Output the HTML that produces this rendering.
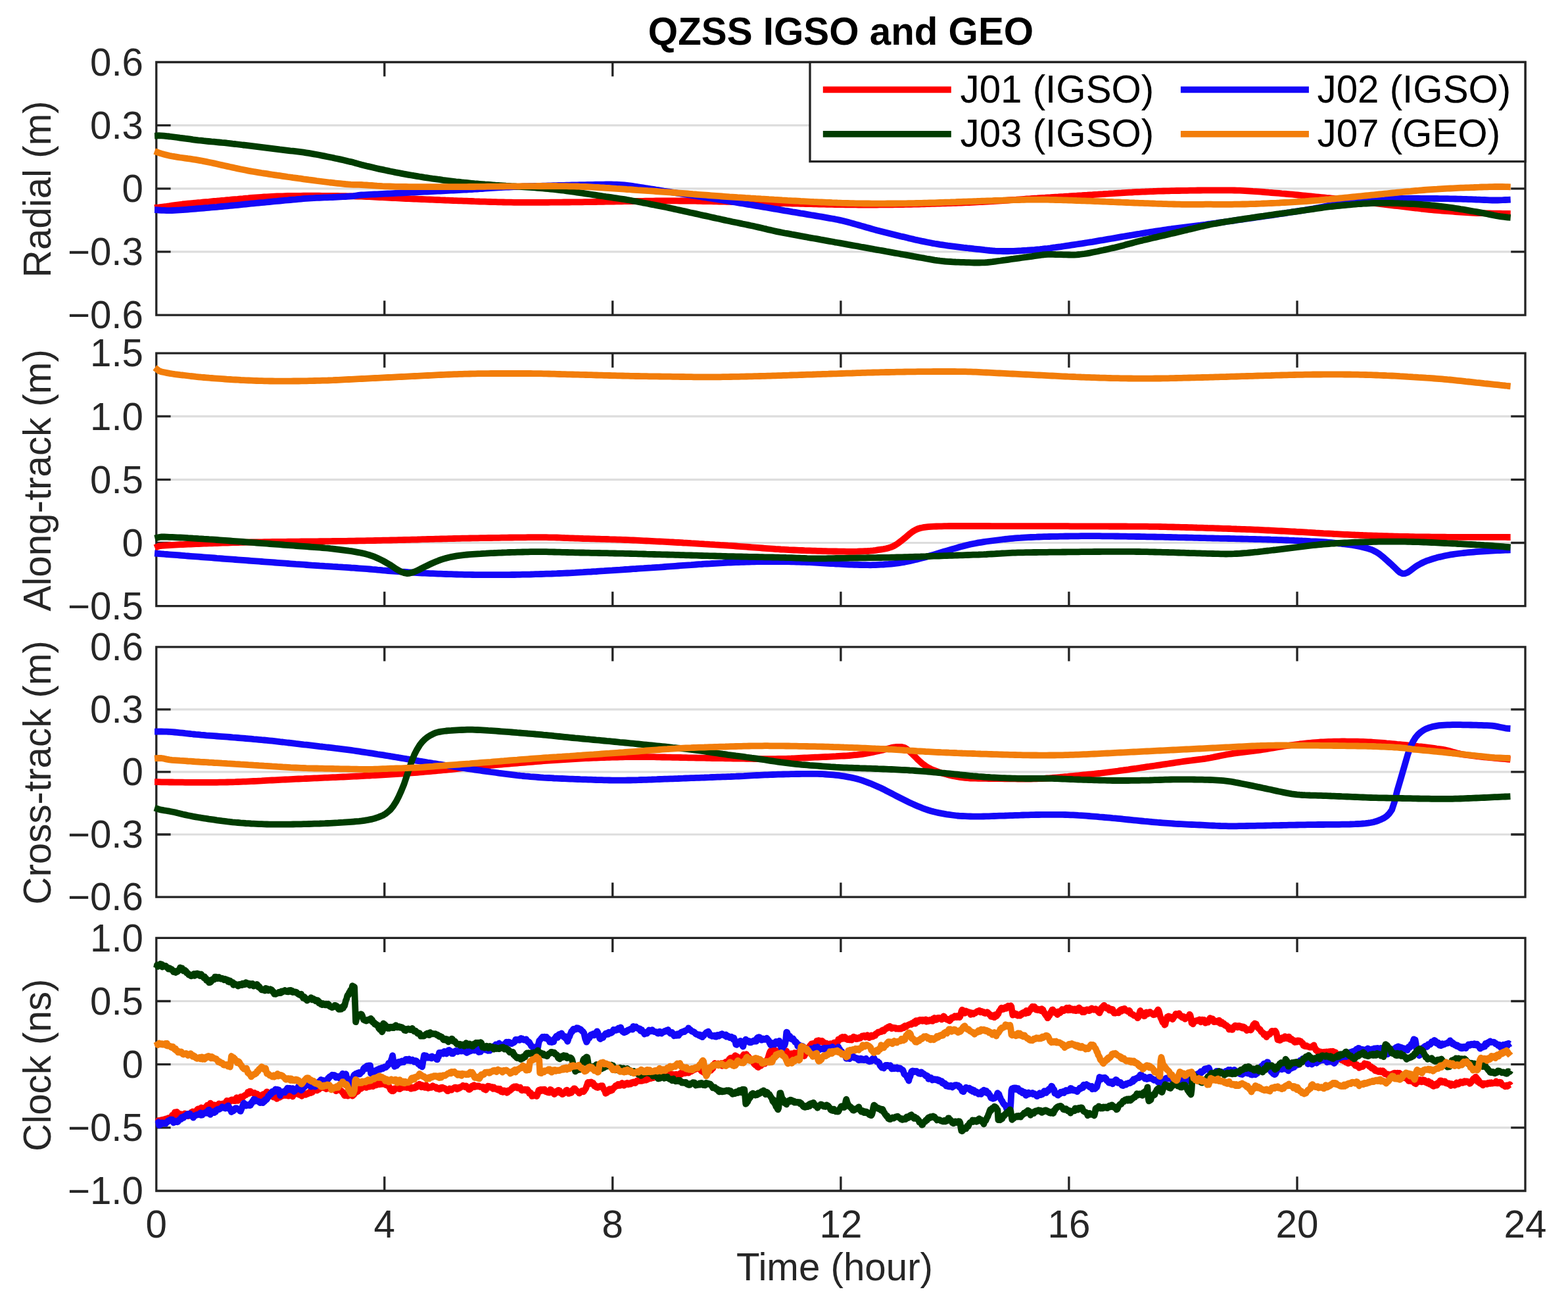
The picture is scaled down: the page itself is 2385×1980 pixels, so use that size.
<!DOCTYPE html>
<html lang="en"><head><meta charset="utf-8"><title>QZSS IGSO and GEO</title>
<style>html,body{margin:0;padding:0;background:#fff}svg{display:block}text{font-family:"Liberation Sans", Arial, Helvetica, sans-serif;font-size:58.3px}.t{fill:#262626}.k{fill:#000}.c{fill:none;stroke-width:9.8;stroke-linejoin:round;stroke-linecap:butt}.a{stroke:#232323;stroke-width:3.3;fill:none}.g{stroke:#dddddd;stroke-width:3.2}</style></head><body>
<svg xmlns="http://www.w3.org/2000/svg" width="2385" height="1980" viewBox="0 0 2385 1980">
<rect width="2385" height="1980" fill="#fff"/>
<text class="k" x="1279.0" y="67.6" text-anchor="middle" font-weight="bold">QZSS IGSO and GEO</text>
<g>
<line class="g" x1="237.8" y1="190.6" x2="2320" y2="190.6"/>
<line class="g" x1="237.8" y1="286.8" x2="2320" y2="286.8"/>
<line class="g" x1="237.8" y1="382.9" x2="2320" y2="382.9"/>
<path class="a" d="M237.8,94.5 H2320 V479.1 H237.8 Z M584.8,94.5 v21.8 M584.8,479.1 v-21.8 M931.8,94.5 v21.8 M931.8,479.1 v-21.8 M1278.9,94.5 v21.8 M1278.9,479.1 v-21.8 M1625.9,94.5 v21.8 M1625.9,479.1 v-21.8 M1973,94.5 v21.8 M1973,479.1 v-21.8 M237.8,190.6 h21.8 M2320,190.6 h-21.8 M237.8,286.8 h21.8 M2320,286.8 h-21.8 M237.8,382.9 h21.8 M2320,382.9 h-21.8"/>
<text class="t" x="218.0" y="114.8" text-anchor="end">0.6</text>
<text class="t" x="218.0" y="210.9" text-anchor="end">0.3</text>
<text class="t" x="218.0" y="307.1" text-anchor="end">0</text>
<text class="t" x="218.0" y="403.2" text-anchor="end">−0.3</text>
<text class="t" x="218.0" y="499.4" text-anchor="end">−0.6</text>
<text class="t" transform="translate(77.0,287.8) rotate(-90)" text-anchor="middle">Radial (m)</text>
<path class="c" stroke="#ff0000" d="M235.1,316 237.6,315.7 241.6,315.4 245.6,314.9 249.6,314.4 253.6,313.9 257.6,313.3 261.6,312.7 265.6,312.1 269.6,311.5 273.6,311 277.6,310.5 281.6,310.1 285.6,309.7 289.6,309.3 293.6,309 297.6,308.6 301.6,308.2 305.6,307.9 309.6,307.5 313.6,307.1 317.6,306.8 321.6,306.4 325.6,306 329.6,305.7 333.6,305.3 337.6,304.9 341.6,304.6 345.6,304.2 349.6,303.9 353.6,303.5 357.6,303.1 361.6,302.8 365.6,302.4 369.6,302.1 373.6,301.7 377.6,301.4 381.6,301 385.6,300.7 389.6,300.4 393.6,300.1 397.6,299.8 401.6,299.5 405.6,299.3 409.6,299.1 413.6,298.9 417.6,298.7 421.6,298.5 425.6,298.4 429.6,298.3 433.6,298.1 437.6,298 441.6,298 445.6,297.9 449.6,297.8 453.6,297.8 457.6,297.8 461.6,297.7 465.6,297.7 469.6,297.7 473.6,297.7 477.6,297.7 481.6,297.7 485.6,297.7 489.6,297.8 493.6,297.8 497.6,297.8 501.6,297.9 505.6,297.9 509.6,298 513.6,298 517.6,298.1 521.6,298.1 525.6,298.2 529.6,298.3 533.6,298.3 537.6,298.4 541.6,298.5 545.6,298.6 549.6,298.7 553.6,298.9 557.6,299.1 561.6,299.2 565.6,299.4 569.6,299.6 573.6,299.8 577.6,300 581.6,300.2 585.6,300.4 589.6,300.6 593.6,300.8 597.6,301 601.6,301.2 605.6,301.4 609.6,301.6 613.6,301.8 617.6,302 621.6,302.2 625.6,302.4 629.6,302.5 633.6,302.7 637.6,302.9 641.6,303 645.6,303.2 649.6,303.4 653.6,303.5 657.6,303.7 661.6,303.9 665.6,304 669.6,304.2 673.6,304.3 677.6,304.5 681.6,304.6 685.6,304.8 689.6,305 693.6,305.1 697.6,305.3 701.6,305.4 705.6,305.6 709.6,305.7 713.6,305.9 717.6,306 721.6,306.2 725.6,306.3 729.6,306.5 733.6,306.6 737.6,306.7 741.6,306.9 745.6,307 749.6,307.1 753.6,307.2 757.6,307.3 761.6,307.4 765.6,307.5 769.6,307.6 773.6,307.7 777.6,307.7 781.6,307.8 785.6,307.8 789.6,307.8 793.6,307.9 797.7,307.9 801.7,307.9 805.7,307.9 809.7,307.9 813.7,307.9 817.7,307.9 821.7,307.8 825.7,307.8 829.7,307.8 833.7,307.8 837.7,307.7 841.7,307.7 845.7,307.7 849.7,307.6 853.7,307.6 857.7,307.5 861.7,307.5 865.7,307.5 869.7,307.4 873.7,307.4 877.7,307.4 881.7,307.3 885.7,307.3 889.7,307.2 893.7,307.2 897.7,307.1 901.7,307 905.7,307 909.7,306.9 913.7,306.8 917.7,306.8 921.7,306.7 925.7,306.6 929.7,306.6 933.7,306.5 937.7,306.4 941.7,306.3 945.7,306.3 949.7,306.2 953.7,306.1 957.7,306.1 961.7,306 965.7,305.9 969.7,305.9 973.7,305.8 977.7,305.8 981.7,305.7 985.7,305.7 989.7,305.6 993.7,305.6 997.7,305.5 1001.7,305.5 1005.7,305.5 1009.7,305.5 1013.7,305.4 1017.7,305.4 1021.7,305.4 1025.7,305.4 1029.7,305.4 1033.7,305.5 1037.7,305.5 1041.7,305.5 1045.7,305.6 1049.7,305.6 1053.7,305.7 1057.7,305.7 1061.7,305.8 1065.7,305.9 1069.7,306 1073.7,306.1 1077.7,306.1 1081.7,306.2 1085.7,306.3 1089.7,306.4 1093.7,306.5 1097.7,306.6 1101.7,306.7 1105.7,306.8 1109.7,306.9 1113.7,307 1117.7,307.2 1121.7,307.3 1125.7,307.4 1129.7,307.5 1133.7,307.6 1137.7,307.7 1141.7,307.8 1145.7,307.9 1149.7,308 1153.7,308.1 1157.7,308.3 1161.7,308.4 1165.7,308.5 1169.7,308.6 1173.7,308.7 1177.7,308.8 1181.7,308.9 1185.7,309 1189.7,309.1 1193.7,309.2 1197.7,309.3 1201.7,309.4 1205.7,309.5 1209.7,309.6 1213.7,309.7 1217.7,309.8 1221.7,309.9 1225.7,310 1229.7,310.1 1233.7,310.2 1237.7,310.3 1241.7,310.4 1245.7,310.5 1249.7,310.6 1253.7,310.7 1257.7,310.8 1261.7,310.9 1265.7,310.9 1269.7,311 1273.7,311.1 1277.7,311.2 1281.7,311.2 1285.7,311.3 1289.7,311.3 1293.7,311.4 1297.7,311.4 1301.7,311.4 1305.7,311.5 1309.7,311.5 1313.7,311.5 1317.7,311.5 1321.7,311.5 1325.7,311.5 1329.7,311.5 1333.7,311.5 1337.7,311.4 1341.7,311.4 1345.7,311.4 1349.7,311.4 1353.7,311.3 1357.7,311.3 1361.7,311.2 1365.7,311.2 1369.7,311.1 1373.7,311 1377.7,310.9 1381.7,310.9 1385.7,310.8 1389.7,310.7 1393.7,310.6 1397.7,310.5 1401.7,310.4 1405.7,310.3 1409.7,310.2 1413.7,310 1417.7,309.9 1421.7,309.8 1425.7,309.7 1429.7,309.5 1433.7,309.4 1437.7,309.3 1441.7,309.2 1445.7,309 1449.7,308.9 1453.7,308.8 1457.7,308.6 1461.7,308.5 1465.7,308.3 1469.7,308.1 1473.7,308 1477.7,307.8 1481.7,307.6 1485.7,307.4 1489.7,307.2 1493.7,307 1497.7,306.8 1501.7,306.6 1505.7,306.3 1509.7,306.1 1513.7,305.8 1517.7,305.6 1521.7,305.3 1525.7,305 1529.7,304.8 1533.7,304.5 1537.7,304.2 1541.7,303.9 1545.7,303.7 1549.7,303.4 1553.7,303.1 1557.7,302.8 1561.7,302.5 1565.7,302.3 1569.7,302 1573.7,301.7 1577.7,301.5 1581.7,301.2 1585.7,300.9 1589.7,300.7 1593.7,300.4 1597.7,300.2 1601.7,299.9 1605.7,299.6 1609.7,299.4 1613.7,299.1 1617.7,298.9 1621.7,298.6 1625.7,298.4 1629.7,298.1 1633.7,297.8 1637.7,297.6 1641.7,297.3 1645.7,297.1 1649.7,296.8 1653.7,296.6 1657.7,296.3 1661.7,296.1 1665.7,295.8 1669.7,295.6 1673.7,295.3 1677.7,295.1 1681.7,294.8 1685.7,294.6 1689.7,294.3 1693.7,294.1 1697.7,293.8 1701.7,293.6 1705.7,293.4 1709.7,293.1 1713.7,292.9 1717.7,292.7 1721.7,292.5 1725.7,292.2 1729.7,292 1733.7,291.8 1737.7,291.6 1741.7,291.5 1745.7,291.3 1749.7,291.1 1753.7,291 1757.7,290.8 1761.7,290.7 1765.7,290.6 1769.7,290.5 1773.7,290.4 1777.7,290.3 1781.7,290.2 1785.7,290.1 1789.7,290 1793.7,290 1797.7,289.9 1801.7,289.8 1805.7,289.8 1809.7,289.7 1813.7,289.6 1817.7,289.6 1821.7,289.5 1825.7,289.5 1829.7,289.4 1833.7,289.4 1837.7,289.4 1841.7,289.3 1845.7,289.3 1849.7,289.3 1853.7,289.3 1857.7,289.3 1861.7,289.3 1865.7,289.3 1869.7,289.3 1873.7,289.4 1877.7,289.5 1881.7,289.6 1885.7,289.7 1889.7,289.9 1893.7,290.1 1897.7,290.3 1901.7,290.6 1905.7,290.9 1909.7,291.1 1913.7,291.4 1917.7,291.7 1921.7,292 1925.7,292.3 1929.7,292.7 1933.7,293 1937.7,293.3 1941.7,293.6 1945.7,293.9 1949.7,294.3 1953.7,294.6 1957.7,295 1961.7,295.3 1965.7,295.7 1969.7,296.1 1973.7,296.5 1977.7,296.9 1981.7,297.3 1985.7,297.7 1989.7,298.1 1993.7,298.5 1997.7,298.9 2001.7,299.3 2005.7,299.7 2009.7,300.1 2013.7,300.5 2017.7,300.9 2021.7,301.2 2025.7,301.6 2029.7,302 2033.7,302.3 2037.7,302.7 2041.7,303 2045.7,303.4 2049.7,303.8 2053.7,304.2 2057.7,304.6 2061.7,305 2065.7,305.5 2069.7,306 2073.7,306.5 2077.7,307.1 2081.7,307.6 2085.7,308.2 2089.7,308.8 2093.7,309.3 2097.7,309.8 2101.7,310.4 2105.7,310.8 2109.7,311.3 2113.7,311.8 2117.7,312.3 2121.7,312.8 2125.7,313.2 2129.7,313.7 2133.7,314.2 2137.7,314.6 2141.7,315.1 2145.7,315.6 2149.7,316.1 2153.7,316.5 2157.7,317 2161.7,317.5 2165.7,317.9 2169.7,318.4 2173.7,318.8 2177.7,319.2 2181.7,319.6 2185.7,319.9 2189.7,320.2 2193.7,320.6 2197.7,320.9 2201.7,321.1 2205.7,321.4 2209.7,321.7 2213.7,322 2217.7,322.3 2221.7,322.6 2225.7,322.9 2229.7,323.1 2233.7,323.4 2237.7,323.6 2241.7,323.8 2245.7,324 2249.7,324.1 2253.7,324.2 2257.7,324.3 2261.7,324.4 2265.7,324.5 2269.7,324.6 2273.7,324.6 2277.7,324.7 2281.7,324.7 2285.7,324.8 2289.7,324.8 2293.7,324.9 2297.7,324.9"/>
<path class="c" stroke="#1408f8" d="M235.1,319.1 237.6,319.2 241.6,319.5 245.6,319.8 249.6,319.9 253.6,320.1 257.6,320.1 261.6,320 265.6,319.8 269.6,319.6 273.6,319.4 277.6,319.1 281.6,318.8 285.6,318.5 289.6,318.1 293.6,317.8 297.6,317.5 301.6,317.1 305.6,316.8 309.6,316.5 313.6,316.1 317.6,315.8 321.6,315.4 325.6,315.1 329.6,314.8 333.6,314.4 337.6,314 341.6,313.7 345.6,313.3 349.6,312.9 353.6,312.5 357.6,312.2 361.6,311.8 365.6,311.4 369.6,310.9 373.6,310.5 377.6,310.1 381.6,309.7 385.6,309.3 389.6,308.9 393.6,308.5 397.6,308.1 401.6,307.8 405.6,307.4 409.6,307 413.6,306.6 417.6,306.2 421.6,305.9 425.6,305.5 429.6,305.1 433.6,304.7 437.6,304.4 441.6,304 445.6,303.6 449.6,303.3 453.6,302.9 457.6,302.6 461.6,302.2 465.6,301.9 469.6,301.6 473.6,301.4 477.6,301.2 481.6,300.9 485.6,300.8 489.6,300.6 493.6,300.4 497.6,300.3 501.6,300.1 505.6,300 509.6,299.8 513.6,299.6 517.6,299.4 521.6,299.2 525.6,299 529.6,298.7 533.6,298.4 537.6,298.1 541.6,297.5 545.6,296.9 549.6,296.5 553.6,296.3 557.6,296.1 561.6,295.9 565.6,295.7 569.6,295.5 573.6,295.3 577.6,295.1 581.6,294.9 585.6,294.7 589.6,294.5 593.6,294.3 597.6,294.1 601.6,293.9 605.6,293.7 609.6,293.5 613.6,293.3 617.6,293.1 621.6,292.9 625.6,292.7 629.6,292.5 633.6,292.3 637.6,292.1 641.6,291.9 645.6,291.7 649.6,291.5 653.6,291.3 657.6,291.1 661.6,290.9 665.6,290.7 669.6,290.5 673.6,290.3 677.6,290.1 681.6,289.9 685.6,289.7 689.6,289.5 693.6,289.3 697.6,289.1 701.6,288.9 705.6,288.7 709.6,288.5 713.6,288.2 717.6,288 721.6,287.7 725.6,287.5 729.6,287.2 733.6,287 737.6,286.7 741.6,286.4 745.6,286.2 749.6,285.9 753.6,285.6 757.6,285.4 761.6,285.2 765.6,284.9 769.6,284.7 773.6,284.5 777.6,284.3 781.6,284.1 785.6,284 789.6,283.8 793.6,283.7 797.7,283.5 801.7,283.4 805.7,283.2 809.7,283.1 813.7,283 817.7,282.9 821.7,282.8 825.7,282.7 829.7,282.6 833.7,282.4 837.7,282.3 841.7,282.2 845.7,282.1 849.7,282 853.7,281.9 857.7,281.8 861.7,281.7 865.7,281.6 869.7,281.5 873.7,281.4 877.7,281.3 881.7,281.2 885.7,281.1 889.7,281.1 893.7,281 897.7,280.9 901.7,280.8 905.7,280.7 909.7,280.7 913.7,280.6 917.7,280.6 921.7,280.5 925.7,280.5 929.7,280.5 933.7,280.6 937.7,280.7 941.7,280.9 945.7,281.1 949.7,281.5 953.7,281.9 957.7,282.3 961.7,282.9 965.7,283.5 969.7,284.2 973.7,284.8 977.7,285.4 981.7,286 985.7,286.7 989.7,287.3 993.7,287.9 997.7,288.6 1001.7,289.2 1005.7,289.8 1009.7,290.5 1013.7,291.1 1017.7,291.7 1021.7,292.4 1025.7,293 1029.7,293.6 1033.7,294.2 1037.7,294.9 1041.7,295.5 1045.7,296.1 1049.7,296.7 1053.7,297.3 1057.7,297.9 1061.7,298.6 1065.7,299.2 1069.7,299.8 1073.7,300.4 1077.7,301.1 1081.7,301.7 1085.7,302.3 1089.7,302.9 1093.7,303.6 1097.7,304.2 1101.7,304.9 1105.7,305.5 1109.7,306.2 1113.7,306.8 1117.7,307.5 1121.7,308.1 1125.7,308.8 1129.7,309.5 1133.7,310.1 1137.7,310.8 1141.7,311.5 1145.7,312.1 1149.7,312.8 1153.7,313.5 1157.7,314.2 1161.7,314.9 1165.7,315.5 1169.7,316.2 1173.7,316.9 1177.7,317.6 1181.7,318.2 1185.7,318.9 1189.7,319.6 1193.7,320.3 1197.7,320.9 1201.7,321.6 1205.7,322.3 1209.7,322.9 1213.7,323.6 1217.7,324.3 1221.7,324.9 1225.7,325.6 1229.7,326.3 1233.7,327 1237.7,327.6 1241.7,328.3 1245.7,329 1249.7,329.7 1253.7,330.4 1257.7,331.1 1261.7,331.8 1265.7,332.5 1269.7,333.2 1273.7,334 1277.7,334.9 1281.7,335.8 1285.7,336.8 1289.7,337.8 1293.7,338.9 1297.7,340 1301.7,341.1 1305.7,342.2 1309.7,343.4 1313.7,344.5 1317.7,345.7 1321.7,346.8 1325.7,348 1329.7,349.1 1333.7,350.2 1337.7,351.2 1341.7,352.2 1345.7,353.2 1349.7,354.2 1353.7,355.2 1357.7,356.2 1361.7,357.2 1365.7,358.2 1369.7,359.2 1373.7,360.1 1377.7,361.1 1381.7,362.1 1385.7,363 1389.7,363.9 1393.7,364.9 1397.7,365.7 1401.7,366.6 1405.7,367.4 1409.7,368.2 1413.7,369 1417.7,369.8 1421.7,370.5 1425.7,371.1 1429.7,371.8 1433.7,372.4 1437.7,373 1441.7,373.6 1445.7,374.1 1449.7,374.6 1453.7,375.1 1457.7,375.6 1461.7,376.1 1465.7,376.6 1469.7,377 1473.7,377.5 1477.7,377.9 1481.7,378.4 1485.7,378.8 1489.7,379.2 1493.7,379.7 1497.7,380.2 1501.7,380.6 1505.7,381 1509.7,381.3 1513.7,381.6 1517.7,381.8 1521.7,381.9 1525.7,382 1529.7,382 1533.7,382 1537.7,381.9 1541.7,381.8 1545.7,381.6 1549.7,381.4 1553.7,381.2 1557.7,380.9 1561.7,380.7 1565.7,380.4 1569.7,380.1 1573.7,379.8 1577.7,379.4 1581.7,379.1 1585.7,378.7 1589.7,378.2 1593.7,377.8 1597.7,377.3 1601.7,376.7 1605.7,376.2 1609.7,375.6 1613.7,375.1 1617.7,374.5 1621.7,373.9 1625.7,373.3 1629.7,372.7 1633.7,372.1 1637.7,371.5 1641.7,370.9 1645.7,370.3 1649.7,369.7 1653.7,369 1657.7,368.4 1661.7,367.8 1665.7,367.1 1669.7,366.4 1673.7,365.7 1677.7,365.1 1681.7,364.4 1685.7,363.7 1689.7,363 1693.7,362.3 1697.7,361.6 1701.7,360.9 1705.7,360.2 1709.7,359.5 1713.7,358.8 1717.7,358.2 1721.7,357.5 1725.7,356.8 1729.7,356.1 1733.7,355.5 1737.7,354.8 1741.7,354.2 1745.7,353.5 1749.7,352.9 1753.7,352.3 1757.7,351.7 1761.7,351.1 1765.7,350.5 1769.7,349.9 1773.7,349.3 1777.7,348.7 1781.7,348.2 1785.7,347.6 1789.7,347.1 1793.7,346.6 1797.7,346.1 1801.7,345.6 1805.7,345.1 1809.7,344.6 1813.7,344.1 1817.7,343.6 1821.7,343.1 1825.7,342.6 1829.7,342 1833.7,341.5 1837.7,340.9 1841.7,340.4 1845.7,339.8 1849.7,339.3 1853.7,338.7 1857.7,338.1 1861.7,337.6 1865.7,337 1869.7,336.5 1873.7,335.9 1877.7,335.3 1881.7,334.7 1885.7,334.2 1889.7,333.6 1893.7,333 1897.7,332.5 1901.7,331.9 1905.7,331.3 1909.7,330.7 1913.7,330.2 1917.7,329.6 1921.7,329 1925.7,328.4 1929.7,327.8 1933.7,327.3 1937.7,326.7 1941.7,326.1 1945.7,325.5 1949.7,324.9 1953.7,324.3 1957.7,323.7 1961.7,323 1965.7,322.4 1969.7,321.8 1973.7,321.2 1977.7,320.6 1981.7,320 1985.7,319.4 1989.7,318.7 1993.7,318 1997.7,317.3 2001.7,316.5 2005.7,315.8 2009.7,315 2013.7,314.2 2017.7,313.4 2021.7,312.6 2025.7,311.9 2029.7,311.1 2033.7,310.4 2037.7,309.8 2041.7,309.1 2045.7,308.6 2049.7,308 2053.7,307.6 2057.7,307.2 2061.7,307 2065.7,306.8 2069.7,306.6 2073.7,306.4 2077.7,306.3 2081.7,306.1 2085.7,305.9 2089.7,305.6 2093.7,305.3 2097.7,304.9 2101.7,304.5 2105.7,304.1 2109.7,303.6 2113.7,303.2 2117.7,302.8 2121.7,302.5 2125.7,302.2 2129.7,302 2133.7,301.9 2137.7,301.8 2141.7,301.7 2145.7,301.7 2149.7,301.7 2153.7,301.7 2157.7,301.7 2161.7,301.8 2165.7,301.8 2169.7,301.9 2173.7,301.9 2177.7,301.9 2181.7,302 2185.7,302 2189.7,302.1 2193.7,302.1 2197.7,302.2 2201.7,302.2 2205.7,302.3 2209.7,302.4 2213.7,302.5 2217.7,302.6 2221.7,302.7 2225.7,302.8 2229.7,302.9 2233.7,303.1 2237.7,303.2 2241.7,303.3 2245.7,303.5 2249.7,303.6 2253.7,303.8 2257.7,304 2261.7,304.2 2265.7,304.4 2269.7,304.5 2273.7,304.5 2277.7,304.5 2281.7,304.3 2285.7,304.2 2289.7,304 2293.7,303.9 2297.7,303.7"/>
<path class="c" stroke="#003c00" d="M235.1,206.6 237.6,206.5 241.6,206.2 245.6,206.4 249.6,206.7 253.6,207.1 257.6,207.5 261.6,208 265.6,208.5 269.6,209 273.6,209.6 277.6,210.1 281.6,210.7 285.6,211.2 289.6,211.7 293.6,212.3 297.6,212.8 301.6,213.3 305.6,213.7 309.6,214.2 313.6,214.6 317.6,215 321.6,215.4 325.6,215.7 329.6,216.1 333.6,216.5 337.6,216.9 341.6,217.2 345.6,217.7 349.6,218.1 353.6,218.6 357.6,219 361.6,219.5 365.6,220 369.6,220.5 373.6,220.9 377.6,221.4 381.6,221.9 385.6,222.4 389.6,222.9 393.6,223.4 397.6,223.9 401.6,224.4 405.6,224.9 409.6,225.4 413.6,225.9 417.6,226.4 421.6,226.9 425.6,227.4 429.6,227.8 433.6,228.3 437.6,228.8 441.6,229.3 445.6,229.7 449.6,230.2 453.6,230.7 457.6,231.2 461.6,231.7 465.6,232.3 469.6,232.9 473.6,233.6 477.6,234.3 481.6,235 485.6,235.8 489.6,236.6 493.6,237.4 497.6,238.2 501.6,239 505.6,239.8 509.6,240.7 513.6,241.5 517.6,242.4 521.6,243.3 525.6,244.2 529.6,245.2 533.6,246.1 537.6,247.1 541.6,248.3 545.6,249.4 549.6,250.5 553.6,251.5 557.6,252.5 561.6,253.4 565.6,254.3 569.6,255.3 573.6,256.2 577.6,257.1 581.6,257.9 585.6,258.8 589.6,259.6 593.6,260.5 597.6,261.3 601.6,262.1 605.6,262.8 609.6,263.6 613.6,264.4 617.6,265.1 621.6,265.8 625.6,266.5 629.6,267.2 633.6,267.8 637.6,268.5 641.6,269.1 645.6,269.8 649.6,270.4 653.6,271 657.6,271.6 661.6,272.1 665.6,272.7 669.6,273.2 673.6,273.8 677.6,274.3 681.6,274.8 685.6,275.3 689.6,275.8 693.6,276.3 697.6,276.7 701.6,277.2 705.6,277.6 709.6,278 713.6,278.4 717.6,278.8 721.6,279.2 725.6,279.5 729.6,279.8 733.6,280.1 737.6,280.5 741.6,280.7 745.6,281 749.6,281.3 753.6,281.6 757.6,281.8 761.6,282.1 765.6,282.3 769.6,282.6 773.6,282.8 777.6,283.1 781.6,283.3 785.6,283.6 789.6,283.8 793.6,284.1 797.7,284.3 801.7,284.6 805.7,284.9 809.7,285.1 813.7,285.4 817.7,285.8 821.7,286.1 825.7,286.4 829.7,286.8 833.7,287.1 837.7,287.5 841.7,287.9 845.7,288.3 849.7,288.8 853.7,289.3 857.7,289.7 861.7,290.3 865.7,290.8 869.7,291.4 873.7,292 877.7,292.6 881.7,293.1 885.7,293.7 889.7,294.3 893.7,294.9 897.7,295.5 901.7,296.1 905.7,296.7 909.7,297.3 913.7,297.9 917.7,298.5 921.7,299.1 925.7,299.6 929.7,300.2 933.7,300.8 937.7,301.4 941.7,302 945.7,302.6 949.7,303.2 953.7,303.9 957.7,304.5 961.7,305.3 965.7,306 969.7,306.7 973.7,307.5 977.7,308.3 981.7,309 985.7,309.8 989.7,310.6 993.7,311.3 997.7,312.1 1001.7,312.9 1005.7,313.7 1009.7,314.5 1013.7,315.3 1017.7,316.1 1021.7,317 1025.7,317.9 1029.7,318.8 1033.7,319.6 1037.7,320.5 1041.7,321.4 1045.7,322.3 1049.7,323.2 1053.7,324 1057.7,324.9 1061.7,325.8 1065.7,326.7 1069.7,327.6 1073.7,328.4 1077.7,329.3 1081.7,330.2 1085.7,331.1 1089.7,332 1093.7,332.8 1097.7,333.7 1101.7,334.6 1105.7,335.5 1109.7,336.3 1113.7,337.2 1117.7,338 1121.7,338.8 1125.7,339.6 1129.7,340.5 1133.7,341.3 1137.7,342.1 1141.7,343 1145.7,343.8 1149.7,344.7 1153.7,345.6 1157.7,346.5 1161.7,347.5 1165.7,348.4 1169.7,349.4 1173.7,350.3 1177.7,351.2 1181.7,352.1 1185.7,352.9 1189.7,353.7 1193.7,354.5 1197.7,355.2 1201.7,355.9 1205.7,356.7 1209.7,357.4 1213.7,358.1 1217.7,358.9 1221.7,359.6 1225.7,360.3 1229.7,361.1 1233.7,361.8 1237.7,362.5 1241.7,363.2 1245.7,363.9 1249.7,364.7 1253.7,365.4 1257.7,366.1 1261.7,366.8 1265.7,367.5 1269.7,368.3 1273.7,369 1277.7,369.7 1281.7,370.4 1285.7,371.1 1289.7,371.9 1293.7,372.6 1297.7,373.3 1301.7,374 1305.7,374.7 1309.7,375.5 1313.7,376.2 1317.7,376.9 1321.7,377.6 1325.7,378.3 1329.7,379.1 1333.7,379.8 1337.7,380.5 1341.7,381.2 1345.7,381.9 1349.7,382.7 1353.7,383.4 1357.7,384.1 1361.7,384.8 1365.7,385.5 1369.7,386.3 1373.7,387 1377.7,387.7 1381.7,388.4 1385.7,389.1 1389.7,389.9 1393.7,390.6 1397.7,391.3 1401.7,392 1405.7,392.7 1409.7,393.5 1413.7,394.2 1417.7,394.9 1421.7,395.6 1425.7,396.2 1429.7,396.7 1433.7,397.1 1437.7,397.5 1441.7,397.8 1445.7,398 1449.7,398.3 1453.7,398.5 1457.7,398.6 1461.7,398.8 1465.7,398.9 1469.7,399.1 1473.7,399.2 1477.7,399.4 1481.7,399.5 1485.7,399.5 1489.7,399.5 1493.7,399.4 1497.7,399.3 1501.7,399 1505.7,398.6 1509.7,398.2 1513.7,397.6 1517.7,397 1521.7,396.5 1525.7,395.9 1529.7,395.4 1533.7,394.8 1537.7,394.2 1541.7,393.7 1545.7,393.1 1549.7,392.6 1553.7,392 1557.7,391.4 1561.7,390.9 1565.7,390.3 1569.7,389.8 1573.7,389.2 1577.7,388.6 1581.7,388.1 1585.7,387.5 1589.7,387.1 1593.7,386.8 1597.7,386.8 1601.7,386.8 1605.7,387 1609.7,387.1 1613.7,387.2 1617.7,387.3 1621.7,387.4 1625.7,387.5 1629.7,387.6 1633.7,387.6 1637.7,387.4 1641.7,387 1645.7,386.5 1649.7,386 1653.7,385.3 1657.7,384.6 1661.7,383.8 1665.7,383 1669.7,382.2 1673.7,381.3 1677.7,380.5 1681.7,379.6 1685.7,378.7 1689.7,377.8 1693.7,376.9 1697.7,375.9 1701.7,374.9 1705.7,373.9 1709.7,372.9 1713.7,371.8 1717.7,370.7 1721.7,369.7 1725.7,368.6 1729.7,367.5 1733.7,366.5 1737.7,365.6 1741.7,364.6 1745.7,363.7 1749.7,362.7 1753.7,361.8 1757.7,360.9 1761.7,359.9 1765.7,359 1769.7,358.1 1773.7,357.2 1777.7,356.2 1781.7,355.3 1785.7,354.4 1789.7,353.4 1793.7,352.5 1797.7,351.5 1801.7,350.5 1805.7,349.6 1809.7,348.6 1813.7,347.7 1817.7,346.7 1821.7,345.8 1825.7,344.8 1829.7,343.9 1833.7,343 1837.7,342.1 1841.7,341.3 1845.7,340.5 1849.7,339.8 1853.7,339.1 1857.7,338.4 1861.7,337.7 1865.7,337 1869.7,336.4 1873.7,335.8 1877.7,335.1 1881.7,334.5 1885.7,333.9 1889.7,333.3 1893.7,332.7 1897.7,332.1 1901.7,331.5 1905.7,330.9 1909.7,330.3 1913.7,329.7 1917.7,329.1 1921.7,328.6 1925.7,328 1929.7,327.4 1933.7,326.9 1937.7,326.3 1941.7,325.7 1945.7,325.2 1949.7,324.6 1953.7,324.1 1957.7,323.5 1961.7,323 1965.7,322.4 1969.7,321.8 1973.7,321.3 1977.7,320.7 1981.7,320.1 1985.7,319.5 1989.7,319 1993.7,318.4 1997.7,317.8 2001.7,317.2 2005.7,316.7 2009.7,316.1 2013.7,315.5 2017.7,315 2021.7,314.5 2025.7,314 2029.7,313.6 2033.7,313.2 2037.7,312.8 2041.7,312.4 2045.7,312 2049.7,311.6 2053.7,311.3 2057.7,310.9 2061.7,310.6 2065.7,310.2 2069.7,310 2073.7,309.7 2077.7,309.5 2081.7,309.3 2085.7,309.1 2089.7,308.9 2093.7,308.8 2097.7,308.8 2101.7,308.8 2105.7,308.8 2109.7,308.8 2113.7,308.9 2117.7,309 2121.7,309.1 2125.7,309.2 2129.7,309.3 2133.7,309.5 2137.7,309.6 2141.7,309.8 2145.7,310 2149.7,310.2 2153.7,310.4 2157.7,310.7 2161.7,311 2165.7,311.3 2169.7,311.6 2173.7,311.9 2177.7,312.3 2181.7,312.7 2185.7,313.1 2189.7,313.6 2193.7,314.1 2197.7,314.6 2201.7,315.1 2205.7,315.6 2209.7,316.2 2213.7,316.8 2217.7,317.4 2221.7,318.1 2225.7,318.7 2229.7,319.4 2233.7,320.1 2237.7,320.8 2241.7,321.5 2245.7,322.2 2249.7,322.9 2253.7,323.6 2257.7,324.4 2261.7,325.3 2265.7,326.1 2269.7,326.9 2273.7,327.7 2277.7,328.5 2281.7,329.1 2285.7,329.6 2289.7,330.1 2293.7,330.6 2297.7,330.9"/>
<path class="c" stroke="#f27d0a" d="M235.1,230 237.6,230.9 241.6,232.3 245.6,233.6 249.6,234.7 253.6,235.7 257.6,236.7 261.6,237.5 265.6,238.2 269.6,238.8 273.6,239.5 277.6,240 281.6,240.6 285.6,241.2 289.6,241.7 293.6,242.3 297.6,242.9 301.6,243.6 305.6,244.3 309.6,245.1 313.6,245.9 317.6,246.7 321.6,247.5 325.6,248.4 329.6,249.3 333.6,250.2 337.6,251.1 341.6,252 345.6,252.9 349.6,253.8 353.6,254.6 357.6,255.5 361.6,256.4 365.6,257.2 369.6,258 373.6,258.8 377.6,259.6 381.6,260.3 385.6,261 389.6,261.7 393.6,262.3 397.6,263 401.6,263.6 405.6,264.2 409.6,264.9 413.6,265.5 417.6,266.1 421.6,266.7 425.6,267.2 429.6,267.8 433.6,268.4 437.6,269 441.6,269.5 445.6,270.1 449.6,270.6 453.6,271.2 457.6,271.7 461.6,272.3 465.6,272.8 469.6,273.4 473.6,273.9 477.6,274.4 481.6,275 485.6,275.5 489.6,276 493.6,276.5 497.6,277 501.6,277.5 505.6,277.9 509.6,278.4 513.6,278.8 517.6,279.2 521.6,279.6 525.6,280 529.6,280.3 533.6,280.6 537.6,280.8 541.6,280.9 545.6,280.9 549.6,281 553.6,281.3 557.6,281.5 561.6,281.8 565.6,282 569.6,282.3 573.6,282.6 577.6,282.8 581.6,283.1 585.6,283.3 589.6,283.4 593.6,283.5 597.6,283.6 601.6,283.8 605.6,283.8 609.6,283.9 613.6,284 617.6,284 621.6,284.1 625.6,284.1 629.6,284.1 633.6,284.1 637.6,284.2 641.6,284.2 645.6,284.2 649.6,284.2 653.6,284.2 657.6,284.2 661.6,284.2 665.6,284.2 669.6,284.2 673.6,284.2 677.6,284.2 681.6,284.2 685.6,284.2 689.6,284.2 693.6,284.2 697.6,284.1 701.6,284.1 705.6,284.1 709.6,284.1 713.6,284 717.6,284 721.6,284 725.6,283.9 729.6,283.9 733.6,283.8 737.6,283.8 741.6,283.7 745.6,283.7 749.6,283.6 753.6,283.6 757.6,283.6 761.6,283.5 765.6,283.5 769.6,283.4 773.6,283.4 777.6,283.4 781.6,283.3 785.6,283.3 789.6,283.3 793.6,283.2 797.7,283.2 801.7,283.2 805.7,283.1 809.7,283.1 813.7,283.1 817.7,283 821.7,283 825.7,283 829.7,283 833.7,283 837.7,283 841.7,283 845.7,283 849.7,283.1 853.7,283.1 857.7,283.2 861.7,283.2 865.7,283.3 869.7,283.3 873.7,283.4 877.7,283.5 881.7,283.7 885.7,283.8 889.7,284 893.7,284.2 897.7,284.4 901.7,284.6 905.7,284.8 909.7,285 913.7,285.3 917.7,285.5 921.7,285.8 925.7,286 929.7,286.3 933.7,286.6 937.7,286.9 941.7,287.1 945.7,287.4 949.7,287.7 953.7,288 957.7,288.2 961.7,288.5 965.7,288.8 969.7,289.1 973.7,289.3 977.7,289.6 981.7,289.9 985.7,290.2 989.7,290.4 993.7,290.7 997.7,291 1001.7,291.3 1005.7,291.6 1009.7,291.9 1013.7,292.1 1017.7,292.4 1021.7,292.7 1025.7,293 1029.7,293.3 1033.7,293.6 1037.7,293.9 1041.7,294.2 1045.7,294.5 1049.7,294.8 1053.7,295.2 1057.7,295.5 1061.7,295.8 1065.7,296.1 1069.7,296.4 1073.7,296.7 1077.7,297 1081.7,297.3 1085.7,297.6 1089.7,297.9 1093.7,298.2 1097.7,298.5 1101.7,298.8 1105.7,299.1 1109.7,299.4 1113.7,299.6 1117.7,299.9 1121.7,300.2 1125.7,300.4 1129.7,300.7 1133.7,301 1137.7,301.2 1141.7,301.5 1145.7,301.7 1149.7,302 1153.7,302.2 1157.7,302.5 1161.7,302.7 1165.7,302.9 1169.7,303.2 1173.7,303.4 1177.7,303.7 1181.7,303.9 1185.7,304.1 1189.7,304.4 1193.7,304.6 1197.7,304.9 1201.7,305.1 1205.7,305.3 1209.7,305.5 1213.7,305.7 1217.7,306 1221.7,306.2 1225.7,306.4 1229.7,306.6 1233.7,306.8 1237.7,307 1241.7,307.1 1245.7,307.3 1249.7,307.5 1253.7,307.7 1257.7,307.9 1261.7,308 1265.7,308.2 1269.7,308.3 1273.7,308.5 1277.7,308.6 1281.7,308.8 1285.7,308.9 1289.7,309 1293.7,309.1 1297.7,309.2 1301.7,309.3 1305.7,309.3 1309.7,309.4 1313.7,309.5 1317.7,309.5 1321.7,309.5 1325.7,309.6 1329.7,309.6 1333.7,309.6 1337.7,309.6 1341.7,309.6 1345.7,309.6 1349.7,309.5 1353.7,309.5 1357.7,309.5 1361.7,309.5 1365.7,309.4 1369.7,309.4 1373.7,309.3 1377.7,309.3 1381.7,309.2 1385.7,309.1 1389.7,309.1 1393.7,309 1397.7,308.9 1401.7,308.8 1405.7,308.7 1409.7,308.6 1413.7,308.5 1417.7,308.4 1421.7,308.3 1425.7,308.1 1429.7,308 1433.7,307.9 1437.7,307.7 1441.7,307.6 1445.7,307.5 1449.7,307.3 1453.7,307.2 1457.7,307 1461.7,306.9 1465.7,306.7 1469.7,306.6 1473.7,306.4 1477.7,306.3 1481.7,306.1 1485.7,306 1489.7,305.8 1493.7,305.7 1497.7,305.6 1501.7,305.4 1505.7,305.3 1509.7,305.2 1513.7,305 1517.7,304.9 1521.7,304.8 1525.7,304.7 1529.7,304.5 1533.7,304.4 1537.7,304.3 1541.7,304.2 1545.7,304.1 1549.7,304 1553.7,303.9 1557.7,303.8 1561.7,303.7 1565.7,303.7 1569.7,303.6 1573.7,303.6 1577.7,303.6 1581.7,303.6 1585.7,303.6 1589.7,303.7 1593.7,303.7 1597.7,303.8 1601.7,303.9 1605.7,304 1609.7,304.1 1613.7,304.2 1617.7,304.3 1621.7,304.4 1625.7,304.6 1629.7,304.7 1633.7,304.8 1637.7,305 1641.7,305.1 1645.7,305.3 1649.7,305.4 1653.7,305.6 1657.7,305.7 1661.7,305.9 1665.7,306.1 1669.7,306.2 1673.7,306.4 1677.7,306.5 1681.7,306.7 1685.7,306.8 1689.7,307 1693.7,307.2 1697.7,307.3 1701.7,307.5 1705.7,307.7 1709.7,307.8 1713.7,308 1717.7,308.2 1721.7,308.3 1725.7,308.5 1729.7,308.6 1733.7,308.8 1737.7,308.9 1741.7,309.1 1745.7,309.2 1749.7,309.4 1753.7,309.5 1757.7,309.7 1761.7,309.8 1765.7,309.9 1769.7,310.1 1773.7,310.2 1777.7,310.3 1781.7,310.4 1785.7,310.5 1789.7,310.6 1793.7,310.7 1797.7,310.8 1801.7,310.8 1805.7,310.9 1809.7,310.9 1813.7,310.9 1817.7,310.9 1821.7,310.9 1825.7,310.8 1829.7,310.8 1833.7,310.7 1837.7,310.7 1841.7,310.7 1845.7,310.8 1849.7,310.8 1853.7,310.8 1857.7,310.8 1861.7,310.8 1865.7,310.8 1869.7,310.8 1873.7,310.8 1877.7,310.7 1881.7,310.7 1885.7,310.6 1889.7,310.5 1893.7,310.5 1897.7,310.3 1901.7,310.2 1905.7,310.1 1909.7,310 1913.7,309.8 1917.7,309.7 1921.7,309.5 1925.7,309.4 1929.7,309.2 1933.7,309 1937.7,308.8 1941.7,308.7 1945.7,308.5 1949.7,308.2 1953.7,308 1957.7,307.8 1961.7,307.6 1965.7,307.3 1969.7,307.1 1973.7,306.9 1977.7,306.6 1981.7,306.3 1985.7,306.1 1989.7,305.8 1993.7,305.5 1997.7,305.2 2001.7,304.9 2005.7,304.6 2009.7,304.2 2013.7,303.8 2017.7,303.4 2021.7,303.1 2025.7,302.7 2029.7,302.3 2033.7,301.9 2037.7,301.5 2041.7,301.1 2045.7,300.7 2049.7,300.3 2053.7,299.9 2057.7,299.5 2061.7,299.1 2065.7,298.7 2069.7,298.3 2073.7,297.9 2077.7,297.5 2081.7,297.1 2085.7,296.7 2089.7,296.3 2093.7,295.9 2097.7,295.5 2101.7,295.1 2105.7,294.7 2109.7,294.3 2113.7,293.9 2117.7,293.5 2121.7,293.1 2125.7,292.7 2129.7,292.3 2133.7,291.9 2137.7,291.5 2141.7,291.1 2145.7,290.8 2149.7,290.4 2153.7,290 2157.7,289.7 2161.7,289.3 2165.7,289 2169.7,288.7 2173.7,288.4 2177.7,288.1 2181.7,287.8 2185.7,287.6 2189.7,287.3 2193.7,287.1 2197.7,286.9 2201.7,286.7 2205.7,286.5 2209.7,286.3 2213.7,286.1 2217.7,285.9 2221.7,285.7 2225.7,285.6 2229.7,285.4 2233.7,285.3 2237.7,285.1 2241.7,285 2245.7,284.8 2249.7,284.7 2253.7,284.5 2257.7,284.4 2261.7,284.3 2265.7,284.2 2269.7,284.1 2273.7,284 2277.7,284 2281.7,284 2285.7,284 2289.7,284.1 2293.7,284.2 2297.7,284.3"/>
</g>
<g>
<line class="g" x1="237.8" y1="633.2" x2="2320" y2="633.2"/>
<line class="g" x1="237.8" y1="729.4" x2="2320" y2="729.4"/>
<line class="g" x1="237.8" y1="825.5" x2="2320" y2="825.5"/>
<path class="a" d="M237.8,537.1 H2320 V921.6 H237.8 Z M584.8,537.1 v21.8 M584.8,921.6 v-21.8 M931.8,537.1 v21.8 M931.8,921.6 v-21.8 M1278.9,537.1 v21.8 M1278.9,921.6 v-21.8 M1625.9,537.1 v21.8 M1625.9,921.6 v-21.8 M1973,537.1 v21.8 M1973,921.6 v-21.8 M237.8,633.2 h21.8 M2320,633.2 h-21.8 M237.8,729.4 h21.8 M2320,729.4 h-21.8 M237.8,825.5 h21.8 M2320,825.5 h-21.8"/>
<text class="t" x="218.0" y="557.4" text-anchor="end">1.5</text>
<text class="t" x="218.0" y="653.5" text-anchor="end">1.0</text>
<text class="t" x="218.0" y="749.6" text-anchor="end">0.5</text>
<text class="t" x="218.0" y="845.8" text-anchor="end">0</text>
<text class="t" x="218.0" y="941.9" text-anchor="end">−0.5</text>
<text class="t" transform="translate(77.0,730.4) rotate(-90)" text-anchor="middle">Along-track (m)</text>
<path class="c" stroke="#ff0000" d="M235.5,833 238,832 242,830.4 246,829.8 250,829.5 254,829.3 258,829 262,828.8 266,828.6 270.1,828.4 274.1,828.2 278.1,828.1 282.1,827.9 286.1,827.7 290.1,827.6 294.1,827.4 298.1,827.2 302.1,827 306.1,826.9 310.1,826.7 314.1,826.6 318.1,826.4 322.1,826.3 326.2,826.1 330.2,826 334.2,825.9 338.2,825.7 342.2,825.6 346.2,825.5 350.2,825.4 354.2,825.2 358.2,825.1 362.2,825 366.2,824.9 370.2,824.8 374.2,824.7 378.2,824.6 382.3,824.5 386.3,824.5 390.3,824.4 394.3,824.3 398.3,824.3 402.3,824.2 406.3,824.2 410.3,824.1 414.3,824 418.3,824 422.3,823.9 426.3,823.9 430.3,823.8 434.3,823.8 438.4,823.7 442.4,823.7 446.4,823.6 450.4,823.6 454.4,823.6 458.4,823.5 462.4,823.5 466.4,823.4 470.4,823.4 474.4,823.4 478.4,823.3 482.4,823.3 486.4,823.2 490.4,823.2 494.4,823.2 498.5,823.1 502.5,823.1 506.5,823 510.5,823 514.5,822.9 518.5,822.9 522.5,822.8 526.5,822.8 530.5,822.7 534.5,822.6 538.5,822.6 542.5,822.5 546.5,822.4 550.5,822.4 554.6,822.3 558.6,822.2 562.6,822.1 566.6,822.1 570.6,822 574.6,821.9 578.6,821.8 582.6,821.7 586.6,821.7 590.6,821.6 594.6,821.5 598.6,821.4 602.6,821.3 606.6,821.2 610.7,821.1 614.7,821 618.7,820.9 622.7,820.8 626.7,820.7 630.7,820.6 634.7,820.5 638.7,820.3 642.7,820.2 646.7,820.1 650.7,820 654.7,819.9 658.7,819.8 662.7,819.7 666.7,819.6 670.8,819.5 674.8,819.4 678.8,819.3 682.8,819.2 686.8,819.1 690.8,819 694.8,818.9 698.8,818.8 702.8,818.7 706.8,818.7 710.8,818.6 714.8,818.5 718.8,818.4 722.8,818.4 726.9,818.3 730.9,818.2 734.9,818.1 738.9,818.1 742.9,818 746.9,818 750.9,817.9 754.9,817.8 758.9,817.8 762.9,817.7 766.9,817.6 770.9,817.6 774.9,817.5 778.9,817.5 783,817.4 787,817.4 791,817.3 795,817.3 799,817.3 803,817.2 807,817.2 811,817.2 815,817.2 819,817.2 823,817.2 827,817.2 831,817.2 835,817.3 839.1,817.3 843.1,817.4 847.1,817.5 851.1,817.6 855.1,817.8 859.1,818 863.1,818.1 867.1,818.3 871.1,818.4 875.1,818.6 879.1,818.7 883.1,818.8 887.1,819 891.1,819.1 895.1,819.2 899.2,819.3 903.2,819.4 907.2,819.6 911.2,819.7 915.2,819.8 919.2,819.9 923.2,820 927.2,820.2 931.2,820.3 935.2,820.4 939.2,820.6 943.2,820.7 947.2,820.9 951.2,821 955.3,821.2 959.3,821.4 963.3,821.5 967.3,821.7 971.3,821.9 975.3,822.1 979.3,822.3 983.3,822.5 987.3,822.7 991.3,822.9 995.3,823.1 999.3,823.3 1003.3,823.5 1007.3,823.7 1011.4,823.9 1015.4,824.1 1019.4,824.3 1023.4,824.5 1027.4,824.8 1031.4,825 1035.4,825.2 1039.4,825.5 1043.4,825.7 1047.4,825.9 1051.4,826.2 1055.4,826.4 1059.4,826.6 1063.4,826.9 1067.4,827.1 1071.5,827.4 1075.5,827.6 1079.5,827.9 1083.5,828.1 1087.5,828.4 1091.5,828.6 1095.5,828.9 1099.5,829.1 1103.5,829.4 1107.5,829.7 1111.5,829.9 1115.5,830.2 1119.5,830.5 1123.5,830.8 1127.6,831.1 1131.6,831.4 1135.6,831.7 1139.6,832 1143.6,832.3 1147.6,832.6 1151.6,832.9 1155.6,833.2 1159.6,833.5 1163.6,833.8 1167.6,834.1 1171.6,834.4 1175.6,834.7 1179.6,835 1183.7,835.2 1187.7,835.5 1191.7,835.7 1195.7,835.9 1199.7,836.2 1203.7,836.3 1207.7,836.5 1211.7,836.7 1215.7,836.9 1219.7,837 1223.7,837.2 1227.7,837.3 1231.7,837.4 1235.7,837.6 1239.8,837.7 1243.8,837.8 1247.8,837.9 1251.8,838.1 1255.8,838.2 1259.8,838.3 1263.8,838.4 1267.8,838.5 1271.8,838.5 1275.8,838.6 1279.8,838.7 1283.8,838.7 1287.8,838.8 1291.8,838.8 1295.8,838.8 1299.9,838.8 1303.9,838.7 1307.9,838.5 1311.9,838.4 1315.9,838.2 1319.9,838 1323.9,837.7 1327.9,837.3 1331.9,836.8 1335.9,836.2 1339.9,835.6 1343.9,835 1347.9,834.2 1351.9,833.2 1356,831.9 1360,830 1364,827.6 1368,824.7 1372,821.6 1376,818.4 1380,815 1384,811.6 1388,808.5 1392,806.1 1396,804.2 1400,803 1404,802.2 1408,801.6 1412.1,801.1 1416.1,800.8 1420.1,800.6 1424.1,800.5 1428.1,800.4 1432.1,800.3 1436.1,800.2 1440.1,800.1 1444.1,800 1448.1,800 1452.1,800 1456.1,800 1460.1,800 1464.1,800 1468.2,800 1472.2,800 1476.2,800 1480.2,800 1484.2,800 1488.2,800 1492.2,800 1496.2,800 1500.2,800 1504.2,800 1508.2,800.1 1512.2,800.1 1516.2,800.1 1520.2,800.1 1524.2,800.1 1528.3,800.1 1532.3,800.2 1536.3,800.2 1540.3,800.2 1544.3,800.2 1548.3,800.2 1552.3,800.2 1556.3,800.2 1560.3,800.2 1564.3,800.2 1568.3,800.2 1572.3,800.2 1576.3,800.2 1580.3,800.2 1584.4,800.2 1588.4,800.2 1592.4,800.2 1596.4,800.2 1600.4,800.2 1604.4,800.2 1608.4,800.2 1612.4,800.2 1616.4,800.2 1620.4,800.2 1624.4,800.2 1628.4,800.3 1632.4,800.3 1636.4,800.3 1640.5,800.3 1644.5,800.3 1648.5,800.3 1652.5,800.3 1656.5,800.4 1660.5,800.4 1664.5,800.4 1668.5,800.4 1672.5,800.4 1676.5,800.4 1680.5,800.4 1684.5,800.4 1688.5,800.5 1692.5,800.5 1696.5,800.5 1700.6,800.5 1704.6,800.5 1708.6,800.5 1712.6,800.5 1716.6,800.6 1720.6,800.6 1724.6,800.6 1728.6,800.6 1732.6,800.6 1736.6,800.6 1740.6,800.7 1744.6,800.7 1748.6,800.8 1752.6,800.8 1756.7,800.9 1760.7,800.9 1764.7,801 1768.7,801.1 1772.7,801.2 1776.7,801.3 1780.7,801.4 1784.7,801.5 1788.7,801.6 1792.7,801.7 1796.7,801.8 1800.7,801.9 1804.7,802 1808.7,802.1 1812.8,802.2 1816.8,802.3 1820.8,802.5 1824.8,802.6 1828.8,802.7 1832.8,802.8 1836.8,803 1840.8,803.1 1844.8,803.2 1848.8,803.4 1852.8,803.5 1856.8,803.6 1860.8,803.8 1864.8,803.9 1868.9,804 1872.9,804.2 1876.9,804.3 1880.9,804.5 1884.9,804.6 1888.9,804.8 1892.9,804.9 1896.9,805.1 1900.9,805.2 1904.9,805.4 1908.9,805.6 1912.9,805.7 1916.9,805.9 1920.9,806.1 1924.9,806.3 1929,806.5 1933,806.7 1937,806.9 1941,807.1 1945,807.3 1949,807.5 1953,807.7 1957,807.9 1961,808.1 1965,808.3 1969,808.5 1973,808.8 1977,809 1981,809.2 1985.1,809.4 1989.1,809.7 1993.1,809.9 1997.1,810.1 2001.1,810.4 2005.1,810.6 2009.1,810.8 2013.1,811.1 2017.1,811.3 2021.1,811.5 2025.1,811.7 2029.1,812 2033.1,812.2 2037.1,812.4 2041.2,812.6 2045.2,812.8 2049.2,812.9 2053.2,813.1 2057.2,813.3 2061.2,813.5 2065.2,813.6 2069.2,813.8 2073.2,814 2077.2,814.1 2081.2,814.3 2085.2,814.4 2089.2,814.6 2093.2,814.7 2097.2,814.9 2101.3,815 2105.3,815.1 2109.3,815.2 2113.3,815.4 2117.3,815.5 2121.3,815.6 2125.3,815.7 2129.3,815.8 2133.3,815.9 2137.3,816 2141.3,816 2145.3,816.1 2149.3,816.2 2153.3,816.3 2157.4,816.3 2161.4,816.4 2165.4,816.4 2169.4,816.5 2173.4,816.5 2177.4,816.6 2181.4,816.6 2185.4,816.7 2189.4,816.7 2193.4,816.7 2197.4,816.7 2201.4,816.8 2205.4,816.8 2209.4,816.8 2213.5,816.8 2217.5,816.8 2221.5,816.8 2225.5,816.8 2229.5,816.8 2233.5,816.8 2237.5,816.8 2241.5,816.8 2245.5,816.8 2249.5,816.8 2253.5,816.8 2257.5,816.8 2261.5,816.8 2265.5,816.8 2269.6,816.8 2273.6,816.8 2277.6,816.8 2281.6,816.9 2285.6,816.9 2289.6,816.9 2293.6,817 2297.6,817"/>
<path class="c" stroke="#1408f8" d="M235.1,841.5 237.6,841.7 241.6,842 245.6,842.3 249.6,842.7 253.7,843 257.7,843.3 261.7,843.6 265.7,843.9 269.7,844.2 273.7,844.5 277.7,844.8 281.7,845.2 285.7,845.5 289.7,845.8 293.7,846.1 297.7,846.4 301.7,846.7 305.8,847 309.8,847.3 313.8,847.6 317.8,847.9 321.8,848.2 325.8,848.5 329.8,848.9 333.8,849.2 337.8,849.5 341.8,849.8 345.8,850.1 349.8,850.4 353.8,850.7 357.9,851 361.9,851.3 365.9,851.6 369.9,851.9 373.9,852.2 377.9,852.5 381.9,852.8 385.9,853.1 389.9,853.4 393.9,853.7 397.9,854 401.9,854.3 405.9,854.6 410,854.9 414,855.2 418,855.5 422,855.8 426,856.1 430,856.4 434,856.7 438,857 442,857.3 446,857.6 450,857.9 454,858.1 458,858.4 462.1,858.7 466.1,859 470.1,859.3 474.1,859.6 478.1,859.8 482.1,860.1 486.1,860.4 490.1,860.6 494.1,860.9 498.1,861.1 502.1,861.4 506.1,861.7 510.1,861.9 514.2,862.2 518.2,862.4 522.2,862.7 526.2,862.9 530.2,863.2 534.2,863.5 538.2,863.7 542.2,864 546.2,864.3 550.2,864.6 554.2,864.9 558.2,865.2 562.2,865.5 566.3,865.9 570.3,866.2 574.3,866.6 578.3,866.9 582.3,867.3 586.3,867.6 590.3,868 594.3,868.3 598.3,868.6 602.3,868.9 606.3,869.2 610.3,869.5 614.3,869.7 618.4,870 622.4,870.3 626.4,870.5 630.4,870.8 634.4,871 638.4,871.3 642.4,871.5 646.4,871.7 650.4,871.9 654.4,872.1 658.4,872.2 662.4,872.4 666.4,872.6 670.5,872.7 674.5,872.9 678.5,873 682.5,873.1 686.5,873.2 690.5,873.4 694.5,873.5 698.5,873.6 702.5,873.7 706.5,873.8 710.5,873.8 714.5,873.9 718.5,874 722.6,874.1 726.6,874.1 730.6,874.2 734.6,874.2 738.6,874.2 742.6,874.2 746.6,874.2 750.6,874.2 754.6,874.2 758.6,874.2 762.6,874.2 766.6,874.2 770.6,874.1 774.7,874.1 778.7,874 782.7,874 786.7,873.9 790.7,873.8 794.7,873.7 798.7,873.6 802.7,873.6 806.7,873.5 810.7,873.3 814.7,873.2 818.7,873.1 822.7,873 826.8,872.9 830.8,872.7 834.8,872.6 838.8,872.5 842.8,872.3 846.8,872.2 850.8,872 854.8,871.9 858.8,871.7 862.8,871.5 866.8,871.3 870.8,871.1 874.9,870.9 878.9,870.6 882.9,870.4 886.9,870.2 890.9,869.9 894.9,869.7 898.9,869.5 902.9,869.2 906.9,869 910.9,868.7 914.9,868.4 918.9,868.2 922.9,867.9 927,867.6 931,867.4 935,867.1 939,866.8 943,866.6 947,866.3 951,866 955,865.8 959,865.5 963,865.2 967,865 971,864.7 975,864.4 979.1,864.2 983.1,863.9 987.1,863.6 991.1,863.4 995.1,863.1 999.1,862.8 1003.1,862.6 1007.1,862.3 1011.1,862 1015.1,861.7 1019.1,861.4 1023.1,861.1 1027.1,860.8 1031.2,860.5 1035.2,860.2 1039.2,859.9 1043.2,859.6 1047.2,859.3 1051.2,859.1 1055.2,858.8 1059.2,858.5 1063.2,858.2 1067.2,858 1071.2,857.7 1075.2,857.5 1079.2,857.3 1083.3,857 1087.3,856.8 1091.3,856.6 1095.3,856.4 1099.3,856.2 1103.3,855.9 1107.3,855.7 1111.3,855.6 1115.3,855.4 1119.3,855.2 1123.3,855.1 1127.3,854.9 1131.3,854.8 1135.4,854.6 1139.4,854.5 1143.4,854.4 1147.4,854.3 1151.4,854.2 1155.4,854.1 1159.4,854 1163.4,854 1167.4,854 1171.4,854 1175.4,853.9 1179.4,854 1183.4,854 1187.5,854 1191.5,854.1 1195.5,854.1 1199.5,854.2 1203.5,854.3 1207.5,854.4 1211.5,854.5 1215.5,854.6 1219.5,854.8 1223.5,854.9 1227.5,855.1 1231.5,855.2 1235.5,855.4 1239.6,855.6 1243.6,855.8 1247.6,856 1251.6,856.3 1255.6,856.5 1259.6,856.8 1263.6,857 1267.6,857.2 1271.6,857.5 1275.6,857.7 1279.6,857.9 1283.6,858.1 1287.6,858.3 1291.7,858.5 1295.7,858.6 1299.7,858.8 1303.7,858.9 1307.7,859 1311.7,859.1 1315.7,859.2 1319.7,859.2 1323.7,859.3 1327.7,859.2 1331.7,859.1 1335.7,858.9 1339.7,858.7 1343.8,858.5 1347.8,858.2 1351.8,857.9 1355.8,857.5 1359.8,857.1 1363.8,856.7 1367.8,856.1 1371.8,855.5 1375.8,854.8 1379.8,854 1383.8,853.2 1387.8,852.3 1391.8,851.3 1395.9,850.4 1399.9,849.3 1403.9,848.3 1407.9,847.2 1411.9,846 1415.9,844.8 1419.9,843.6 1423.9,842.4 1427.9,841.2 1431.9,840 1435.9,838.8 1439.9,837.6 1444,836.4 1448,835.2 1452,834.1 1456,833 1460,831.8 1464,830.8 1468,829.7 1472,828.7 1476,827.8 1480,827 1484,826.2 1488,825.4 1492,824.8 1496.1,824.1 1500.1,823.5 1504.1,823 1508.1,822.5 1512.1,822 1516.1,821.5 1520.1,821 1524.1,820.5 1528.1,820 1532.1,819.6 1536.1,819.2 1540.1,818.8 1544.1,818.4 1548.2,818.1 1552.2,817.9 1556.2,817.6 1560.2,817.4 1564.2,817.2 1568.2,817 1572.2,816.8 1576.2,816.7 1580.2,816.5 1584.2,816.4 1588.2,816.2 1592.2,816.1 1596.2,816 1600.3,815.9 1604.3,815.9 1608.3,815.8 1612.3,815.7 1616.3,815.6 1620.3,815.5 1624.3,815.5 1628.3,815.4 1632.3,815.4 1636.3,815.3 1640.3,815.3 1644.3,815.2 1648.3,815.2 1652.4,815.2 1656.4,815.2 1660.4,815.2 1664.4,815.2 1668.4,815.2 1672.4,815.2 1676.4,815.3 1680.4,815.3 1684.4,815.3 1688.4,815.4 1692.4,815.4 1696.4,815.5 1700.4,815.5 1704.5,815.6 1708.5,815.6 1712.5,815.7 1716.5,815.8 1720.5,815.8 1724.5,815.9 1728.5,816 1732.5,816 1736.5,816.1 1740.5,816.2 1744.5,816.3 1748.5,816.3 1752.5,816.4 1756.6,816.5 1760.6,816.6 1764.6,816.7 1768.6,816.7 1772.6,816.8 1776.6,816.9 1780.6,817 1784.6,817.1 1788.6,817.2 1792.6,817.3 1796.6,817.4 1800.6,817.4 1804.6,817.5 1808.7,817.6 1812.7,817.7 1816.7,817.8 1820.7,817.9 1824.7,818 1828.7,818.1 1832.7,818.2 1836.7,818.3 1840.7,818.4 1844.7,818.5 1848.7,818.6 1852.7,818.7 1856.7,818.8 1860.8,818.9 1864.8,818.9 1868.8,819 1872.8,819.1 1876.8,819.2 1880.8,819.3 1884.8,819.4 1888.8,819.5 1892.8,819.6 1896.8,819.7 1900.8,819.8 1904.8,819.9 1908.8,820 1912.9,820.1 1916.9,820.2 1920.9,820.3 1924.9,820.4 1928.9,820.5 1932.9,820.7 1936.9,820.8 1940.9,820.9 1944.9,821.1 1948.9,821.2 1952.9,821.4 1956.9,821.5 1960.9,821.7 1965,821.8 1969,822 1973,822.1 1977,822.3 1981,822.5 1985,822.6 1989,822.8 1993,823.1 1997,823.3 2001,823.5 2005,823.7 2009,823.9 2013.1,824.2 2017.1,824.5 2021.1,824.8 2025.1,825.2 2029.1,825.6 2033.1,826.1 2037.1,826.5 2041.1,827 2045.1,827.4 2049.1,827.9 2053.1,828.4 2057.1,829 2061.1,829.7 2065.2,830.5 2069.2,831.3 2073.2,832.3 2077.2,833.3 2081.2,834.3 2085.2,835.6 2089.2,837.3 2093.2,839.4 2097.2,841.9 2101.2,845 2105.2,848.3 2109.2,851.9 2113.2,855.5 2117.3,859.2 2121.3,863.1 2125.3,867 2129.3,870.6 2133.3,872.3 2137.3,872.1 2141.3,870.4 2145.3,867.7 2149.3,864.7 2153.3,861.7 2157.3,859.2 2161.3,857 2165.3,855 2169.4,853.2 2173.4,851.8 2177.4,850.5 2181.4,849.3 2185.4,848.1 2189.4,847.1 2193.4,846.2 2197.4,845.3 2201.4,844.5 2205.4,843.7 2209.4,843.1 2213.4,842.5 2217.4,842 2221.5,841.5 2225.5,841 2229.5,840.6 2233.5,840.2 2237.5,839.8 2241.5,839.5 2245.5,839.2 2249.5,838.9 2253.5,838.6 2257.5,838.3 2261.5,838.1 2265.5,837.8 2269.5,837.6 2273.6,837.4 2277.6,837.2 2281.6,837 2285.6,836.9 2289.6,836.7 2293.6,836.5 2297.6,836.4"/>
<path class="c" stroke="#003c00" d="M235.5,818.6 238,818 242,817 246,816.4 250,816.5 254,816.6 258,816.8 262,816.9 266,817.1 270.1,817.3 274.1,817.5 278.1,817.7 282.1,817.9 286.1,818.2 290.1,818.4 294.1,818.7 298.1,818.9 302.1,819.2 306.1,819.4 310.1,819.7 314.1,819.9 318.1,820.2 322.1,820.4 326.2,820.7 330.2,821 334.2,821.3 338.2,821.6 342.2,821.9 346.2,822.2 350.2,822.5 354.2,822.8 358.2,823.1 362.2,823.4 366.2,823.7 370.2,824 374.2,824.3 378.2,824.6 382.3,824.9 386.3,825.2 390.3,825.5 394.3,825.8 398.3,826.1 402.3,826.4 406.3,826.7 410.3,827 414.3,827.3 418.3,827.6 422.3,827.9 426.3,828.2 430.3,828.5 434.3,828.8 438.4,829.1 442.4,829.4 446.4,829.7 450.4,830 454.4,830.3 458.4,830.6 462.4,830.9 466.4,831.2 470.4,831.5 474.4,831.8 478.4,832.1 482.4,832.4 486.4,832.7 490.4,833 494.4,833.4 498.5,833.7 502.5,834.2 506.5,834.6 510.5,835.1 514.5,835.6 518.5,836.1 522.5,836.6 526.5,837.1 530.5,837.7 534.5,838.2 538.5,838.9 542.5,839.6 546.5,840.3 550.5,841.1 554.6,842 558.6,843.1 562.6,844.3 566.6,845.7 570.6,847.2 574.6,849 578.6,850.9 582.6,852.9 586.6,855.1 590.6,857.4 594.6,859.8 598.6,862.5 602.6,865.2 606.6,867.5 610.7,869.7 614.7,871.2 618.7,872 622.7,871.8 626.7,870.8 630.7,869.4 634.7,867.6 638.7,865.7 642.7,863.6 646.7,861.6 650.7,859.7 654.7,857.8 658.7,856 662.7,854.3 666.7,852.7 670.8,851.2 674.8,849.9 678.8,848.7 682.8,847.7 686.8,846.8 690.8,846.1 694.8,845.4 698.8,844.8 702.8,844.3 706.8,843.9 710.8,843.5 714.8,843.2 718.8,842.9 722.8,842.6 726.9,842.3 730.9,842.1 734.9,841.8 738.9,841.6 742.9,841.3 746.9,841.1 750.9,841 754.9,840.8 758.9,840.6 762.9,840.5 766.9,840.3 770.9,840.2 774.9,840 778.9,839.9 783,839.8 787,839.7 791,839.6 795,839.5 799,839.4 803,839.3 807,839.2 811,839.2 815,839.1 819,839.1 823,839.1 827,839.2 831,839.2 835,839.3 839.1,839.4 843.1,839.5 847.1,839.6 851.1,839.7 855.1,839.8 859.1,839.9 863.1,840 867.1,840.1 871.1,840.2 875.1,840.3 879.1,840.4 883.1,840.5 887.1,840.5 891.1,840.6 895.1,840.7 899.2,840.8 903.2,840.8 907.2,840.9 911.2,841 915.2,841.1 919.2,841.1 923.2,841.2 927.2,841.3 931.2,841.4 935.2,841.5 939.2,841.6 943.2,841.6 947.2,841.7 951.2,841.8 955.3,841.9 959.3,842 963.3,842.1 967.3,842.2 971.3,842.3 975.3,842.4 979.3,842.5 983.3,842.7 987.3,842.8 991.3,842.9 995.3,843 999.3,843.1 1003.3,843.2 1007.3,843.3 1011.4,843.4 1015.4,843.5 1019.4,843.6 1023.4,843.7 1027.4,843.8 1031.4,843.9 1035.4,844.1 1039.4,844.2 1043.4,844.3 1047.4,844.4 1051.4,844.5 1055.4,844.6 1059.4,844.7 1063.4,844.9 1067.4,845 1071.5,845.1 1075.5,845.2 1079.5,845.3 1083.5,845.4 1087.5,845.5 1091.5,845.6 1095.5,845.7 1099.5,845.9 1103.5,846 1107.5,846.1 1111.5,846.2 1115.5,846.2 1119.5,846.3 1123.5,846.4 1127.6,846.5 1131.6,846.6 1135.6,846.7 1139.6,846.8 1143.6,846.8 1147.6,846.9 1151.6,847 1155.6,847.1 1159.6,847.2 1163.6,847.3 1167.6,847.3 1171.6,847.4 1175.6,847.5 1179.6,847.6 1183.7,847.7 1187.7,847.8 1191.7,847.8 1195.7,848 1199.7,848.1 1203.7,848.2 1207.7,848.4 1211.7,848.6 1215.7,848.7 1219.7,848.9 1223.7,849 1227.7,849.2 1231.7,849.3 1235.7,849.4 1239.8,849.4 1243.8,849.4 1247.8,849.4 1251.8,849.4 1255.8,849.3 1259.8,849.2 1263.8,849.2 1267.8,849.1 1271.8,849 1275.8,849 1279.8,848.9 1283.8,848.8 1287.8,848.8 1291.8,848.7 1295.8,848.6 1299.9,848.6 1303.9,848.5 1307.9,848.4 1311.9,848.4 1315.9,848.3 1319.9,848.2 1323.9,848.2 1327.9,848.1 1331.9,848.1 1335.9,848 1339.9,848 1343.9,847.9 1347.9,847.8 1351.9,847.8 1356,847.7 1360,847.6 1364,847.5 1368,847.4 1372,847.3 1376,847.2 1380,847.1 1384,847 1388,846.9 1392,846.7 1396,846.6 1400,846.5 1404,846.3 1408,846.2 1412.1,846 1416.1,845.9 1420.1,845.7 1424.1,845.6 1428.1,845.5 1432.1,845.3 1436.1,845.2 1440.1,845.1 1444.1,844.9 1448.1,844.8 1452.1,844.7 1456.1,844.5 1460.1,844.4 1464.1,844.3 1468.2,844.1 1472.2,844 1476.2,843.9 1480.2,843.7 1484.2,843.6 1488.2,843.5 1492.2,843.3 1496.2,843.2 1500.2,843 1504.2,842.7 1508.2,842.5 1512.2,842.3 1516.2,842 1520.2,841.8 1524.2,841.5 1528.3,841.3 1532.3,841.1 1536.3,840.9 1540.3,840.7 1544.3,840.6 1548.3,840.4 1552.3,840.4 1556.3,840.3 1560.3,840.2 1564.3,840.2 1568.3,840.1 1572.3,840 1576.3,840 1580.3,839.9 1584.4,839.9 1588.4,839.8 1592.4,839.8 1596.4,839.7 1600.4,839.7 1604.4,839.7 1608.4,839.6 1612.4,839.6 1616.4,839.5 1620.4,839.5 1624.4,839.4 1628.4,839.4 1632.4,839.4 1636.4,839.3 1640.5,839.3 1644.5,839.2 1648.5,839.2 1652.5,839.2 1656.5,839.1 1660.5,839.1 1664.5,839 1668.5,839 1672.5,839 1676.5,838.9 1680.5,838.9 1684.5,838.9 1688.5,838.9 1692.5,838.8 1696.5,838.8 1700.6,838.8 1704.6,838.8 1708.6,838.8 1712.6,838.8 1716.6,838.9 1720.6,838.9 1724.6,838.9 1728.6,839 1732.6,839 1736.6,839.1 1740.6,839.2 1744.6,839.2 1748.6,839.3 1752.6,839.4 1756.7,839.5 1760.7,839.6 1764.7,839.7 1768.7,839.8 1772.7,839.9 1776.7,840 1780.7,840.1 1784.7,840.2 1788.7,840.4 1792.7,840.5 1796.7,840.6 1800.7,840.7 1804.7,840.8 1808.7,841 1812.8,841.1 1816.8,841.2 1820.8,841.3 1824.8,841.4 1828.8,841.6 1832.8,841.7 1836.8,841.8 1840.8,841.9 1844.8,842 1848.8,842.1 1852.8,842.2 1856.8,842.3 1860.8,842.4 1864.8,842.5 1868.9,842.4 1872.9,842.3 1876.9,842.2 1880.9,842 1884.9,841.8 1888.9,841.5 1892.9,841.2 1896.9,840.9 1900.9,840.5 1904.9,840.1 1908.9,839.7 1912.9,839.3 1916.9,838.8 1920.9,838.4 1924.9,837.9 1929,837.5 1933,837 1937,836.5 1941,836.1 1945,835.6 1949,835.1 1953,834.6 1957,834.1 1961,833.6 1965,833.1 1969,832.6 1973,832.1 1977,831.6 1981,831.1 1985.1,830.6 1989.1,830.1 1993.1,829.6 1997.1,829.2 2001.1,828.8 2005.1,828.4 2009.1,828 2013.1,827.7 2017.1,827.4 2021.1,827 2025.1,826.7 2029.1,826.5 2033.1,826.2 2037.1,825.9 2041.2,825.7 2045.2,825.5 2049.2,825.3 2053.2,825.1 2057.2,824.9 2061.2,824.7 2065.2,824.6 2069.2,824.4 2073.2,824.3 2077.2,824.2 2081.2,824.1 2085.2,824 2089.2,823.9 2093.2,823.8 2097.2,823.7 2101.3,823.7 2105.3,823.6 2109.3,823.6 2113.3,823.6 2117.3,823.6 2121.3,823.6 2125.3,823.6 2129.3,823.6 2133.3,823.6 2137.3,823.7 2141.3,823.8 2145.3,823.9 2149.3,824 2153.3,824.1 2157.4,824.2 2161.4,824.4 2165.4,824.5 2169.4,824.7 2173.4,824.9 2177.4,825 2181.4,825.2 2185.4,825.4 2189.4,825.6 2193.4,825.8 2197.4,826 2201.4,826.2 2205.4,826.3 2209.4,826.5 2213.5,826.7 2217.5,827 2221.5,827.2 2225.5,827.4 2229.5,827.6 2233.5,827.8 2237.5,828 2241.5,828.2 2245.5,828.5 2249.5,828.7 2253.5,828.9 2257.5,829.2 2261.5,829.4 2265.5,829.7 2269.6,830 2273.6,830.3 2277.6,830.6 2281.6,830.9 2285.6,831.2 2289.6,831.6 2293.6,832 2297.6,832.4"/>
<path class="c" stroke="#f27d0a" d="M235.5,559.1 238,561 242,564.2 246,565.5 250,566.3 254,567.1 258,567.9 262,568.5 266,569.1 270.1,569.6 274.1,570.1 278.1,570.5 282.1,571 286.1,571.5 290.1,572 294.1,572.4 298.1,572.9 302.1,573.3 306.1,573.7 310.1,574 314.1,574.3 318.1,574.7 322.1,575 326.2,575.3 330.2,575.6 334.2,575.9 338.2,576.2 342.2,576.5 346.2,576.8 350.2,577 354.2,577.3 358.2,577.5 362.2,577.7 366.2,578 370.2,578.2 374.2,578.4 378.2,578.5 382.3,578.7 386.3,578.9 390.3,579 394.3,579.1 398.3,579.2 402.3,579.3 406.3,579.4 410.3,579.5 414.3,579.5 418.3,579.6 422.3,579.6 426.3,579.6 430.3,579.6 434.3,579.6 438.4,579.6 442.4,579.6 446.4,579.5 450.4,579.5 454.4,579.5 458.4,579.4 462.4,579.3 466.4,579.3 470.4,579.2 474.4,579.1 478.4,579 482.4,578.9 486.4,578.8 490.4,578.7 494.4,578.6 498.5,578.5 502.5,578.3 506.5,578.2 510.5,578 514.5,577.8 518.5,577.6 522.5,577.4 526.5,577.2 530.5,577 534.5,576.8 538.5,576.6 542.5,576.4 546.5,576.2 550.5,576 554.6,575.8 558.6,575.6 562.6,575.4 566.6,575.2 570.6,575 574.6,574.8 578.6,574.6 582.6,574.4 586.6,574.2 590.6,574 594.6,573.8 598.6,573.6 602.6,573.4 606.6,573.2 610.7,573 614.7,572.8 618.7,572.6 622.7,572.4 626.7,572.2 630.7,572 634.7,571.8 638.7,571.6 642.7,571.4 646.7,571.2 650.7,571 654.7,570.8 658.7,570.6 662.7,570.4 666.7,570.2 670.8,570 674.8,569.9 678.8,569.7 682.8,569.5 686.8,569.4 690.8,569.2 694.8,569.1 698.8,568.9 702.8,568.8 706.8,568.7 710.8,568.6 714.8,568.5 718.8,568.4 722.8,568.3 726.9,568.2 730.9,568.2 734.9,568.1 738.9,568.1 742.9,568.1 746.9,568 750.9,568 754.9,568 758.9,568 762.9,568 766.9,568 770.9,568 774.9,568 778.9,568 783,568 787,568 791,568 795,568 799,568 803,568 807,568 811,568.1 815,568.1 819,568.2 823,568.2 827,568.3 831,568.4 835,568.5 839.1,568.6 843.1,568.7 847.1,568.9 851.1,569 855.1,569.1 859.1,569.2 863.1,569.3 867.1,569.4 871.1,569.5 875.1,569.6 879.1,569.7 883.1,569.8 887.1,569.9 891.1,570 895.1,570.1 899.2,570.2 903.2,570.4 907.2,570.5 911.2,570.6 915.2,570.7 919.2,570.8 923.2,570.9 927.2,571 931.2,571.1 935.2,571.2 939.2,571.3 943.2,571.4 947.2,571.5 951.2,571.6 955.3,571.7 959.3,571.8 963.3,571.9 967.3,572 971.3,572 975.3,572.1 979.3,572.2 983.3,572.2 987.3,572.3 991.3,572.3 995.3,572.4 999.3,572.4 1003.3,572.5 1007.3,572.6 1011.4,572.6 1015.4,572.7 1019.4,572.7 1023.4,572.8 1027.4,572.9 1031.4,572.9 1035.4,573 1039.4,573 1043.4,573.1 1047.4,573.2 1051.4,573.2 1055.4,573.3 1059.4,573.3 1063.4,573.3 1067.4,573.4 1071.5,573.4 1075.5,573.4 1079.5,573.4 1083.5,573.4 1087.5,573.4 1091.5,573.4 1095.5,573.3 1099.5,573.2 1103.5,573.2 1107.5,573.1 1111.5,573 1115.5,572.9 1119.5,572.8 1123.5,572.8 1127.6,572.7 1131.6,572.6 1135.6,572.5 1139.6,572.4 1143.6,572.3 1147.6,572.2 1151.6,572.1 1155.6,572 1159.6,571.9 1163.6,571.8 1167.6,571.7 1171.6,571.6 1175.6,571.4 1179.6,571.3 1183.7,571.2 1187.7,571.1 1191.7,570.9 1195.7,570.8 1199.7,570.7 1203.7,570.5 1207.7,570.4 1211.7,570.3 1215.7,570.1 1219.7,570 1223.7,569.9 1227.7,569.7 1231.7,569.6 1235.7,569.5 1239.8,569.3 1243.8,569.2 1247.8,569.1 1251.8,568.9 1255.8,568.8 1259.8,568.7 1263.8,568.5 1267.8,568.4 1271.8,568.3 1275.8,568.1 1279.8,568 1283.8,567.9 1287.8,567.7 1291.8,567.6 1295.8,567.5 1299.9,567.3 1303.9,567.2 1307.9,567.1 1311.9,566.9 1315.9,566.8 1319.9,566.7 1323.9,566.6 1327.9,566.5 1331.9,566.4 1335.9,566.3 1339.9,566.2 1343.9,566.1 1347.9,566 1351.9,566 1356,565.9 1360,565.8 1364,565.7 1368,565.6 1372,565.6 1376,565.5 1380,565.4 1384,565.4 1388,565.3 1392,565.3 1396,565.2 1400,565.2 1404,565.1 1408,565.1 1412.1,565.1 1416.1,565.1 1420.1,565 1424.1,565 1428.1,565 1432.1,565 1436.1,565 1440.1,565 1444.1,565 1448.1,565 1452.1,565 1456.1,565.1 1460.1,565.1 1464.1,565.2 1468.2,565.2 1472.2,565.3 1476.2,565.4 1480.2,565.6 1484.2,565.7 1488.2,565.9 1492.2,566.1 1496.2,566.3 1500.2,566.5 1504.2,566.7 1508.2,566.9 1512.2,567.1 1516.2,567.3 1520.2,567.5 1524.2,567.7 1528.3,567.9 1532.3,568.1 1536.3,568.3 1540.3,568.5 1544.3,568.7 1548.3,568.9 1552.3,569.1 1556.3,569.3 1560.3,569.5 1564.3,569.7 1568.3,569.9 1572.3,570.1 1576.3,570.3 1580.3,570.5 1584.4,570.7 1588.4,570.9 1592.4,571.1 1596.4,571.3 1600.4,571.5 1604.4,571.7 1608.4,571.9 1612.4,572.1 1616.4,572.3 1620.4,572.5 1624.4,572.7 1628.4,572.8 1632.4,573 1636.4,573.2 1640.5,573.3 1644.5,573.5 1648.5,573.6 1652.5,573.8 1656.5,573.9 1660.5,574.1 1664.5,574.2 1668.5,574.3 1672.5,574.5 1676.5,574.6 1680.5,574.7 1684.5,574.9 1688.5,575 1692.5,575.1 1696.5,575.2 1700.6,575.2 1704.6,575.3 1708.6,575.4 1712.6,575.4 1716.6,575.5 1720.6,575.5 1724.6,575.6 1728.6,575.6 1732.6,575.6 1736.6,575.6 1740.6,575.6 1744.6,575.6 1748.6,575.6 1752.6,575.6 1756.7,575.5 1760.7,575.5 1764.7,575.5 1768.7,575.4 1772.7,575.4 1776.7,575.3 1780.7,575.2 1784.7,575.1 1788.7,575 1792.7,574.9 1796.7,574.8 1800.7,574.7 1804.7,574.6 1808.7,574.5 1812.8,574.4 1816.8,574.3 1820.8,574.2 1824.8,574.1 1828.8,574 1832.8,573.9 1836.8,573.8 1840.8,573.7 1844.8,573.6 1848.8,573.4 1852.8,573.3 1856.8,573.2 1860.8,573.1 1864.8,573 1868.9,572.8 1872.9,572.7 1876.9,572.6 1880.9,572.5 1884.9,572.4 1888.9,572.2 1892.9,572.1 1896.9,572 1900.9,571.9 1904.9,571.8 1908.9,571.6 1912.9,571.5 1916.9,571.4 1920.9,571.3 1924.9,571.2 1929,571.1 1933,571 1937,570.8 1941,570.7 1945,570.6 1949,570.5 1953,570.4 1957,570.3 1961,570.2 1965,570.1 1969,570 1973,569.9 1977,569.8 1981,569.8 1985.1,569.7 1989.1,569.6 1993.1,569.6 1997.1,569.5 2001.1,569.5 2005.1,569.5 2009.1,569.5 2013.1,569.4 2017.1,569.4 2021.1,569.4 2025.1,569.4 2029.1,569.4 2033.1,569.4 2037.1,569.4 2041.2,569.4 2045.2,569.5 2049.2,569.5 2053.2,569.5 2057.2,569.6 2061.2,569.7 2065.2,569.7 2069.2,569.8 2073.2,569.9 2077.2,570 2081.2,570.1 2085.2,570.2 2089.2,570.4 2093.2,570.5 2097.2,570.7 2101.3,570.8 2105.3,571 2109.3,571.2 2113.3,571.3 2117.3,571.5 2121.3,571.7 2125.3,571.9 2129.3,572.2 2133.3,572.4 2137.3,572.6 2141.3,572.9 2145.3,573.1 2149.3,573.4 2153.3,573.6 2157.4,573.9 2161.4,574.1 2165.4,574.4 2169.4,574.7 2173.4,574.9 2177.4,575.2 2181.4,575.5 2185.4,575.8 2189.4,576.1 2193.4,576.4 2197.4,576.8 2201.4,577.2 2205.4,577.5 2209.4,577.9 2213.5,578.4 2217.5,578.8 2221.5,579.2 2225.5,579.6 2229.5,580.1 2233.5,580.5 2237.5,580.9 2241.5,581.3 2245.5,581.8 2249.5,582.2 2253.5,582.6 2257.5,583.1 2261.5,583.5 2265.5,583.9 2269.6,584.4 2273.6,584.8 2277.6,585.2 2281.6,585.7 2285.6,586.1 2289.6,586.5 2293.6,587 2297.6,587.4"/>
</g>
<g>
<line class="g" x1="237.8" y1="1078.9" x2="2320" y2="1078.9"/>
<line class="g" x1="237.8" y1="1173.9" x2="2320" y2="1173.9"/>
<line class="g" x1="237.8" y1="1269" x2="2320" y2="1269"/>
<path class="a" d="M237.8,983.8 H2320 V1364.1 H237.8 Z M584.8,983.8 v21.8 M584.8,1364.1 v-21.8 M931.8,983.8 v21.8 M931.8,1364.1 v-21.8 M1278.9,983.8 v21.8 M1278.9,1364.1 v-21.8 M1625.9,983.8 v21.8 M1625.9,1364.1 v-21.8 M1973,983.8 v21.8 M1973,1364.1 v-21.8 M237.8,1078.9 h21.8 M2320,1078.9 h-21.8 M237.8,1173.9 h21.8 M2320,1173.9 h-21.8 M237.8,1269 h21.8 M2320,1269 h-21.8"/>
<text class="t" x="218.0" y="1004.1" text-anchor="end">0.6</text>
<text class="t" x="218.0" y="1099.2" text-anchor="end">0.3</text>
<text class="t" x="218.0" y="1194.2" text-anchor="end">0</text>
<text class="t" x="218.0" y="1289.3" text-anchor="end">−0.3</text>
<text class="t" x="218.0" y="1384.4" text-anchor="end">−0.6</text>
<text class="t" transform="translate(77.0,1174.9) rotate(-90)" text-anchor="middle">Cross-track (m)</text>
<path class="c" stroke="#ff0000" d="M235.1,1189.1 237.6,1189.1 241.6,1189.2 245.6,1189.3 249.6,1189.3 253.6,1189.4 257.7,1189.5 261.7,1189.5 265.7,1189.6 269.7,1189.6 273.7,1189.7 277.7,1189.7 281.7,1189.8 285.7,1189.8 289.7,1189.9 293.7,1189.9 297.7,1189.9 301.7,1189.9 305.7,1189.9 309.8,1189.9 313.8,1189.9 317.8,1189.9 321.8,1189.9 325.8,1189.8 329.8,1189.8 333.8,1189.7 337.8,1189.7 341.8,1189.6 345.8,1189.5 349.8,1189.4 353.8,1189.3 357.8,1189.2 361.8,1189 365.9,1188.9 369.9,1188.7 373.9,1188.6 377.9,1188.4 381.9,1188.2 385.9,1188 389.9,1187.8 393.9,1187.6 397.9,1187.4 401.9,1187.1 405.9,1186.9 409.9,1186.7 413.9,1186.5 418,1186.3 422,1186.1 426,1185.9 430,1185.7 434,1185.5 438,1185.3 442,1185.1 446,1184.9 450,1184.7 454,1184.5 458,1184.3 462,1184.2 466,1184 470,1183.8 474.1,1183.6 478.1,1183.4 482.1,1183.3 486.1,1183.1 490.1,1182.9 494.1,1182.7 498.1,1182.6 502.1,1182.4 506.1,1182.2 510.1,1182.1 514.1,1181.9 518.1,1181.7 522.1,1181.5 526.2,1181.3 530.2,1181.1 534.2,1180.9 538.2,1180.7 542.2,1180.5 546.2,1180.3 550.2,1180.1 554.2,1179.9 558.2,1179.7 562.2,1179.5 566.2,1179.2 570.2,1179 574.2,1178.8 578.2,1178.6 582.3,1178.3 586.3,1178.1 590.3,1177.9 594.3,1177.6 598.3,1177.4 602.3,1177.1 606.3,1176.8 610.3,1176.6 614.3,1176.3 618.3,1176 622.3,1175.7 626.3,1175.4 630.3,1175.1 634.4,1174.8 638.4,1174.4 642.4,1174.1 646.4,1173.7 650.4,1173.4 654.4,1173 658.4,1172.7 662.4,1172.3 666.4,1171.9 670.4,1171.5 674.4,1171.2 678.4,1170.8 682.4,1170.4 686.4,1170 690.5,1169.6 694.5,1169.1 698.5,1168.7 702.5,1168.2 706.5,1167.8 710.5,1167.3 714.5,1166.9 718.5,1166.4 722.5,1166 726.5,1165.6 730.5,1165.2 734.5,1164.9 738.5,1164.6 742.6,1164.2 746.6,1163.9 750.6,1163.6 754.6,1163.2 758.6,1162.9 762.6,1162.6 766.6,1162.2 770.6,1161.9 774.6,1161.5 778.6,1161.2 782.6,1160.9 786.6,1160.5 790.6,1160.2 794.6,1159.9 798.7,1159.5 802.7,1159.2 806.7,1158.9 810.7,1158.5 814.7,1158.2 818.7,1157.9 822.7,1157.5 826.7,1157.2 830.7,1156.9 834.7,1156.6 838.7,1156.3 842.7,1156 846.7,1155.8 850.8,1155.5 854.8,1155.3 858.8,1155 862.8,1154.8 866.8,1154.5 870.8,1154.3 874.8,1154.1 878.8,1153.9 882.8,1153.7 886.8,1153.4 890.8,1153.2 894.8,1153.1 898.8,1152.9 902.8,1152.7 906.9,1152.5 910.9,1152.4 914.9,1152.2 918.9,1152.1 922.9,1151.9 926.9,1151.8 930.9,1151.7 934.9,1151.6 938.9,1151.5 942.9,1151.4 946.9,1151.3 950.9,1151.2 954.9,1151.2 959,1151.1 963,1151.1 967,1151 971,1151 975,1151 979,1151 983,1151 987,1151.1 991,1151.1 995,1151.2 999,1151.3 1003,1151.4 1007,1151.5 1011,1151.5 1015.1,1151.6 1019.1,1151.7 1023.1,1151.8 1027.1,1151.9 1031.1,1151.9 1035.1,1152 1039.1,1152.1 1043.1,1152.2 1047.1,1152.3 1051.1,1152.3 1055.1,1152.4 1059.1,1152.5 1063.1,1152.6 1067.2,1152.7 1071.2,1152.7 1075.2,1152.8 1079.2,1152.9 1083.2,1153 1087.2,1153 1091.2,1153.1 1095.2,1153.2 1099.2,1153.2 1103.2,1153.3 1107.2,1153.3 1111.2,1153.4 1115.2,1153.5 1119.2,1153.5 1123.3,1153.6 1127.3,1153.7 1131.3,1153.7 1135.3,1153.8 1139.3,1153.9 1143.3,1153.9 1147.3,1154 1151.3,1154.1 1155.3,1154.1 1159.3,1154.1 1163.3,1154.1 1167.3,1154.2 1171.3,1154.2 1175.4,1154.1 1179.4,1154.1 1183.4,1154 1187.4,1154 1191.4,1153.9 1195.4,1153.8 1199.4,1153.6 1203.4,1153.5 1207.4,1153.3 1211.4,1153.1 1215.4,1152.9 1219.4,1152.7 1223.4,1152.5 1227.4,1152.3 1231.5,1152.1 1235.5,1151.9 1239.5,1151.7 1243.5,1151.6 1247.5,1151.4 1251.5,1151.2 1255.5,1151 1259.5,1150.8 1263.5,1150.6 1267.5,1150.4 1271.5,1150.2 1275.5,1149.9 1279.5,1149.7 1283.6,1149.5 1287.6,1149.3 1291.6,1149 1295.6,1148.6 1299.6,1148.2 1303.6,1147.8 1307.6,1147.3 1311.6,1146.8 1315.6,1146.2 1319.6,1145.5 1323.6,1144.7 1327.6,1143.9 1331.6,1143 1335.6,1142.2 1339.7,1141.3 1343.7,1140.4 1347.7,1139.3 1351.7,1138.2 1355.7,1137.1 1359.7,1136.3 1363.7,1136 1367.7,1135.9 1371.7,1136 1375.7,1137 1379.7,1139.5 1383.7,1142.9 1387.7,1146.7 1391.8,1150.7 1395.8,1154.8 1399.8,1158.5 1403.8,1161.9 1407.8,1164.8 1411.8,1167.3 1415.8,1169.4 1419.8,1171.2 1423.8,1172.7 1427.8,1174.2 1431.8,1175.4 1435.8,1176.6 1439.8,1177.6 1443.8,1178.7 1447.9,1179.6 1451.9,1180.5 1455.9,1181.2 1459.9,1181.8 1463.9,1182.4 1467.9,1182.8 1471.9,1183.2 1475.9,1183.5 1479.9,1183.6 1483.9,1183.7 1487.9,1183.8 1491.9,1183.8 1495.9,1183.9 1500,1183.9 1504,1184 1508,1184.1 1512,1184.1 1516,1184.1 1520,1184.2 1524,1184.2 1528,1184.3 1532,1184.3 1536,1184.4 1540,1184.4 1544,1184.4 1548,1184.5 1552.1,1184.5 1556.1,1184.5 1560.1,1184.5 1564.1,1184.5 1568.1,1184.5 1572.1,1184.4 1576.1,1184.3 1580.1,1184.1 1584.1,1184 1588.1,1183.8 1592.1,1183.5 1596.1,1183.3 1600.1,1183 1604.1,1182.6 1608.2,1182.3 1612.2,1182 1616.2,1181.6 1620.2,1181.2 1624.2,1180.9 1628.2,1180.5 1632.2,1180.1 1636.2,1179.7 1640.2,1179.3 1644.2,1178.9 1648.2,1178.5 1652.2,1178.1 1656.2,1177.7 1660.3,1177.3 1664.3,1176.9 1668.3,1176.4 1672.3,1176 1676.3,1175.5 1680.3,1175 1684.3,1174.5 1688.3,1174 1692.3,1173.5 1696.3,1173 1700.3,1172.5 1704.3,1171.9 1708.3,1171.4 1712.3,1170.8 1716.4,1170.3 1720.4,1169.7 1724.4,1169.1 1728.4,1168.6 1732.4,1168 1736.4,1167.4 1740.4,1166.8 1744.4,1166.2 1748.4,1165.7 1752.4,1165.1 1756.4,1164.5 1760.4,1163.9 1764.4,1163.3 1768.5,1162.7 1772.5,1162.1 1776.5,1161.5 1780.5,1160.9 1784.5,1160.3 1788.5,1159.7 1792.5,1159.1 1796.5,1158.5 1800.5,1157.9 1804.5,1157.3 1808.5,1156.8 1812.5,1156.4 1816.5,1155.9 1820.5,1155.4 1824.6,1154.9 1828.6,1154.4 1832.6,1153.8 1836.6,1153.2 1840.6,1152.5 1844.6,1151.7 1848.6,1150.9 1852.6,1150.1 1856.6,1149.3 1860.6,1148.5 1864.6,1147.7 1868.6,1147 1872.6,1146.3 1876.7,1145.7 1880.7,1145.1 1884.7,1144.6 1888.7,1144.1 1892.7,1143.6 1896.7,1143.1 1900.7,1142.6 1904.7,1142.1 1908.7,1141.6 1912.7,1141.1 1916.7,1140.6 1920.7,1140 1924.7,1139.4 1928.7,1138.7 1932.8,1138 1936.8,1137.3 1940.8,1136.7 1944.8,1136 1948.8,1135.3 1952.8,1134.7 1956.8,1134.1 1960.8,1133.6 1964.8,1133 1968.8,1132.5 1972.8,1132 1976.8,1131.5 1980.8,1131.1 1984.9,1130.6 1988.9,1130.2 1992.9,1129.8 1996.9,1129.4 2000.9,1129.1 2004.9,1128.8 2008.9,1128.5 2012.9,1128.3 2016.9,1128.1 2020.9,1127.9 2024.9,1127.8 2028.9,1127.7 2032.9,1127.6 2036.9,1127.6 2041,1127.5 2045,1127.5 2049,1127.6 2053,1127.6 2057,1127.6 2061,1127.7 2065,1127.7 2069,1127.8 2073,1127.9 2077,1128.1 2081,1128.3 2085,1128.5 2089,1128.8 2093.1,1129.1 2097.1,1129.4 2101.1,1129.7 2105.1,1130 2109.1,1130.4 2113.1,1130.7 2117.1,1131.1 2121.1,1131.5 2125.1,1131.9 2129.1,1132.2 2133.1,1132.6 2137.1,1133 2141.1,1133.4 2145.1,1133.8 2149.2,1134.2 2153.2,1134.6 2157.2,1135.1 2161.2,1135.5 2165.2,1135.9 2169.2,1136.4 2173.2,1136.9 2177.2,1137.4 2181.2,1137.9 2185.2,1138.5 2189.2,1139 2193.2,1139.6 2197.2,1140.3 2201.3,1141.2 2205.3,1142.3 2209.3,1143.4 2213.3,1144.5 2217.3,1145.6 2221.3,1146.6 2225.3,1147.4 2229.3,1148 2233.3,1148.5 2237.3,1149 2241.3,1149.5 2245.3,1150 2249.3,1150.4 2253.3,1150.9 2257.4,1151.3 2261.4,1151.7 2265.4,1152 2269.4,1152.4 2273.4,1152.8 2277.4,1153.2 2281.4,1153.5 2285.4,1153.9 2289.4,1154.2 2293.4,1154.5 2297.4,1154.9"/>
<path class="c" stroke="#1408f8" d="M235.1,1112.6 237.6,1112.6 241.6,1112.5 245.6,1112.5 249.6,1112.6 253.6,1112.7 257.7,1112.9 261.7,1113.2 265.7,1113.5 269.7,1113.9 273.7,1114.3 277.7,1114.7 281.7,1115.2 285.7,1115.6 289.7,1116 293.7,1116.5 297.7,1116.9 301.7,1117.2 305.7,1117.6 309.8,1117.9 313.8,1118.3 317.8,1118.6 321.8,1118.9 325.8,1119.2 329.8,1119.5 333.8,1119.8 337.8,1120.1 341.8,1120.4 345.8,1120.7 349.8,1121 353.8,1121.4 357.8,1121.7 361.8,1122 365.9,1122.3 369.9,1122.6 373.9,1123 377.9,1123.3 381.9,1123.7 385.9,1124.1 389.9,1124.4 393.9,1124.8 397.9,1125.2 401.9,1125.5 405.9,1125.9 409.9,1126.3 413.9,1126.7 418,1127.2 422,1127.6 426,1128.1 430,1128.5 434,1129 438,1129.5 442,1129.9 446,1130.4 450,1130.9 454,1131.3 458,1131.8 462,1132.3 466,1132.7 470,1133.2 474.1,1133.7 478.1,1134.1 482.1,1134.6 486.1,1135.1 490.1,1135.5 494.1,1136 498.1,1136.5 502.1,1136.9 506.1,1137.4 510.1,1137.9 514.1,1138.3 518.1,1138.8 522.1,1139.3 526.2,1139.8 530.2,1140.3 534.2,1140.9 538.2,1141.5 542.2,1142.1 546.2,1142.7 550.2,1143.3 554.2,1143.9 558.2,1144.5 562.2,1145.1 566.2,1145.7 570.2,1146.3 574.2,1147 578.2,1147.6 582.3,1148.2 586.3,1148.9 590.3,1149.5 594.3,1150.2 598.3,1150.8 602.3,1151.5 606.3,1152.2 610.3,1152.8 614.3,1153.5 618.3,1154.2 622.3,1154.8 626.3,1155.5 630.3,1156.2 634.4,1156.9 638.4,1157.5 642.4,1158.2 646.4,1158.8 650.4,1159.5 654.4,1160.1 658.4,1160.8 662.4,1161.4 666.4,1162.1 670.4,1162.7 674.4,1163.3 678.4,1164 682.4,1164.6 686.4,1165.2 690.5,1165.8 694.5,1166.5 698.5,1167.1 702.5,1167.7 706.5,1168.2 710.5,1168.8 714.5,1169.4 718.5,1170 722.5,1170.6 726.5,1171.1 730.5,1171.7 734.5,1172.3 738.5,1172.8 742.6,1173.4 746.6,1174 750.6,1174.5 754.6,1175 758.6,1175.6 762.6,1176.1 766.6,1176.6 770.6,1177.1 774.6,1177.6 778.6,1178.1 782.6,1178.6 786.6,1179.1 790.6,1179.5 794.6,1180 798.7,1180.4 802.7,1180.7 806.7,1181.1 810.7,1181.4 814.7,1181.7 818.7,1182 822.7,1182.3 826.7,1182.6 830.7,1182.8 834.7,1183 838.7,1183.2 842.7,1183.5 846.7,1183.7 850.8,1183.9 854.8,1184 858.8,1184.2 862.8,1184.4 866.8,1184.6 870.8,1184.7 874.8,1184.9 878.8,1185 882.8,1185.2 886.8,1185.3 890.8,1185.4 894.8,1185.6 898.8,1185.7 902.8,1185.8 906.9,1186 910.9,1186.1 914.9,1186.2 918.9,1186.3 922.9,1186.4 926.9,1186.5 930.9,1186.6 934.9,1186.6 938.9,1186.7 942.9,1186.7 946.9,1186.7 950.9,1186.6 954.9,1186.5 959,1186.5 963,1186.4 967,1186.3 971,1186.2 975,1186 979,1185.9 983,1185.8 987,1185.6 991,1185.5 995,1185.3 999,1185.2 1003,1185 1007,1184.9 1011,1184.7 1015.1,1184.6 1019.1,1184.4 1023.1,1184.3 1027.1,1184.1 1031.1,1184 1035.1,1183.8 1039.1,1183.7 1043.1,1183.5 1047.1,1183.4 1051.1,1183.2 1055.1,1183.1 1059.1,1182.9 1063.1,1182.8 1067.2,1182.6 1071.2,1182.5 1075.2,1182.3 1079.2,1182.2 1083.2,1182 1087.2,1181.9 1091.2,1181.7 1095.2,1181.6 1099.2,1181.4 1103.2,1181.3 1107.2,1181.1 1111.2,1181 1115.2,1180.8 1119.2,1180.7 1123.3,1180.5 1127.3,1180.3 1131.3,1180.1 1135.3,1179.8 1139.3,1179.6 1143.3,1179.4 1147.3,1179.2 1151.3,1179 1155.3,1178.8 1159.3,1178.6 1163.3,1178.4 1167.3,1178.3 1171.3,1178.1 1175.4,1178 1179.4,1177.9 1183.4,1177.7 1187.4,1177.6 1191.4,1177.5 1195.4,1177.4 1199.4,1177.3 1203.4,1177.2 1207.4,1177.1 1211.4,1177 1215.4,1177 1219.4,1176.9 1223.4,1176.9 1227.4,1176.8 1231.5,1176.8 1235.5,1176.8 1239.5,1176.8 1243.5,1176.9 1247.5,1177 1251.5,1177.2 1255.5,1177.5 1259.5,1177.8 1263.5,1178.1 1267.5,1178.4 1271.5,1178.8 1275.5,1179.2 1279.5,1179.8 1283.6,1180.4 1287.6,1181.1 1291.6,1181.8 1295.6,1182.6 1299.6,1183.5 1303.6,1184.5 1307.6,1185.6 1311.6,1186.9 1315.6,1188.3 1319.6,1189.8 1323.6,1191.3 1327.6,1193 1331.6,1194.7 1335.6,1196.5 1339.7,1198.3 1343.7,1200.2 1347.7,1202.3 1351.7,1204.3 1355.7,1206.4 1359.7,1208.5 1363.7,1210.6 1367.7,1212.7 1371.7,1214.7 1375.7,1216.7 1379.7,1218.7 1383.7,1220.6 1387.7,1222.4 1391.8,1224.2 1395.8,1225.9 1399.8,1227.6 1403.8,1229.2 1407.8,1230.7 1411.8,1232 1415.8,1233.2 1419.8,1234.3 1423.8,1235.2 1427.8,1236.1 1431.8,1236.9 1435.8,1237.6 1439.8,1238.3 1443.8,1238.9 1447.9,1239.5 1451.9,1240 1455.9,1240.5 1459.9,1240.8 1463.9,1241 1467.9,1241.2 1471.9,1241.4 1475.9,1241.5 1479.9,1241.6 1483.9,1241.6 1487.9,1241.6 1491.9,1241.6 1495.9,1241.5 1500,1241.4 1504,1241.3 1508,1241.1 1512,1241 1516,1240.9 1520,1240.7 1524,1240.6 1528,1240.5 1532,1240.3 1536,1240.2 1540,1240.1 1544,1239.9 1548,1239.8 1552.1,1239.7 1556.1,1239.5 1560.1,1239.4 1564.1,1239.3 1568.1,1239.2 1572.1,1239.1 1576.1,1239 1580.1,1239 1584.1,1238.9 1588.1,1238.9 1592.1,1238.8 1596.1,1238.8 1600.1,1238.8 1604.1,1238.8 1608.2,1238.8 1612.2,1238.8 1616.2,1238.9 1620.2,1239 1624.2,1239.1 1628.2,1239.3 1632.2,1239.4 1636.2,1239.6 1640.2,1239.9 1644.2,1240.1 1648.2,1240.4 1652.2,1240.7 1656.2,1241 1660.3,1241.3 1664.3,1241.6 1668.3,1241.9 1672.3,1242.3 1676.3,1242.6 1680.3,1243 1684.3,1243.3 1688.3,1243.7 1692.3,1244.1 1696.3,1244.4 1700.3,1244.8 1704.3,1245.2 1708.3,1245.7 1712.3,1246.1 1716.4,1246.5 1720.4,1246.9 1724.4,1247.3 1728.4,1247.7 1732.4,1248.1 1736.4,1248.5 1740.4,1248.9 1744.4,1249.2 1748.4,1249.6 1752.4,1250 1756.4,1250.3 1760.4,1250.7 1764.4,1251 1768.5,1251.3 1772.5,1251.6 1776.5,1251.9 1780.5,1252.2 1784.5,1252.5 1788.5,1252.8 1792.5,1253 1796.5,1253.2 1800.5,1253.4 1804.5,1253.6 1808.5,1253.8 1812.5,1254 1816.5,1254.2 1820.5,1254.4 1824.6,1254.5 1828.6,1254.7 1832.6,1254.9 1836.6,1255.1 1840.6,1255.3 1844.6,1255.5 1848.6,1255.7 1852.6,1255.8 1856.6,1256 1860.6,1256.1 1864.6,1256.2 1868.6,1256.3 1872.6,1256.3 1876.7,1256.3 1880.7,1256.3 1884.7,1256.2 1888.7,1256.2 1892.7,1256.1 1896.7,1256 1900.7,1255.9 1904.7,1255.9 1908.7,1255.8 1912.7,1255.7 1916.7,1255.6 1920.7,1255.6 1924.7,1255.5 1928.7,1255.4 1932.8,1255.3 1936.8,1255.2 1940.8,1255.2 1944.8,1255.1 1948.8,1255 1952.8,1254.9 1956.8,1254.8 1960.8,1254.7 1964.8,1254.7 1968.8,1254.6 1972.8,1254.5 1976.8,1254.4 1980.8,1254.4 1984.9,1254.3 1988.9,1254.2 1992.9,1254.2 1996.9,1254.1 2000.9,1254.1 2004.9,1254 2008.9,1254 2012.9,1254 2016.9,1253.9 2020.9,1253.9 2024.9,1253.9 2028.9,1253.9 2032.9,1253.8 2036.9,1253.8 2041,1253.7 2045,1253.7 2049,1253.6 2053,1253.5 2057,1253.3 2061,1253.2 2065,1253 2069,1252.8 2073,1252.5 2077,1252.2 2081,1251.7 2085,1251 2089,1250.2 2093.1,1249.1 2097.1,1247.6 2101.1,1245.9 2105.1,1244 2109.1,1241.3 2113.1,1237.3 2117.1,1231.5 2121.1,1219.3 2125.1,1202.9 2129.1,1189.3 2133.1,1175.7 2137.1,1161.9 2141.1,1148 2145.1,1136.4 2149.2,1127.9 2153.2,1121.4 2157.2,1116.7 2161.2,1113.2 2165.2,1110.5 2169.2,1108.3 2173.2,1106.8 2177.2,1105.6 2181.2,1104.6 2185.2,1103.9 2189.2,1103.2 2193.2,1102.8 2197.2,1102.6 2201.3,1102.4 2205.3,1102.3 2209.3,1102.2 2213.3,1102.2 2217.3,1102.2 2221.3,1102.2 2225.3,1102.3 2229.3,1102.3 2233.3,1102.4 2237.3,1102.5 2241.3,1102.6 2245.3,1102.7 2249.3,1102.8 2253.3,1102.9 2257.4,1103.1 2261.4,1103.2 2265.4,1103.3 2269.4,1103.6 2273.4,1104.2 2277.4,1104.9 2281.4,1105.7 2285.4,1106.5 2289.4,1107.3 2293.4,1107.8 2297.4,1108"/>
<path class="c" stroke="#003c00" d="M235.1,1228.5 237.6,1229.3 241.6,1230.7 245.6,1231.7 249.6,1232.4 253.6,1233 257.7,1233.7 261.7,1234.5 265.7,1235.3 269.7,1236.3 273.7,1237.2 277.7,1238.2 281.7,1239.1 285.7,1240 289.7,1240.8 293.7,1241.6 297.7,1242.3 301.7,1243 305.7,1243.7 309.8,1244.3 313.8,1244.9 317.8,1245.6 321.8,1246.1 325.8,1246.7 329.8,1247.3 333.8,1247.8 337.8,1248.4 341.8,1248.9 345.8,1249.4 349.8,1249.8 353.8,1250.3 357.8,1250.7 361.8,1251 365.9,1251.4 369.9,1251.7 373.9,1252 377.9,1252.2 381.9,1252.5 385.9,1252.7 389.9,1252.9 393.9,1253.1 397.9,1253.2 401.9,1253.4 405.9,1253.5 409.9,1253.6 413.9,1253.7 418,1253.7 422,1253.7 426,1253.7 430,1253.7 434,1253.7 438,1253.6 442,1253.6 446,1253.5 450,1253.4 454,1253.4 458,1253.3 462,1253.2 466,1253.1 470,1253 474.1,1252.9 478.1,1252.7 482.1,1252.6 486.1,1252.5 490.1,1252.3 494.1,1252.2 498.1,1252 502.1,1251.8 506.1,1251.6 510.1,1251.4 514.1,1251.2 518.1,1250.9 522.1,1250.7 526.2,1250.4 530.2,1250.1 534.2,1249.8 538.2,1249.5 542.2,1249.1 546.2,1248.8 550.2,1248.4 554.2,1247.8 558.2,1247.2 562.2,1246.4 566.2,1245.6 570.2,1244.5 574.2,1243.2 578.2,1241.6 582.3,1240 586.3,1237.6 590.3,1234.5 594.3,1230.8 598.3,1225.7 602.3,1219.4 606.3,1211.7 610.3,1202.9 614.3,1193.2 618.3,1181.3 622.3,1169.3 626.3,1157.5 630.3,1147.5 634.4,1139.6 638.4,1133.1 642.4,1127.9 646.4,1124 650.4,1120.9 654.4,1118.4 658.4,1116.3 662.4,1114.5 666.4,1113.4 670.4,1112.6 674.4,1112 678.4,1111.5 682.4,1111.1 686.4,1110.9 690.5,1110.6 694.5,1110.4 698.5,1110.2 702.5,1110 706.5,1109.9 710.5,1109.7 714.5,1109.7 718.5,1109.7 722.5,1109.8 726.5,1110 730.5,1110.2 734.5,1110.4 738.5,1110.6 742.6,1110.9 746.6,1111.1 750.6,1111.4 754.6,1111.7 758.6,1112 762.6,1112.3 766.6,1112.6 770.6,1112.9 774.6,1113.2 778.6,1113.5 782.6,1113.8 786.6,1114.2 790.6,1114.5 794.6,1114.8 798.7,1115.1 802.7,1115.5 806.7,1115.8 810.7,1116.1 814.7,1116.5 818.7,1116.8 822.7,1117.2 826.7,1117.6 830.7,1117.9 834.7,1118.3 838.7,1118.7 842.7,1119.2 846.7,1119.6 850.8,1120 854.8,1120.4 858.8,1120.8 862.8,1121.2 866.8,1121.6 870.8,1122 874.8,1122.4 878.8,1122.7 882.8,1123.1 886.8,1123.5 890.8,1123.9 894.8,1124.2 898.8,1124.6 902.8,1125 906.9,1125.4 910.9,1125.7 914.9,1126.1 918.9,1126.5 922.9,1126.9 926.9,1127.2 930.9,1127.6 934.9,1128 938.9,1128.4 942.9,1128.8 946.9,1129.1 950.9,1129.5 954.9,1129.9 959,1130.3 963,1130.7 967,1131.1 971,1131.5 975,1131.9 979,1132.3 983,1132.7 987,1133.1 991,1133.5 995,1133.9 999,1134.3 1003,1134.7 1007,1135.1 1011,1135.5 1015.1,1135.9 1019.1,1136.3 1023.1,1136.8 1027.1,1137.2 1031.1,1137.6 1035.1,1138 1039.1,1138.4 1043.1,1138.9 1047.1,1139.3 1051.1,1139.8 1055.1,1140.3 1059.1,1140.8 1063.1,1141.3 1067.2,1141.9 1071.2,1142.4 1075.2,1143.1 1079.2,1143.7 1083.2,1144.3 1087.2,1144.9 1091.2,1145.5 1095.2,1146.1 1099.2,1146.7 1103.2,1147.2 1107.2,1147.8 1111.2,1148.3 1115.2,1148.8 1119.2,1149.4 1123.3,1149.9 1127.3,1150.4 1131.3,1150.9 1135.3,1151.5 1139.3,1152 1143.3,1152.6 1147.3,1153.1 1151.3,1153.7 1155.3,1154.3 1159.3,1154.9 1163.3,1155.5 1167.3,1156.2 1171.3,1156.8 1175.4,1157.4 1179.4,1158 1183.4,1158.6 1187.4,1159.2 1191.4,1159.7 1195.4,1160.2 1199.4,1160.7 1203.4,1161.2 1207.4,1161.6 1211.4,1162 1215.4,1162.4 1219.4,1162.8 1223.4,1163.1 1227.4,1163.4 1231.5,1163.8 1235.5,1164.1 1239.5,1164.4 1243.5,1164.7 1247.5,1165 1251.5,1165.3 1255.5,1165.6 1259.5,1165.9 1263.5,1166.2 1267.5,1166.4 1271.5,1166.7 1275.5,1166.9 1279.5,1167.1 1283.6,1167.3 1287.6,1167.4 1291.6,1167.6 1295.6,1167.7 1299.6,1167.9 1303.6,1168 1307.6,1168.2 1311.6,1168.3 1315.6,1168.4 1319.6,1168.6 1323.6,1168.7 1327.6,1168.9 1331.6,1169 1335.6,1169.2 1339.7,1169.3 1343.7,1169.5 1347.7,1169.7 1351.7,1169.9 1355.7,1170 1359.7,1170.2 1363.7,1170.4 1367.7,1170.6 1371.7,1170.8 1375.7,1171 1379.7,1171.2 1383.7,1171.5 1387.7,1171.7 1391.8,1172 1395.8,1172.3 1399.8,1172.6 1403.8,1172.9 1407.8,1173.2 1411.8,1173.5 1415.8,1173.9 1419.8,1174.3 1423.8,1174.6 1427.8,1175 1431.8,1175.4 1435.8,1175.7 1439.8,1176.1 1443.8,1176.5 1447.9,1176.9 1451.9,1177.3 1455.9,1177.7 1459.9,1178.2 1463.9,1178.6 1467.9,1179 1471.9,1179.4 1475.9,1179.8 1479.9,1180.2 1483.9,1180.5 1487.9,1180.9 1491.9,1181.2 1495.9,1181.5 1500,1181.8 1504,1182 1508,1182.3 1512,1182.5 1516,1182.7 1520,1182.9 1524,1183.1 1528,1183.2 1532,1183.4 1536,1183.5 1540,1183.6 1544,1183.7 1548,1183.8 1552.1,1183.9 1556.1,1183.9 1560.1,1184 1564.1,1184 1568.1,1184 1572.1,1183.9 1576.1,1183.9 1580.1,1183.8 1584.1,1183.8 1588.1,1183.8 1592.1,1183.8 1596.1,1183.8 1600.1,1183.9 1604.1,1184 1608.2,1184.1 1612.2,1184.3 1616.2,1184.5 1620.2,1184.6 1624.2,1184.8 1628.2,1185 1632.2,1185.2 1636.2,1185.3 1640.2,1185.5 1644.2,1185.7 1648.2,1185.8 1652.2,1185.9 1656.2,1186 1660.3,1186.2 1664.3,1186.3 1668.3,1186.4 1672.3,1186.5 1676.3,1186.6 1680.3,1186.7 1684.3,1186.8 1688.3,1186.9 1692.3,1187 1696.3,1187 1700.3,1187 1704.3,1187 1708.3,1187 1712.3,1187 1716.4,1187 1720.4,1186.9 1724.4,1186.9 1728.4,1186.8 1732.4,1186.8 1736.4,1186.7 1740.4,1186.6 1744.4,1186.6 1748.4,1186.5 1752.4,1186.3 1756.4,1186.2 1760.4,1186.1 1764.4,1186 1768.5,1185.9 1772.5,1185.7 1776.5,1185.6 1780.5,1185.5 1784.5,1185.4 1788.5,1185.4 1792.5,1185.3 1796.5,1185.3 1800.5,1185.3 1804.5,1185.3 1808.5,1185.4 1812.5,1185.4 1816.5,1185.5 1820.5,1185.6 1824.6,1185.6 1828.6,1185.7 1832.6,1185.8 1836.6,1185.9 1840.6,1186 1844.6,1186.2 1848.6,1186.4 1852.6,1186.6 1856.6,1186.9 1860.6,1187.2 1864.6,1187.6 1868.6,1188.1 1872.6,1188.7 1876.7,1189.4 1880.7,1190.2 1884.7,1190.9 1888.7,1191.7 1892.7,1192.5 1896.7,1193.3 1900.7,1194.1 1904.7,1194.9 1908.7,1195.7 1912.7,1196.6 1916.7,1197.4 1920.7,1198.3 1924.7,1199.1 1928.7,1200 1932.8,1200.8 1936.8,1201.7 1940.8,1202.6 1944.8,1203.5 1948.8,1204.3 1952.8,1205.1 1956.8,1205.9 1960.8,1206.6 1964.8,1207.3 1968.8,1207.8 1972.8,1208.3 1976.8,1208.7 1980.8,1209 1984.9,1209.2 1988.9,1209.3 1992.9,1209.5 1996.9,1209.6 2000.9,1209.7 2004.9,1209.8 2008.9,1209.9 2012.9,1210.1 2016.9,1210.2 2020.9,1210.3 2024.9,1210.5 2028.9,1210.6 2032.9,1210.8 2036.9,1211 2041,1211.2 2045,1211.3 2049,1211.5 2053,1211.7 2057,1211.9 2061,1212 2065,1212.2 2069,1212.4 2073,1212.5 2077,1212.7 2081,1212.9 2085,1213 2089,1213.1 2093.1,1213.2 2097.1,1213.3 2101.1,1213.4 2105.1,1213.4 2109.1,1213.5 2113.1,1213.6 2117.1,1213.7 2121.1,1213.8 2125.1,1213.8 2129.1,1213.9 2133.1,1214 2137.1,1214.1 2141.1,1214.2 2145.1,1214.2 2149.2,1214.3 2153.2,1214.4 2157.2,1214.5 2161.2,1214.6 2165.2,1214.6 2169.2,1214.7 2173.2,1214.7 2177.2,1214.8 2181.2,1214.8 2185.2,1214.8 2189.2,1214.8 2193.2,1214.9 2197.2,1214.9 2201.3,1214.8 2205.3,1214.8 2209.3,1214.8 2213.3,1214.7 2217.3,1214.6 2221.3,1214.5 2225.3,1214.4 2229.3,1214.2 2233.3,1214 2237.3,1213.9 2241.3,1213.7 2245.3,1213.5 2249.3,1213.4 2253.3,1213.2 2257.4,1213 2261.4,1212.8 2265.4,1212.6 2269.4,1212.4 2273.4,1212.2 2277.4,1212.1 2281.4,1211.9 2285.4,1211.7 2289.4,1211.5 2293.4,1211.3 2297.4,1211.1"/>
<path class="c" stroke="#f27d0a" d="M235.1,1153.3 237.6,1153.1 241.6,1152.8 245.6,1153 249.6,1153.7 253.6,1154.6 257.7,1155.4 261.7,1155.8 265.7,1156.1 269.7,1156.4 273.7,1156.7 277.7,1156.9 281.7,1157.2 285.7,1157.5 289.7,1157.7 293.7,1158 297.7,1158.3 301.7,1158.5 305.7,1158.8 309.8,1159 313.8,1159.2 317.8,1159.5 321.8,1159.7 325.8,1160 329.8,1160.2 333.8,1160.4 337.8,1160.7 341.8,1160.9 345.8,1161.2 349.8,1161.4 353.8,1161.6 357.8,1161.9 361.8,1162.1 365.9,1162.4 369.9,1162.6 373.9,1162.8 377.9,1163.1 381.9,1163.3 385.9,1163.6 389.9,1163.8 393.9,1164.1 397.9,1164.3 401.9,1164.6 405.9,1164.8 409.9,1165.1 413.9,1165.4 418,1165.6 422,1165.9 426,1166.1 430,1166.4 434,1166.6 438,1166.8 442,1167.1 446,1167.3 450,1167.5 454,1167.7 458,1167.9 462,1168 466,1168.2 470,1168.3 474.1,1168.4 478.1,1168.5 482.1,1168.5 486.1,1168.6 490.1,1168.7 494.1,1168.8 498.1,1168.9 502.1,1168.9 506.1,1169 510.1,1169.1 514.1,1169.2 518.1,1169.3 522.1,1169.3 526.2,1169.4 530.2,1169.5 534.2,1169.6 538.2,1169.7 542.2,1169.7 546.2,1169.8 550.2,1169.9 554.2,1170 558.2,1170 562.2,1169.9 566.2,1169.8 570.2,1169.7 574.2,1169.6 578.2,1169.4 582.3,1169.2 586.3,1169.1 590.3,1168.9 594.3,1168.7 598.3,1168.6 602.3,1168.5 606.3,1168.4 610.3,1168.3 614.3,1168.1 618.3,1168 622.3,1167.9 626.3,1167.7 630.3,1167.5 634.4,1167.3 638.4,1167.1 642.4,1166.8 646.4,1166.5 650.4,1166.2 654.4,1165.9 658.4,1165.6 662.4,1165.2 666.4,1164.9 670.4,1164.6 674.4,1164.3 678.4,1164 682.4,1163.7 686.4,1163.4 690.5,1163.1 694.5,1162.8 698.5,1162.5 702.5,1162.2 706.5,1161.9 710.5,1161.6 714.5,1161.3 718.5,1160.9 722.5,1160.6 726.5,1160.3 730.5,1160 734.5,1159.7 738.5,1159.4 742.6,1159.1 746.6,1158.8 750.6,1158.4 754.6,1158.1 758.6,1157.8 762.6,1157.5 766.6,1157.2 770.6,1156.8 774.6,1156.5 778.6,1156.2 782.6,1155.9 786.6,1155.6 790.6,1155.2 794.6,1154.9 798.7,1154.6 802.7,1154.3 806.7,1154 810.7,1153.7 814.7,1153.4 818.7,1153.1 822.7,1152.8 826.7,1152.5 830.7,1152.2 834.7,1152 838.7,1151.7 842.7,1151.4 846.7,1151.2 850.8,1150.9 854.8,1150.7 858.8,1150.4 862.8,1150.1 866.8,1149.9 870.8,1149.6 874.8,1149.3 878.8,1149 882.8,1148.8 886.8,1148.5 890.8,1148.2 894.8,1147.9 898.8,1147.6 902.8,1147.4 906.9,1147.1 910.9,1146.8 914.9,1146.5 918.9,1146.2 922.9,1145.9 926.9,1145.7 930.9,1145.4 934.9,1145.1 938.9,1144.8 942.9,1144.5 946.9,1144.3 950.9,1144 954.9,1143.7 959,1143.4 963,1143.1 967,1142.8 971,1142.5 975,1142.2 979,1141.9 983,1141.5 987,1141.2 991,1140.9 995,1140.6 999,1140.3 1003,1140 1007,1139.7 1011,1139.4 1015.1,1139.2 1019.1,1138.9 1023.1,1138.6 1027.1,1138.4 1031.1,1138.1 1035.1,1137.9 1039.1,1137.7 1043.1,1137.5 1047.1,1137.3 1051.1,1137.2 1055.1,1137 1059.1,1136.9 1063.1,1136.7 1067.2,1136.6 1071.2,1136.5 1075.2,1136.3 1079.2,1136.2 1083.2,1136.1 1087.2,1136 1091.2,1135.9 1095.2,1135.7 1099.2,1135.6 1103.2,1135.5 1107.2,1135.3 1111.2,1135.2 1115.2,1135.1 1119.2,1135 1123.3,1134.9 1127.3,1134.8 1131.3,1134.7 1135.3,1134.6 1139.3,1134.5 1143.3,1134.4 1147.3,1134.4 1151.3,1134.3 1155.3,1134.3 1159.3,1134.3 1163.3,1134.2 1167.3,1134.2 1171.3,1134.3 1175.4,1134.3 1179.4,1134.3 1183.4,1134.3 1187.4,1134.4 1191.4,1134.4 1195.4,1134.5 1199.4,1134.5 1203.4,1134.6 1207.4,1134.6 1211.4,1134.7 1215.4,1134.8 1219.4,1134.8 1223.4,1134.9 1227.4,1135 1231.5,1135.1 1235.5,1135.1 1239.5,1135.2 1243.5,1135.3 1247.5,1135.4 1251.5,1135.5 1255.5,1135.6 1259.5,1135.7 1263.5,1135.8 1267.5,1136 1271.5,1136.1 1275.5,1136.2 1279.5,1136.3 1283.6,1136.5 1287.6,1136.6 1291.6,1136.8 1295.6,1136.9 1299.6,1137.1 1303.6,1137.2 1307.6,1137.4 1311.6,1137.6 1315.6,1137.7 1319.6,1137.9 1323.6,1138.1 1327.6,1138.3 1331.6,1138.5 1335.6,1138.6 1339.7,1138.8 1343.7,1139 1347.7,1139.2 1351.7,1139.5 1355.7,1139.7 1359.7,1139.9 1363.7,1140.2 1367.7,1140.4 1371.7,1140.7 1375.7,1141 1379.7,1141.2 1383.7,1141.5 1387.7,1141.7 1391.8,1142 1395.8,1142.3 1399.8,1142.5 1403.8,1142.7 1407.8,1143 1411.8,1143.2 1415.8,1143.4 1419.8,1143.6 1423.8,1143.8 1427.8,1144 1431.8,1144.2 1435.8,1144.3 1439.8,1144.5 1443.8,1144.7 1447.9,1144.8 1451.9,1145 1455.9,1145.2 1459.9,1145.3 1463.9,1145.5 1467.9,1145.6 1471.9,1145.8 1475.9,1145.9 1479.9,1146 1483.9,1146.2 1487.9,1146.3 1491.9,1146.5 1495.9,1146.6 1500,1146.7 1504,1146.9 1508,1147 1512,1147.1 1516,1147.2 1520,1147.4 1524,1147.5 1528,1147.6 1532,1147.7 1536,1147.8 1540,1147.9 1544,1148 1548,1148.1 1552.1,1148.2 1556.1,1148.3 1560.1,1148.3 1564.1,1148.4 1568.1,1148.5 1572.1,1148.5 1576.1,1148.5 1580.1,1148.6 1584.1,1148.6 1588.1,1148.6 1592.1,1148.6 1596.1,1148.5 1600.1,1148.5 1604.1,1148.5 1608.2,1148.4 1612.2,1148.3 1616.2,1148.3 1620.2,1148.2 1624.2,1148.1 1628.2,1147.9 1632.2,1147.8 1636.2,1147.7 1640.2,1147.6 1644.2,1147.4 1648.2,1147.2 1652.2,1147.1 1656.2,1146.9 1660.3,1146.7 1664.3,1146.5 1668.3,1146.3 1672.3,1146.1 1676.3,1145.9 1680.3,1145.7 1684.3,1145.5 1688.3,1145.3 1692.3,1145.1 1696.3,1144.9 1700.3,1144.7 1704.3,1144.5 1708.3,1144.3 1712.3,1144.1 1716.4,1143.9 1720.4,1143.7 1724.4,1143.5 1728.4,1143.3 1732.4,1143.1 1736.4,1142.9 1740.4,1142.7 1744.4,1142.5 1748.4,1142.3 1752.4,1142.1 1756.4,1141.9 1760.4,1141.7 1764.4,1141.5 1768.5,1141.3 1772.5,1141.1 1776.5,1140.9 1780.5,1140.7 1784.5,1140.5 1788.5,1140.3 1792.5,1140.1 1796.5,1139.9 1800.5,1139.7 1804.5,1139.5 1808.5,1139.3 1812.5,1139.1 1816.5,1138.9 1820.5,1138.7 1824.6,1138.5 1828.6,1138.3 1832.6,1138.1 1836.6,1137.9 1840.6,1137.7 1844.6,1137.5 1848.6,1137.3 1852.6,1137.1 1856.6,1136.9 1860.6,1136.7 1864.6,1136.5 1868.6,1136.3 1872.6,1136.1 1876.7,1135.9 1880.7,1135.7 1884.7,1135.5 1888.7,1135.3 1892.7,1135.1 1896.7,1134.9 1900.7,1134.7 1904.7,1134.5 1908.7,1134.3 1912.7,1134.1 1916.7,1134 1920.7,1133.8 1924.7,1133.8 1928.7,1133.7 1932.8,1133.6 1936.8,1133.6 1940.8,1133.5 1944.8,1133.5 1948.8,1133.5 1952.8,1133.5 1956.8,1133.5 1960.8,1133.6 1964.8,1133.6 1968.8,1133.6 1972.8,1133.6 1976.8,1133.6 1980.8,1133.6 1984.9,1133.6 1988.9,1133.7 1992.9,1133.7 1996.9,1133.7 2000.9,1133.7 2004.9,1133.7 2008.9,1133.8 2012.9,1133.8 2016.9,1133.9 2020.9,1133.9 2024.9,1133.9 2028.9,1134 2032.9,1134 2036.9,1134.1 2041,1134.1 2045,1134.2 2049,1134.3 2053,1134.3 2057,1134.4 2061,1134.4 2065,1134.5 2069,1134.6 2073,1134.7 2077,1134.7 2081,1134.8 2085,1134.9 2089,1135 2093.1,1135.2 2097.1,1135.3 2101.1,1135.5 2105.1,1135.6 2109.1,1135.8 2113.1,1136 2117.1,1136.2 2121.1,1136.5 2125.1,1136.7 2129.1,1137 2133.1,1137.3 2137.1,1137.7 2141.1,1138.3 2145.1,1138.9 2149.2,1139.5 2153.2,1139.9 2157.2,1140.2 2161.2,1140.6 2165.2,1141 2169.2,1141.4 2173.2,1141.7 2177.2,1142.1 2181.2,1142.5 2185.2,1142.9 2189.2,1143.3 2193.2,1143.7 2197.2,1144.1 2201.3,1144.6 2205.3,1145 2209.3,1145.5 2213.3,1145.9 2217.3,1146.3 2221.3,1146.8 2225.3,1147.2 2229.3,1147.7 2233.3,1148.1 2237.3,1148.5 2241.3,1149 2245.3,1149.4 2249.3,1149.8 2253.3,1150.2 2257.4,1150.7 2261.4,1151.1 2265.4,1151.5 2269.4,1151.8 2273.4,1152.1 2277.4,1152.3 2281.4,1152.5 2285.4,1152.7 2289.4,1152.9 2293.4,1153 2297.4,1153.1"/>
</g>
<g>
<line class="g" x1="237.8" y1="1522.5" x2="2320" y2="1522.5"/>
<line class="g" x1="237.8" y1="1618.7" x2="2320" y2="1618.7"/>
<line class="g" x1="237.8" y1="1714.8" x2="2320" y2="1714.8"/>
<path class="a" d="M237.8,1426.3 H2320 V1811 H237.8 Z M584.8,1426.3 v21.8 M584.8,1811 v-21.8 M931.8,1426.3 v21.8 M931.8,1811 v-21.8 M1278.9,1426.3 v21.8 M1278.9,1811 v-21.8 M1625.9,1426.3 v21.8 M1625.9,1811 v-21.8 M1973,1426.3 v21.8 M1973,1811 v-21.8 M237.8,1522.5 h21.8 M2320,1522.5 h-21.8 M237.8,1618.7 h21.8 M2320,1618.7 h-21.8 M237.8,1714.8 h21.8 M2320,1714.8 h-21.8"/>
<text class="t" x="218.0" y="1446.6" text-anchor="end">1.0</text>
<text class="t" x="218.0" y="1542.8" text-anchor="end">0.5</text>
<text class="t" x="218.0" y="1639" text-anchor="end">0</text>
<text class="t" x="218.0" y="1735.1" text-anchor="end">−0.5</text>
<text class="t" x="218.0" y="1831.3" text-anchor="end">−1.0</text>
<text class="t" transform="translate(77.0,1619.7) rotate(-90)" text-anchor="middle">Clock (ns)</text>
<path class="c" stroke="#ff0000" d="M238,1706.1 239,1706.4 240,1705.8 241,1704.1 242,1706 243,1705.2 244,1703.8 245,1704.1 246,1703.2 247,1703.1 248,1702.8 249,1703 250,1702.2 251,1702.6 252,1701.6 253,1702.4 254,1702.2 255,1701.5 256,1700.2 257,1700.5 258,1700.8 259,1699.6 260,1699.9 261,1699.3 262,1695.8 263,1696.6 264,1698.5 265,1694.4 266,1691.3 267,1692 268,1693.9 269,1690.9 270,1691.9 271,1695.3 272,1694.4 273,1694.5 274,1694.2 275,1694.1 276,1696.2 277,1696.1 278,1694.7 279,1694.8 280,1694.9 281,1693.4 282,1693.7 283,1694.2 284,1695.1 285,1696 286,1697.3 287,1696.6 288,1695.8 289,1694.2 290,1693.8 291,1691.5 292,1692.4 293,1690.4 294,1692.1 295,1691.4 296,1690.4 297,1690.6 298,1690 299,1689.5 300,1687.5 301,1686.5 302,1687 303,1686.4 304,1687.5 305,1687.8 306,1684.5 307,1685.9 308,1687 309,1685.6 310,1685.1 311,1685.7 312,1684.2 313,1684.1 314,1682.7 315,1681.1 316,1681.6 317,1681 318,1681.8 319,1680.4 320,1677.7 321,1678.6 322,1681.4 323,1681.7 324,1680.6 325,1680.5 326,1680.3 327,1680.6 328,1681.7 329,1681.3 330,1681.6 331,1681.2 332,1681.4 333,1678.4 334,1680.7 335,1681.3 336,1679.4 337,1679.9 338,1678.7 339,1679.5 340,1678.6 341,1679.2 342,1679.2 343,1677.8 344,1675.4 345,1673.9 346,1676.6 347,1674.7 348,1674.3 349,1675.8 350,1674.9 351,1674.4 352,1672.5 353,1672.5 354,1672.7 355,1674 356,1672.1 357,1673.2 358,1674.2 359,1671 360,1669.2 361,1671.8 362,1673.9 363,1670.6 364,1669.5 365,1669.9 366,1667.9 367,1667.9 368,1668.2 369,1669.1 370,1667.7 371,1666.7 372,1665.8 373,1665.4 374,1665.4 375,1664.2 376,1663.5 377,1661 378,1661 379,1662.8 380,1659.6 381,1659.7 382,1661.5 383,1661.7 384,1661.7 385,1662.3 386,1662.9 387,1661.9 388,1664.8 389,1664.5 390,1663.4 391,1663.4 392,1665.4 393,1668.8 394,1666.6 395,1667.3 396,1665.6 397,1667.1 398,1667.1 399,1665.3 400,1664.4 401,1665.2 402,1666 403,1666 404,1665.2 405,1661.3 406,1660.3 407,1662.4 408,1662.9 409,1663 410.1,1663.9 411.1,1665.1 412.1,1664.2 413.1,1667.3 414.1,1667.3 415.1,1667.4 416.1,1668.5 417.1,1668.3 418.1,1667.5 419.1,1667.8 420.1,1667.4 421.1,1670.9 422.1,1669.2 423.1,1667.3 424.1,1668 425.1,1668.9 426.1,1666.8 427.1,1667.6 428.1,1666.3 429.1,1666.8 430.1,1665.9 431.1,1663.2 432.1,1665.9 433.1,1664.1 434.1,1665.9 435.1,1665.5 436.1,1666.1 437.1,1664.4 438.1,1666.5 439.1,1666.6 440.1,1663.8 441.1,1664.9 442.1,1664.3 443.1,1665.5 444.1,1665 445.1,1667.5 446.1,1664.2 447.1,1663.9 448.1,1664.3 449.1,1663.6 450.1,1663.6 451.1,1662.6 452.1,1663 453.1,1662.3 454.1,1663.9 455.1,1664.8 456.1,1663.6 457.1,1663.7 458.1,1665 459.1,1666.8 460.1,1665.7 461.1,1665.1 462.1,1664 463.1,1664.5 464.1,1664 465.1,1664.8 466.1,1662.8 467.1,1663.3 468.1,1663.6 469.1,1662.9 470.1,1662.3 471.1,1660.6 472.1,1662.1 473.1,1661.9 474.1,1660.1 475.1,1661 476.1,1659 477.1,1658.1 478.1,1658.3 479.1,1657.3 480.1,1656.6 481.1,1654.8 482.1,1658.3 483.1,1656.2 484.1,1655.1 485.1,1656.8 486.1,1655.3 487.1,1655 488.1,1654.2 489.1,1654.1 490.1,1653.9 491.1,1653.2 492.1,1654.4 493.1,1653.4 494.1,1653.4 495.1,1655.1 496.1,1655.9 497.1,1654.8 498.1,1653.7 499.1,1655.2 500.1,1653.8 501.1,1654.5 502.1,1655.6 503.1,1655.1 504.1,1655.9 505.1,1655.1 506.1,1656.2 507.1,1655.1 508.1,1655.6 509.1,1656.6 510.1,1654.4 511.1,1659.2 512.1,1656.2 513.1,1656.3 514.1,1657.2 515.1,1656.4 516.1,1655.3 517.1,1657.9 518.1,1658.5 519.1,1658.7 520.1,1660 521.1,1661.6 522.1,1661.5 523.1,1664.5 524.1,1666 525.1,1666 526.1,1664.7 527.1,1665.8 528.1,1665.7 529.1,1666.7 530.1,1665.1 531.1,1664.9 532.1,1663.6 533.1,1664.4 534.1,1664.2 535.1,1665.2 536.1,1666.6 537.1,1665.4 538.1,1664.8 539.1,1663.2 540.1,1662 541.1,1661.3 542.1,1660.8 543.1,1659.4 544.1,1659.9 545.1,1657.9 546.1,1657.1 547.1,1656.2 548.1,1654.6 549.1,1655.7 550.1,1653.4 551.1,1653.6 552.1,1653.6 553.1,1653.1 554.1,1651.9 555.1,1653.2 556.1,1651.6 557.1,1653.9 558.1,1652.8 559.1,1652.4 560.1,1651.8 561.1,1652.2 562.1,1652.5 563.1,1651.2 564.1,1650.8 565.1,1651.8 566.1,1651.5 567.1,1652.1 568.1,1651.7 569.1,1650.5 570.1,1650.5 571.1,1648.5 572.1,1650.3 573.1,1649.3 574.1,1648.3 575.1,1648.6 576.1,1646 577.1,1649 578.1,1648 579.1,1648.9 580.1,1646.3 581.1,1646.9 582.1,1648 583.1,1648.5 584.1,1648.1 585.1,1648.3 586.1,1649.3 587.1,1650.2 588.1,1649.2 589.1,1648 590.1,1650 591.1,1651 592.1,1653.6 593.1,1654.5 594.1,1657.4 595.1,1657 596.1,1659.2 597.1,1658.3 598.1,1659.2 599.1,1658.3 600.1,1655.5 601.1,1655.6 602.1,1655.1 603.1,1655.3 604.1,1654.7 605.1,1653.8 606.1,1655.4 607.1,1655 608.1,1656.1 609.1,1653.1 610.1,1653.8 611.1,1654.3 612.1,1651.3 613.1,1651.4 614.1,1652.7 615.1,1653.7 616.1,1652.6 617.1,1653.4 618.1,1652.9 619.1,1654.1 620.1,1653 621.1,1654 622.1,1652.6 623.1,1653.6 624.1,1654 625.1,1655.7 626.1,1655.1 627.1,1653.7 628.1,1654.9 629.1,1654.7 630.1,1654.6 631.1,1654.5 632.1,1653.6 633.1,1651.5 634.1,1652.9 635.1,1652.1 636.1,1649.5 637.1,1650.3 638.1,1648.6 639.1,1649.9 640.1,1650.7 641.1,1653.3 642.1,1650.2 643.1,1651.8 644.1,1652.4 645.1,1653 646.1,1653.9 647.1,1651.4 648.1,1650.2 649.1,1653.9 650.1,1653.7 651.1,1654.8 652.1,1653.4 653.1,1654.1 654.1,1653.7 655.1,1652.8 656.1,1653.9 657.1,1652.4 658.1,1651.3 659.1,1651.9 660.1,1652.4 661.1,1653.4 662.1,1653.1 663.1,1653.1 664.1,1655.6 665.1,1654.3 666.1,1654.8 667.1,1655.4 668.1,1656.5 669.1,1654.5 670.1,1655.9 671.1,1653.9 672.1,1653.6 673.1,1653.7 674.1,1655.2 675.1,1655.2 676.1,1654.9 677.1,1655.5 678.1,1656.3 679.1,1656.9 680.1,1658.9 681.1,1659.2 682.1,1658.6 683.1,1657.2 684.1,1655.5 685.1,1655.7 686.1,1657 687.1,1657.5 688.1,1655.9 689.1,1655.2 690.1,1655 691.1,1654 692.1,1653.6 693.1,1653.7 694.1,1654.3 695.1,1656.3 696.1,1654.3 697.1,1654.6 698.1,1655.1 699.1,1653.6 700.1,1654 701.1,1653.1 702.1,1652.5 703.1,1652 704.1,1650.8 705.1,1651.4 706.1,1652.4 707.1,1653.1 708.1,1652.9 709.1,1651.3 710.1,1653.1 711.1,1653.4 712.1,1655.6 713.1,1656.8 714.1,1656.8 715.1,1656 716.1,1655.3 717.1,1652.5 718.1,1651.4 719.1,1651.4 720.1,1650.7 721.1,1650.2 722.1,1653 723.1,1651.1 724.1,1652 725.1,1652.4 726.1,1651.5 727.1,1651.4 728.1,1651.3 729.1,1652.3 730.1,1652.8 731.1,1652.7 732.1,1653.2 733.1,1652.8 734.1,1654.1 735.1,1653 736.1,1656.2 737.1,1656.6 738.1,1655.6 739.1,1657.5 740.1,1653.7 741.1,1653.1 742.1,1651.7 743.1,1653.8 744.1,1651.8 745.1,1652.6 746.1,1653.2 747.1,1654 748.1,1653 749.1,1653.7 750.1,1655.9 751.1,1653.3 752.1,1654.4 753.2,1655.6 754.2,1656.1 755.2,1655.8 756.2,1656.9 757.2,1655.7 758.2,1657.9 759.2,1658 760.2,1655.8 761.2,1658.8 762.2,1660.2 763.2,1658 764.2,1659.3 765.2,1660.9 766.2,1658.4 767.2,1658.4 768.2,1659.7 769.2,1660.7 770.2,1660.7 771.2,1661.7 772.2,1661.2 773.2,1658.5 774.2,1658.6 775.2,1658.8 776.2,1657.9 777.2,1657.3 778.2,1655.2 779.2,1655.3 780.2,1653.5 781.2,1654.4 782.2,1652.3 783.2,1653.1 784.2,1653.7 785.2,1652.2 786.2,1652.5 787.2,1654.7 788.2,1653.6 789.2,1654.2 790.2,1654.2 791.2,1653.6 792.2,1656.4 793.2,1657.9 794.2,1658.2 795.2,1657.7 796.2,1657.4 797.2,1657.4 798.2,1656.6 799.2,1658.3 800.2,1658.3 801.2,1658.2 802.2,1656.9 803.2,1658.4 804.2,1659.7 805.2,1662.9 806.2,1663 807.2,1662 808.2,1664.4 809.2,1666.9 810.2,1666.7 811.2,1666.5 812.2,1666.1 813.2,1665.1 814.2,1665.3 815.2,1665.8 816.2,1667.1 817.2,1665.2 818.2,1662.5 819.2,1658.3 820.2,1657.6 821.2,1657.5 822.2,1657 823.2,1659 824.2,1658.8 825.2,1657 826.2,1657.5 827.2,1658.6 828.2,1656.7 829.2,1659.7 830.2,1660.2 831.2,1659.5 832.2,1660 833.2,1661.2 834.2,1660.7 835.2,1661.6 836.2,1660 837.2,1657 838.2,1657.2 839.2,1659.5 840.2,1661.6 841.2,1660.8 842.2,1661.4 843.2,1664 844.2,1662.7 845.2,1661.3 846.2,1659.5 847.2,1659.6 848.2,1661.3 849.2,1657.8 850.2,1658.8 851.2,1658.6 852.2,1660.9 853.2,1662.6 854.2,1662.5 855.2,1664 856.2,1664 857.2,1661.9 858.2,1662.3 859.2,1661.8 860.2,1659.8 861.2,1658.1 862.2,1657.8 863.2,1659.5 864.2,1659.4 865.2,1662.9 866.2,1662.7 867.2,1661.3 868.2,1661 869.2,1661.8 870.2,1658.1 871.2,1658.3 872.2,1658.3 873.2,1655.4 874.2,1655.4 875.2,1656.6 876.2,1658.1 877.2,1658.6 878.2,1659.7 879.2,1660.6 880.2,1661 881.2,1662.6 882.2,1661.2 883.2,1660.7 884.2,1660.2 885.2,1658.9 886.2,1658.8 887.2,1660.3 888.2,1659.5 889.2,1657.7 890.2,1656.5 891.2,1654.8 892.2,1651.9 893.2,1649.1 894.2,1646 895.2,1646.5 896.2,1648.3 897.2,1645.7 898.2,1647.1 899.2,1645.5 900.2,1648 901.2,1647.9 902.2,1646.9 903.2,1649.7 904.2,1651.6 905.2,1650.3 906.2,1652.7 907.2,1653.4 908.2,1652.1 909.2,1653.9 910.2,1653.5 911.2,1652.1 912.2,1653 913.2,1652.1 914.2,1651.2 915.2,1652.2 916.2,1651.2 917.2,1654.8 918.2,1655.3 919.2,1658.1 920.2,1658.6 921.2,1662.8 922.2,1661.1 923.2,1661.7 924.2,1659.3 925.2,1659.1 926.2,1659.7 927.2,1656.1 928.2,1657.3 929.2,1658.7 930.2,1658 931.2,1657.8 932.2,1655.1 933.2,1655.1 934.2,1654.1 935.2,1652.9 936.2,1651.3 937.2,1650.7 938.2,1650.3 939.2,1651.3 940.2,1649 941.2,1649.1 942.2,1649.7 943.2,1650.7 944.2,1650.1 945.2,1649.4 946.2,1647 947.2,1650.2 948.2,1648.2 949.2,1650.8 950.2,1650.1 951.2,1648.3 952.2,1647.6 953.2,1648.2 954.2,1646.9 955.2,1649.1 956.2,1648.9 957.2,1648.7 958.2,1648.7 959.2,1648.6 960.2,1646.3 961.2,1647.6 962.2,1646 963.2,1645.6 964.2,1645.4 965.2,1645.4 966.2,1647.1 967.2,1645.9 968.2,1644.8 969.2,1643.2 970.2,1644 971.2,1643.5 972.2,1642.8 973.2,1643.8 974.2,1643.7 975.2,1642.6 976.2,1643.9 977.2,1641.9 978.2,1643.3 979.2,1642.5 980.2,1641.9 981.2,1641.3 982.2,1642.7 983.2,1641.5 984.2,1641.9 985.2,1641.5 986.2,1639.8 987.2,1639.7 988.2,1638.8 989.2,1640 990.2,1640 991.2,1638.8 992.2,1638.3 993.2,1638.5 994.2,1639 995.2,1637.4 996.2,1637.8 997.2,1637.5 998.2,1637.5 999.2,1638 1000.2,1638.4 1001.2,1636.6 1002.2,1635.6 1003.2,1637.4 1004.2,1637.4 1005.2,1638.3 1006.2,1635.4 1007.2,1634.9 1008.2,1637.8 1009.2,1637.7 1010.2,1635.1 1011.2,1633.5 1012.2,1635 1013.2,1633.9 1014.2,1635.4 1015.2,1633.7 1016.2,1634.3 1017.2,1631.6 1018.2,1633.4 1019.2,1635.4 1020.2,1633.5 1021.2,1634.1 1022.2,1633.6 1023.2,1634.3 1024.2,1633.8 1025.2,1635.9 1026.2,1635.4 1027.2,1636.5 1028.2,1633.6 1029.2,1634.6 1030.2,1634.3 1031.2,1634.2 1032.2,1634.7 1033.2,1633.5 1034.2,1633.2 1035.2,1631.8 1036.2,1633.9 1037.2,1632.3 1038.2,1631.4 1039.2,1632.1 1040.2,1630 1041.2,1630.1 1042.2,1632.2 1043.2,1631.2 1044.2,1629.8 1045.2,1628.8 1046.2,1630.7 1047.2,1631.7 1048.2,1629.3 1049.2,1629.8 1050.2,1628.7 1051.2,1629.5 1052.2,1628.9 1053.2,1628.2 1054.2,1626.8 1055.2,1627.1 1056.2,1626.6 1057.2,1626.3 1058.2,1625.2 1059.2,1625.5 1060.2,1624.9 1061.2,1624.9 1062.2,1625.3 1063.2,1624.1 1064.2,1623.8 1065.2,1625.9 1066.2,1627.8 1067.2,1629 1068.2,1629.4 1069.2,1628.7 1070.2,1630.9 1071.2,1631.2 1072.2,1629.9 1073.2,1628 1074.2,1629.3 1075.2,1627.9 1076.2,1628.4 1077.2,1628.4 1078.2,1626.8 1079.2,1628.7 1080.2,1627.5 1081.2,1627.8 1082.2,1626.4 1083.2,1625.5 1084.2,1624.8 1085.2,1621.4 1086.2,1620.7 1087.2,1617 1088.2,1617.7 1089.2,1619.2 1090.2,1619.3 1091.2,1618.8 1092.2,1617.4 1093.2,1619 1094.2,1618.7 1095.2,1618.5 1096.3,1618.1 1097.3,1616.9 1098.3,1620.9 1099.3,1617.5 1100.3,1616.8 1101.3,1617.4 1102.3,1617.3 1103.3,1616.5 1104.3,1614.8 1105.3,1615.8 1106.3,1614.4 1107.3,1615.3 1108.3,1613.7 1109.3,1610.4 1110.3,1609.7 1111.3,1608.9 1112.3,1609.4 1113.3,1608.6 1114.3,1609.1 1115.3,1608.6 1116.3,1608.6 1117.3,1608.2 1118.3,1605.1 1119.3,1605.7 1120.3,1606.4 1121.3,1606.9 1122.3,1608.3 1123.3,1611 1124.3,1610.6 1125.3,1610 1126.3,1608.4 1127.3,1609.9 1128.3,1608.1 1129.3,1606.6 1130.3,1605.1 1131.3,1603.6 1132.3,1605.2 1133.3,1604.5 1134.3,1605 1135.3,1603.2 1136.3,1606.8 1137.3,1606.5 1138.3,1606.8 1139.3,1609.3 1140.3,1609.1 1141.3,1611.4 1142.3,1613.1 1143.3,1612 1144.3,1613.8 1145.3,1613.1 1146.3,1616.2 1147.3,1618.1 1148.3,1616.8 1149.3,1619.9 1150.3,1618.4 1151.3,1619.4 1152.3,1622.4 1153.3,1623.1 1154.3,1619.5 1155.3,1620.3 1156.3,1619.2 1157.3,1620.8 1158.3,1619 1159.3,1617.6 1160.3,1618.2 1161.3,1616 1162.3,1616.7 1163.3,1617.6 1164.3,1614.1 1165.3,1614.1 1166.3,1612.4 1167.3,1610.7 1168.3,1609.1 1169.3,1605.4 1170.3,1602 1171.3,1599.4 1172.3,1597.9 1173.3,1597.3 1174.3,1599 1175.3,1599.8 1176.3,1599.6 1177.3,1597.3 1178.3,1600.1 1179.3,1599.5 1180.3,1597.7 1181.3,1598.5 1182.3,1599.4 1183.3,1600 1184.3,1600.5 1185.3,1600.5 1186.3,1600.2 1187.3,1599.8 1188.3,1598.5 1189.3,1599.3 1190.3,1599.5 1191.3,1599.2 1192.3,1601.2 1193.3,1600.9 1194.3,1599.8 1195.3,1601 1196.3,1598.3 1197.3,1601.2 1198.3,1601.6 1199.3,1602.9 1200.3,1605.3 1201.3,1603.6 1202.3,1603.8 1203.3,1602.2 1204.3,1603.5 1205.3,1603.1 1206.3,1603.3 1207.3,1602.4 1208.3,1601.2 1209.3,1602.9 1210.3,1601.6 1211.3,1601.4 1212.3,1602.2 1213.3,1601.5 1214.3,1600.9 1215.3,1600 1216.3,1601 1217.3,1597.3 1218.3,1597.7 1219.3,1599 1220.3,1601.7 1221.3,1602 1222.3,1604.5 1223.3,1606 1224.3,1604.1 1225.3,1600.4 1226.3,1597.9 1227.3,1597.5 1228.3,1594 1229.3,1593.7 1230.3,1592.8 1231.3,1591.4 1232.3,1589.8 1233.3,1589.4 1234.3,1587.3 1235.3,1588.4 1236.3,1587 1237.3,1587.9 1238.3,1587.7 1239.3,1586.8 1240.3,1585.9 1241.3,1586.6 1242.3,1582.9 1243.3,1582.7 1244.3,1584.4 1245.3,1582.2 1246.3,1582.9 1247.3,1584.2 1248.3,1583.1 1249.3,1583.9 1250.3,1582.9 1251.3,1583.8 1252.3,1584.9 1253.3,1585.3 1254.3,1587.4 1255.3,1587.1 1256.3,1587.9 1257.3,1586.6 1258.3,1589 1259.3,1587.6 1260.3,1589.1 1261.3,1589.5 1262.3,1588.2 1263.3,1587.2 1264.3,1587.3 1265.3,1587.6 1266.3,1587.4 1267.3,1587.7 1268.3,1585.7 1269.3,1585.4 1270.3,1588.2 1271.3,1585.7 1272.3,1585.6 1273.3,1585.1 1274.3,1584.4 1275.3,1580.6 1276.3,1580.7 1277.3,1580.8 1278.3,1580.7 1279.3,1577.9 1280.3,1579.3 1281.3,1577 1282.3,1579.6 1283.3,1578.6 1284.3,1577.7 1285.3,1577 1286.3,1579.9 1287.3,1579.1 1288.3,1580 1289.3,1581.1 1290.3,1580.9 1291.3,1581 1292.3,1581.4 1293.3,1579.1 1294.3,1580.8 1295.3,1581.7 1296.3,1579.5 1297.3,1578.4 1298.3,1576.7 1299.3,1579 1300.3,1577.3 1301.3,1579.2 1302.3,1580.1 1303.3,1580 1304.3,1578.6 1305.3,1579.7 1306.3,1578.6 1307.3,1577.7 1308.3,1578.9 1309.3,1577.8 1310.3,1577.2 1311.3,1575.5 1312.3,1576.1 1313.3,1575.9 1314.3,1575.1 1315.3,1575.9 1316.3,1577.4 1317.3,1575.7 1318.3,1575.2 1319.3,1574.4 1320.3,1575.3 1321.3,1576.9 1322.3,1578.2 1323.3,1575.4 1324.3,1576.9 1325.3,1574.5 1326.3,1575.5 1327.3,1576.7 1328.3,1575 1329.3,1574.2 1330.3,1575 1331.3,1574.9 1332.3,1572.1 1333.3,1572.3 1334.3,1571 1335.3,1569.8 1336.3,1570.3 1337.3,1569.3 1338.3,1569.4 1339.3,1569.1 1340.3,1569.1 1341.3,1567.3 1342.3,1568.2 1343.3,1566.1 1344.3,1567.9 1345.3,1565.7 1346.3,1565.4 1347.3,1564 1348.3,1564.4 1349.3,1563.6 1350.3,1562.1 1351.3,1562.7 1352.3,1561.2 1353.3,1560.8 1354.3,1562.2 1355.3,1562.9 1356.3,1564.2 1357.3,1562.3 1358.3,1562.8 1359.3,1563 1360.3,1563 1361.3,1563.7 1362.3,1563.3 1363.3,1564.5 1364.3,1564.1 1365.3,1564.5 1366.3,1563.9 1367.3,1564.5 1368.3,1563.7 1369.3,1564.5 1370.3,1564.7 1371.3,1563.4 1372.3,1563 1373.3,1561.9 1374.3,1563.4 1375.3,1562.3 1376.3,1560 1377.3,1561.6 1378.3,1561.4 1379.3,1559.8 1380.3,1559.8 1381.3,1558.6 1382.3,1558.6 1383.3,1557.7 1384.3,1557.5 1385.3,1557.1 1386.3,1558.1 1387.3,1555.9 1388.3,1556.1 1389.3,1555.9 1390.3,1554.3 1391.3,1554.5 1392.3,1556.6 1393.3,1552.1 1394.3,1554.1 1395.3,1553.4 1396.3,1554 1397.3,1551.8 1398.3,1551.2 1399.3,1552.7 1400.3,1550.8 1401.3,1551.4 1402.3,1550.8 1403.3,1552.9 1404.3,1550.9 1405.3,1552.6 1406.3,1552.4 1407.3,1551.2 1408.3,1550.3 1409.3,1553.6 1410.3,1551.3 1411.3,1552 1412.3,1553 1413.3,1552.8 1414.3,1551 1415.3,1551.9 1416.3,1552 1417.3,1552.6 1418.3,1552.8 1419.3,1549.1 1420.3,1551.6 1421.3,1547.9 1422.3,1550 1423.3,1548.8 1424.3,1550.9 1425.3,1548.7 1426.3,1548 1427.3,1548.1 1428.3,1547.7 1429.3,1548.7 1430.3,1549.1 1431.3,1549.8 1432.3,1550.3 1433.3,1549.3 1434.3,1546.8 1435.3,1545.4 1436.3,1546.2 1437.3,1549 1438.3,1548.8 1439.3,1549.1 1440.4,1550.6 1441.4,1549.8 1442.4,1549.8 1443.4,1551.9 1444.4,1552.4 1445.4,1551.4 1446.4,1550 1447.4,1547.6 1448.4,1547.1 1449.4,1547.1 1450.4,1547.6 1451.4,1546.5 1452.4,1545.2 1453.4,1545.9 1454.4,1546.1 1455.4,1547 1456.4,1544.8 1457.4,1546.5 1458.4,1546.2 1459.4,1547.2 1460.4,1545.8 1461.4,1542.6 1462.4,1537.7 1463.4,1535.8 1464.4,1536.1 1465.4,1537.6 1466.4,1538.5 1467.4,1540.8 1468.4,1540.2 1469.4,1537.5 1470.4,1539.4 1471.4,1539.3 1472.4,1538.7 1473.4,1539.7 1474.4,1540.1 1475.4,1539.6 1476.4,1542.8 1477.4,1541.4 1478.4,1540.4 1479.4,1541.8 1480.4,1542.2 1481.4,1540.9 1482.4,1540.3 1483.4,1540.6 1484.4,1539.5 1485.4,1539 1486.4,1537.8 1487.4,1537.9 1488.4,1538.2 1489.4,1536.7 1490.4,1538.4 1491.4,1539.3 1492.4,1537.7 1493.4,1538.2 1494.4,1539.5 1495.4,1538.6 1496.4,1540.2 1497.4,1540.8 1498.4,1541 1499.4,1540.3 1500.4,1539.6 1501.4,1539.1 1502.4,1539.8 1503.4,1540.7 1504.4,1541.8 1505.4,1543.5 1506.4,1543.2 1507.4,1545.8 1508.4,1545.7 1509.4,1546.2 1510.4,1546.2 1511.4,1545.5 1512.4,1547.2 1513.4,1543.2 1514.4,1544.6 1515.4,1545.4 1516.4,1544.5 1517.4,1541.6 1518.4,1541.8 1519.4,1538.6 1520.4,1536.7 1521.4,1536.3 1522.4,1533.7 1523.4,1532.6 1524.4,1535 1525.4,1534.9 1526.4,1534.7 1527.4,1533.4 1528.4,1533.4 1529.4,1531.7 1530.4,1533.7 1531.4,1532.4 1532.4,1531.6 1533.4,1529.6 1534.4,1532.1 1535.4,1531.6 1536.4,1530.1 1537.4,1529.4 1538.4,1531.1 1539.4,1538.1 1540.4,1543.7 1541.4,1543 1542.4,1542.1 1543.4,1540.9 1544.4,1542.7 1545.4,1541.7 1546.4,1543.9 1547.4,1543.8 1548.4,1544.6 1549.4,1543.9 1550.4,1544.2 1551.4,1544.5 1552.4,1542 1553.4,1543.5 1554.4,1541.2 1555.4,1540.4 1556.4,1540 1557.4,1539.4 1558.4,1540.7 1559.4,1541.2 1560.4,1539.5 1561.4,1536.8 1562.4,1539.4 1563.4,1540.3 1564.4,1540 1565.4,1537.8 1566.4,1536.7 1567.4,1535.6 1568.4,1533.1 1569.4,1534.1 1570.4,1530.6 1571.4,1531.6 1572.4,1532.2 1573.4,1530.9 1574.4,1532.6 1575.4,1535.5 1576.4,1535.6 1577.4,1534.1 1578.4,1536 1579.4,1535.5 1580.4,1535 1581.4,1536.1 1582.4,1536.5 1583.4,1537 1584.4,1534.2 1585.4,1535.9 1586.4,1535.5 1587.4,1539.3 1588.4,1539.6 1589.4,1542.1 1590.4,1543.2 1591.4,1544.9 1592.4,1544.7 1593.4,1548.2 1594.4,1547.2 1595.4,1544.6 1596.4,1544.4 1597.4,1541.3 1598.4,1539.3 1599.4,1537.8 1600.4,1535.6 1601.4,1535.5 1602.4,1536.9 1603.4,1538.8 1604.4,1540 1605.4,1539.8 1606.4,1539.3 1607.4,1540.7 1608.4,1543 1609.4,1538.3 1610.4,1539.9 1611.4,1538.8 1612.4,1540.4 1613.4,1539.4 1614.4,1536.6 1615.4,1535.2 1616.4,1535.8 1617.4,1535.4 1618.4,1537 1619.4,1535 1620.4,1534.5 1621.4,1533.8 1622.4,1532.7 1623.4,1535.3 1624.4,1536.1 1625.4,1535 1626.4,1532.5 1627.4,1536.1 1628.4,1535.6 1629.4,1534.2 1630.4,1534.2 1631.4,1535.3 1632.4,1536.6 1633.4,1535.3 1634.4,1534.5 1635.4,1535.4 1636.4,1537.2 1637.4,1534.4 1638.4,1534.7 1639.4,1534.4 1640.4,1536.8 1641.4,1532.5 1642.4,1535.5 1643.4,1534.4 1644.4,1535.7 1645.4,1536.4 1646.4,1539.2 1647.4,1536.2 1648.4,1536.2 1649.4,1539.2 1650.4,1536.4 1651.4,1536 1652.4,1535.7 1653.4,1535.2 1654.4,1535.4 1655.4,1536.7 1656.4,1537 1657.4,1537 1658.4,1535 1659.4,1534.1 1660.4,1533.4 1661.4,1534.7 1662.4,1534.6 1663.4,1535.5 1664.4,1534.6 1665.4,1534.7 1666.4,1534.3 1667.4,1536 1668.4,1535.1 1669.4,1536.6 1670.4,1538.7 1671.4,1538.5 1672.4,1540.4 1673.4,1537.9 1674.4,1536.7 1675.4,1532.6 1676.4,1532.2 1677.4,1530.7 1678.4,1529.8 1679.4,1528.8 1680.4,1530.7 1681.4,1532.5 1682.4,1533.1 1683.4,1532 1684.4,1532.6 1685.4,1532.3 1686.4,1534.2 1687.4,1536.4 1688.4,1535.1 1689.4,1534.4 1690.4,1536.7 1691.4,1537.4 1692.4,1535 1693.4,1538.3 1694.4,1540.5 1695.4,1540.3 1696.4,1540.7 1697.4,1539.9 1698.4,1540.2 1699.4,1539.6 1700.4,1540.2 1701.4,1540.3 1702.4,1537.3 1703.4,1536.9 1704.4,1535.5 1705.4,1537.9 1706.4,1536.8 1707.4,1534.6 1708.4,1534.6 1709.4,1536.3 1710.4,1533.8 1711.4,1535.3 1712.4,1536.4 1713.4,1537.1 1714.4,1536.9 1715.4,1538.2 1716.4,1537.4 1717.4,1536.7 1718.4,1537.6 1719.4,1541 1720.4,1541 1721.4,1542.1 1722.4,1542.8 1723.4,1542.9 1724.4,1544 1725.4,1544.7 1726.4,1544.8 1727.4,1545.1 1728.4,1544.8 1729.4,1545.2 1730.4,1548.2 1731.4,1547.1 1732.4,1544.9 1733.4,1540.1 1734.4,1537 1735.4,1539.3 1736.4,1539.3 1737.4,1541.2 1738.4,1541.7 1739.4,1543.7 1740.4,1545.3 1741.4,1544.9 1742.4,1542.2 1743.4,1539.4 1744.4,1540.5 1745.4,1541.1 1746.4,1541.8 1747.4,1539.4 1748.4,1539.3 1749.4,1538.9 1750.4,1540.2 1751.4,1540.8 1752.4,1540.8 1753.4,1542.6 1754.4,1543.3 1755.4,1542.3 1756.4,1542.9 1757.4,1542.6 1758.4,1540 1759.4,1538.5 1760.4,1537.2 1761.4,1535.5 1762.4,1536.9 1763.4,1540.2 1764.4,1544.3 1765.4,1547.6 1766.4,1549.4 1767.4,1551.7 1768.4,1554.4 1769.4,1554.1 1770.4,1555.4 1771.4,1558.6 1772.4,1557.9 1773.4,1553.3 1774.4,1550.9 1775.4,1546.3 1776.4,1546.6 1777.4,1545.4 1778.4,1547.1 1779.4,1548.7 1780.4,1546.3 1781.4,1548.5 1782.4,1548 1783.5,1550 1784.5,1548.5 1785.5,1546.8 1786.5,1545.8 1787.5,1544.1 1788.5,1541.7 1789.5,1542.2 1790.5,1542.5 1791.5,1543.4 1792.5,1543.1 1793.5,1541.1 1794.5,1544.5 1795.5,1545.3 1796.5,1544.5 1797.5,1546.9 1798.5,1547.5 1799.5,1545.9 1800.5,1545.9 1801.5,1547.2 1802.5,1549.7 1803.5,1547.6 1804.5,1546.9 1805.5,1547.5 1806.5,1546.3 1807.5,1546.6 1808.5,1546.1 1809.5,1542.6 1810.5,1544 1811.5,1548.3 1812.5,1555.9 1813.5,1556.2 1814.5,1557.3 1815.5,1554.3 1816.5,1553.3 1817.5,1552.6 1818.5,1553.1 1819.5,1552.8 1820.5,1551.9 1821.5,1552 1822.5,1551.6 1823.5,1551.1 1824.5,1550.5 1825.5,1552.5 1826.5,1554.3 1827.5,1550.9 1828.5,1550.6 1829.5,1550.9 1830.5,1551.3 1831.5,1551 1832.5,1551.8 1833.5,1555.7 1834.5,1554.2 1835.5,1552.7 1836.5,1553.7 1837.5,1554.6 1838.5,1551.9 1839.5,1550.1 1840.5,1548.2 1841.5,1549.3 1842.5,1550.8 1843.5,1550.8 1844.5,1549.4 1845.5,1552.9 1846.5,1554.1 1847.5,1554.2 1848.5,1552.5 1849.5,1553.7 1850.5,1553.9 1851.5,1552.8 1852.5,1553.5 1853.5,1554.9 1854.5,1551.6 1855.5,1553.7 1856.5,1556.7 1857.5,1555.2 1858.5,1554.4 1859.5,1555.7 1860.5,1557.7 1861.5,1556.4 1862.5,1558.8 1863.5,1559.5 1864.5,1559.9 1865.5,1559.3 1866.5,1561.1 1867.5,1561.9 1868.5,1561.7 1869.5,1565.6 1870.5,1563.9 1871.5,1565.1 1872.5,1565.1 1873.5,1565.8 1874.5,1565.8 1875.5,1563.4 1876.5,1561.5 1877.5,1561.3 1878.5,1559.7 1879.5,1559.6 1880.5,1560.1 1881.5,1560.8 1882.5,1562.4 1883.5,1560 1884.5,1560.7 1885.5,1560 1886.5,1561.8 1887.5,1562.7 1888.5,1561 1889.5,1563.6 1890.5,1562.7 1891.5,1561.6 1892.5,1562.1 1893.5,1562.9 1894.5,1564.7 1895.5,1566 1896.5,1567 1897.5,1566.4 1898.5,1566.1 1899.5,1565.4 1900.5,1565.4 1901.5,1566.4 1902.5,1566.5 1903.5,1565.3 1904.5,1563 1905.5,1560.9 1906.5,1558.3 1907.5,1557.5 1908.5,1556.5 1909.5,1558 1910.5,1557.1 1911.5,1559.7 1912.5,1562 1913.5,1563.2 1914.5,1564 1915.5,1565 1916.5,1565.4 1917.5,1567.3 1918.5,1569.2 1919.5,1569.3 1920.5,1570.2 1921.5,1571.5 1922.5,1573.7 1923.5,1572.2 1924.5,1573.6 1925.5,1575.3 1926.5,1577 1927.5,1573.5 1928.5,1574.1 1929.5,1573.8 1930.5,1572.1 1931.5,1572.6 1932.5,1571.2 1933.5,1569.7 1934.5,1567.9 1935.5,1568.1 1936.5,1568.5 1937.5,1569.5 1938.5,1568.2 1939.5,1567.7 1940.5,1569.1 1941.5,1571.2 1942.5,1575.9 1943.5,1581.3 1944.5,1580.5 1945.5,1581.5 1946.5,1582.1 1947.5,1581.8 1948.5,1580 1949.5,1578.4 1950.5,1578.8 1951.5,1577.6 1952.5,1579.5 1953.5,1579.4 1954.5,1576.2 1955.5,1577.3 1956.5,1577.6 1957.5,1579.1 1958.5,1579.4 1959.5,1578 1960.5,1576.7 1961.5,1578.3 1962.5,1580.9 1963.5,1579.5 1964.5,1579.7 1965.5,1582 1966.5,1582.2 1967.5,1581.9 1968.5,1584.1 1969.5,1585.1 1970.5,1583.4 1971.5,1584.5 1972.5,1584.6 1973.5,1582.3 1974.5,1582.3 1975.5,1583.2 1976.5,1582.8 1977.5,1583.9 1978.5,1583.5 1979.5,1585.7 1980.5,1585.9 1981.5,1586.4 1982.5,1590 1983.5,1589.5 1984.5,1590.9 1985.5,1591 1986.5,1591.1 1987.5,1590.2 1988.5,1591.5 1989.5,1591.6 1990.5,1591.8 1991.5,1592.4 1992.5,1592.6 1993.5,1592.6 1994.5,1591.9 1995.5,1592.4 1996.5,1591 1997.5,1590.5 1998.5,1589.4 1999.5,1593.2 2000.5,1593.9 2001.5,1596.9 2002.5,1597.8 2003.5,1597.4 2004.5,1598.2 2005.5,1601.5 2006.5,1600.2 2007.5,1600.7 2008.5,1599.3 2009.5,1602 2010.5,1600.8 2011.5,1601.3 2012.5,1600.9 2013.5,1599.9 2014.5,1599.7 2015.5,1600.9 2016.5,1600 2017.5,1599.4 2018.5,1601.1 2019.5,1602.1 2020.5,1599.3 2021.5,1600.4 2022.5,1599.2 2023.5,1600.2 2024.5,1599 2025.5,1600.7 2026.5,1599.6 2027.5,1598.8 2028.5,1599.8 2029.5,1600.1 2030.5,1600.2 2031.5,1600.5 2032.5,1602.8 2033.5,1603.4 2034.5,1604.5 2035.5,1605.5 2036.5,1606.8 2037.5,1606.2 2038.5,1607.5 2039.5,1609.3 2040.5,1612.1 2041.5,1611 2042.5,1612.2 2043.5,1613.2 2044.5,1614 2045.5,1614 2046.5,1614.2 2047.5,1615.7 2048.5,1614.1 2049.5,1615.7 2050.5,1617 2051.5,1616.7 2052.5,1614.5 2053.5,1616.1 2054.5,1614.4 2055.5,1614.4 2056.5,1613.7 2057.5,1616.2 2058.5,1615.1 2059.5,1618.1 2060.5,1618.6 2061.5,1620.6 2062.5,1619 2063.5,1618.9 2064.5,1621.7 2065.5,1622.2 2066.5,1622.2 2067.5,1623.9 2068.5,1622.8 2069.5,1620.9 2070.5,1621.7 2071.5,1622 2072.5,1622.2 2073.5,1621.4 2074.5,1619 2075.5,1617.4 2076.5,1617.9 2077.5,1618 2078.5,1618.2 2079.5,1618.2 2080.5,1619.1 2081.5,1619 2082.5,1621.6 2083.5,1621.2 2084.5,1622.8 2085.5,1622 2086.5,1624.6 2087.5,1624.5 2088.5,1624.1 2089.5,1626.1 2090.5,1625.3 2091.5,1628.3 2092.5,1628.5 2093.5,1628 2094.5,1628.8 2095.5,1628.3 2096.5,1629.9 2097.5,1629.9 2098.5,1629.9 2099.5,1628.1 2100.5,1629.6 2101.5,1630.3 2102.5,1628.3 2103.5,1628.4 2104.5,1630.1 2105.5,1630.3 2106.5,1633.2 2107.5,1633.1 2108.5,1633.7 2109.5,1633.2 2110.5,1633.4 2111.5,1635.4 2112.5,1634.1 2113.5,1635.4 2114.5,1634.1 2115.5,1636.6 2116.5,1635.7 2117.5,1633.4 2118.5,1633.7 2119.5,1632.2 2120.5,1632.1 2121.5,1631.6 2122.5,1631.9 2123.5,1633.4 2124.5,1632.2 2125.5,1631.8 2126.6,1633.2 2127.6,1632.9 2128.6,1631.9 2129.6,1633.4 2130.6,1633.7 2131.6,1635.4 2132.6,1635.2 2133.6,1637.3 2134.6,1639.1 2135.6,1637.4 2136.6,1638.7 2137.6,1638.8 2138.6,1638.2 2139.6,1640 2140.6,1641.5 2141.6,1641.9 2142.6,1643.9 2143.6,1642 2144.6,1642.5 2145.6,1643.9 2146.6,1644.1 2147.6,1643.6 2148.6,1643.5 2149.6,1644.7 2150.6,1646.1 2151.6,1647.3 2152.6,1644.4 2153.6,1648.3 2154.6,1645.7 2155.6,1644.2 2156.6,1645.7 2157.6,1643.3 2158.6,1643.9 2159.6,1642 2160.6,1642.2 2161.6,1643.7 2162.6,1645.4 2163.6,1643.5 2164.6,1642.3 2165.6,1642.6 2166.6,1642.7 2167.6,1645.7 2168.6,1645.9 2169.6,1644.9 2170.6,1646.9 2171.6,1646.5 2172.6,1644.2 2173.6,1647.1 2174.6,1648.8 2175.6,1648 2176.6,1646.4 2177.6,1647.7 2178.6,1650.7 2179.6,1651.4 2180.6,1651.9 2181.6,1651.1 2182.6,1650.3 2183.6,1648.6 2184.6,1648.6 2185.6,1650.5 2186.6,1647 2187.6,1647.7 2188.6,1646.9 2189.6,1645.5 2190.6,1643.3 2191.6,1644 2192.6,1643.7 2193.6,1644.6 2194.6,1645.9 2195.6,1645.1 2196.6,1645.8 2197.6,1644.3 2198.6,1645.7 2199.6,1647.3 2200.6,1647 2201.6,1647.6 2202.6,1648.1 2203.6,1647.4 2204.6,1647.8 2205.6,1648.9 2206.6,1651 2207.6,1648.1 2208.6,1649 2209.6,1649 2210.6,1650.2 2211.6,1649 2212.6,1650.6 2213.6,1649.6 2214.6,1648.4 2215.6,1646.4 2216.6,1648.9 2217.6,1648.8 2218.6,1648.6 2219.6,1647.4 2220.6,1646.3 2221.6,1645.1 2222.6,1646.8 2223.6,1646.4 2224.6,1646.8 2225.6,1646 2226.6,1644.9 2227.6,1644.1 2228.6,1645.8 2229.6,1645 2230.6,1644.3 2231.6,1644.6 2232.6,1645.5 2233.6,1645.1 2234.6,1646.8 2235.6,1647.8 2236.6,1647.2 2237.6,1645.8 2238.6,1644.3 2239.6,1643.9 2240.6,1641 2241.6,1640.2 2242.6,1639.9 2243.6,1638.7 2244.6,1637.6 2245.6,1638.8 2246.6,1640.2 2247.6,1645.1 2248.6,1642.4 2249.6,1643.8 2250.6,1647.2 2251.6,1647.6 2252.6,1648.1 2253.6,1647.2 2254.6,1648.5 2255.6,1650.4 2256.6,1647.7 2257.6,1648.3 2258.6,1647.8 2259.6,1648.4 2260.6,1648.6 2261.6,1648.9 2262.6,1647.1 2263.6,1646.8 2264.6,1647.2 2265.6,1646.6 2266.6,1647.9 2267.6,1647.7 2268.6,1646.4 2269.6,1647 2270.6,1647.5 2271.6,1647.3 2272.6,1646.9 2273.6,1647.1 2274.6,1646.1 2275.6,1644.5 2276.6,1647.3 2277.6,1645.9 2278.6,1647.3 2279.6,1646.8 2280.6,1645.7 2281.6,1645.8 2282.6,1645.9 2283.6,1648.3 2284.6,1649.2 2285.6,1650 2286.6,1650.6 2287.6,1650.8 2288.6,1651.4 2289.6,1652.3 2290.6,1651.6 2291.6,1650.5 2292.6,1652.1 2293.6,1651.3 2294.6,1650.7 2295.6,1649.8 2296.6,1649.2 2297.6,1650.7"/>
<path class="c" stroke="#1408f8" d="M238,1709.7 239,1709.4 240,1708.5 241,1706.2 242,1711 243,1710.9 244,1709 245,1709.7 246,1709.1 247,1707.3 248,1707.9 249,1707.7 250,1708.4 251,1707.9 252,1708.9 253,1707.3 254,1706.5 255,1705.1 256,1705.5 257,1703.9 258,1704.2 259,1702.7 260,1702.4 261,1703.1 262,1702.8 263,1705.3 264,1707.4 265,1704.8 266,1704.8 267,1705.1 268,1706 269,1705.1 270,1706.3 271,1705.4 272,1703.3 273,1702.6 274,1702 275,1702.1 276,1699.2 277,1698.8 278,1699.1 279,1700.1 280,1697.6 281,1697.7 282,1697.1 283,1696.3 284,1694.9 285,1696.8 286,1693.8 287,1696 288,1695.1 289,1693.7 290,1696.2 291,1697.2 292,1696.3 293,1697.9 294,1699.7 295,1697.4 296,1696.7 297,1696.1 298,1696.3 299,1695.2 300,1695.2 301,1694.9 302,1695.3 303,1693.9 304,1693.4 305,1692.4 306,1695.9 307,1694.8 308,1695.3 309,1693.6 310,1692.8 311,1693 312,1692.1 313,1691.4 314,1691.6 315,1692.8 316,1689.7 317,1688.2 318,1687.7 319,1691.1 320,1694.9 321,1692.9 322,1692.3 323,1692.1 324,1690.5 325,1691.5 326,1692.2 327,1689.8 328,1690.9 329,1688.1 330,1688.1 331,1686.8 332,1687 333,1687.2 334,1686.7 335,1685.9 336,1685.3 337,1684.9 338,1683.3 339,1683.6 340,1684.5 341,1685.1 342,1684.2 343,1685.7 344,1684.3 345,1682.8 346,1683.5 347,1681.3 348,1683.8 349,1684.1 350,1687.4 351,1687.5 352,1691.1 353,1689.1 354,1687.6 355,1689.5 356,1688.1 357,1686.4 358,1685.3 359,1685.9 360,1685.3 361,1686.3 362,1687 363,1687 364,1688.1 365,1689.5 366,1689.8 367,1687.3 368,1684.8 369,1681.9 370,1679 371,1677.4 372,1679.2 373,1679.1 374,1681.6 375,1680.1 376,1681.2 377,1680.3 378,1680.1 379,1680.9 380,1681.2 381,1680.8 382,1677.4 383,1677.6 384,1674.6 385,1674.9 386,1671.7 387,1673.7 388,1672.1 389,1674.4 390,1674.1 391,1674.3 392,1674.5 393,1674.7 394,1675.7 395,1676.6 396,1677.1 397,1676.5 398,1675.8 399,1676.6 400,1677.1 401,1674.4 402,1675.4 403,1672.8 404,1671.8 405,1672.6 406,1671.6 407,1669.6 408,1667 409,1667 410.1,1665.8 411.1,1663.4 412.1,1664.1 413.1,1663 414.1,1659.8 415.1,1661 416.1,1659.3 417.1,1660.5 418.1,1658.9 419.1,1656.5 420.1,1656.9 421.1,1658 422.1,1657 423.1,1657.9 424.1,1657.4 425.1,1661.4 426.1,1666.1 427.1,1662.2 428.1,1662.5 429.1,1661.9 430.1,1660.6 431.1,1660 432.1,1660.8 433.1,1661.4 434.1,1659.2 435.1,1657.5 436.1,1658.5 437.1,1654.7 438.1,1656.2 439.1,1655 440.1,1656.2 441.1,1655 442.1,1657.6 443.1,1657.5 444.1,1655.3 445.1,1655.2 446.1,1657.7 447.1,1660 448.1,1659.3 449.1,1658.1 450.1,1656.7 451.1,1657 452.1,1656 453.1,1654.1 454.1,1651.8 455.1,1654.6 456.1,1655.3 457.1,1653.9 458.1,1658.1 459.1,1657.2 460.1,1656.1 461.1,1652.7 462.1,1653.8 463.1,1653.1 464.1,1650.7 465.1,1648 466.1,1649.3 467.1,1646.8 468.1,1645.4 469.1,1648.9 470.1,1649.8 471.1,1651.3 472.1,1651.9 473.1,1652.7 474.1,1650.4 475.1,1652.1 476.1,1650.7 477.1,1650.7 478.1,1651.1 479.1,1652.6 480.1,1651.8 481.1,1650.1 482.1,1648.7 483.1,1646.5 484.1,1646.2 485.1,1644.9 486.1,1644.4 487.1,1643.6 488.1,1642 489.1,1643.9 490.1,1643.3 491.1,1643.6 492.1,1643 493.1,1643.2 494.1,1646.9 495.1,1646.9 496.1,1645.2 497.1,1643.3 498.1,1642.3 499.1,1639.5 500.1,1639.9 501.1,1637.6 502.1,1637.5 503.1,1636.2 504.1,1636 505.1,1634.8 506.1,1635.1 507.1,1635.3 508.1,1634.9 509.1,1635.2 510.1,1636.7 511.1,1638.6 512.1,1637.8 513.1,1636.9 514.1,1638.5 515.1,1637.6 516.1,1639.5 517.1,1638 518.1,1635.9 519.1,1637.8 520.1,1636.7 521.1,1632.7 522.1,1634.4 523.1,1634.8 524.1,1633.7 525.1,1633.5 526.1,1633.2 527.1,1637.3 528.1,1639.1 529.1,1642.2 530.1,1641.3 531.1,1644.8 532.1,1646.5 533.1,1649.6 534.1,1650.1 535.1,1645.2 536.1,1642 537.1,1638.9 538.1,1635.8 539.1,1634.3 540.1,1634.1 541.1,1632.9 542.1,1634.1 543.1,1633.6 544.1,1631.6 545.1,1631.5 546.1,1630.9 547.1,1633.5 548.1,1632.3 549.1,1630.7 550.1,1630.5 551.1,1629.9 552.1,1627.6 553.1,1624.9 554.1,1623.9 555.1,1623.1 556.1,1624.3 557.1,1625.1 558.1,1620.9 559.1,1621.8 560.1,1621.4 561.1,1620.4 562.1,1621.5 563.1,1620.3 564.1,1632.5 565.1,1631.2 566.1,1631.8 567.1,1632 568.1,1630.5 569.1,1628.3 570.1,1628.4 571.1,1629 572.1,1627.7 573.1,1627.4 574.1,1626.3 575.1,1627.2 576.1,1626.6 577.1,1625.1 578.1,1626.6 579.1,1625 580.1,1624.4 581.1,1623.7 582.1,1625.4 583.1,1623.5 584.1,1623.6 585.1,1622.3 586.1,1623.3 587.1,1623 588.1,1621.6 589.1,1620.9 590.1,1619.6 591.1,1616.8 592.1,1618.4 593.1,1616.6 594.1,1615.5 595.1,1611.9 596.1,1609 597.1,1605.2 598.1,1611.9 599.1,1616.6 600.1,1621.9 601.1,1620.5 602.1,1620.2 603.1,1620.5 604.1,1617.9 605.1,1618.6 606.1,1614.9 607.1,1614.7 608.1,1616.2 609.1,1615.7 610.1,1615.7 611.1,1613.5 612.1,1615 613.1,1615 614.1,1615.2 615.1,1613.3 616.1,1612.9 617.1,1610.8 618.1,1610.9 619.1,1611.1 620.1,1612.9 621.1,1611.2 622.1,1610.6 623.1,1612 624.1,1613.3 625.1,1612 626.1,1611.9 627.1,1611.5 628.1,1613.4 629.1,1613.6 630.1,1614.9 631.1,1614.2 632.1,1613 633.1,1613.2 634.1,1614.2 635.1,1615.3 636.1,1618 637.1,1618.2 638.1,1616.7 639.1,1620.4 640.1,1620.4 641.1,1620.6 642.1,1622.4 643.1,1616.4 644.1,1610.1 645.1,1604.9 646.1,1607 647.1,1607.3 648.1,1605.3 649.1,1608.6 650.1,1608.5 651.1,1607.4 652.1,1608.6 653.1,1608.4 654.1,1607.5 655.1,1608 656.1,1609.4 657.1,1606.5 658.1,1607.9 659.1,1608.4 660.1,1607.9 661.1,1608.3 662.1,1607.8 663.1,1609.3 664.1,1611.1 665.1,1611.3 666.1,1606.9 667.1,1607 668.1,1600.8 669.1,1601.5 670.1,1601.8 671.1,1600.9 672.1,1601.7 673.1,1600.8 674.1,1602.5 675.1,1601.5 676.1,1598.8 677.1,1600.8 678.1,1600.2 679.1,1602.5 680.1,1599.4 681.1,1599.1 682.1,1597.3 683.1,1597 684.1,1597.9 685.1,1598.2 686.1,1600.3 687.1,1602 688.1,1601.5 689.1,1602.3 690.1,1599.4 691.1,1599.8 692.1,1598.6 693.1,1597.9 694.1,1598.5 695.1,1599 696.1,1599.4 697.1,1597.8 698.1,1597.3 699.1,1598.1 700.1,1598.2 701.1,1598.5 702.1,1598.6 703.1,1597.5 704.1,1598.4 705.1,1597.4 706.1,1596.7 707.1,1596.8 708.1,1599.7 709.1,1598.2 710.1,1601 711.1,1599.1 712.1,1599.9 713.1,1597.1 714.1,1597.8 715.1,1598.6 716.1,1596.4 717.1,1596.8 718.1,1597.5 719.1,1596.9 720.1,1596.8 721.1,1597.4 722.1,1597.5 723.1,1596.9 724.1,1595.2 725.1,1594.4 726.1,1596.5 727.1,1598.4 728.1,1600 729.1,1599.1 730.1,1598.6 731.1,1599.5 732.1,1597.3 733.1,1596.8 734.1,1596.4 735.1,1596 736.1,1592.8 737.1,1594.7 738.1,1596.6 739.1,1595.9 740.1,1595.3 741.1,1596 742.1,1597.9 743.1,1596 744.1,1597.3 745.1,1597.7 746.1,1595.9 747.1,1594.4 748.1,1592.3 749.1,1592.3 750.1,1591.4 751.1,1592.3 752.1,1590.8 753.2,1589.9 754.2,1588.3 755.2,1590.5 756.2,1590.2 757.2,1589.7 758.2,1588 759.2,1586.5 760.2,1588.9 761.2,1590.2 762.2,1589 763.2,1591.3 764.2,1590.9 765.2,1588.4 766.2,1589 767.2,1589.8 768.2,1589.4 769.2,1587.5 770.2,1584.6 771.2,1586.2 772.2,1585 773.2,1584.7 774.2,1584.7 775.2,1585.2 776.2,1586.8 777.2,1587 778.2,1587 779.2,1586.5 780.2,1585.9 781.2,1585.7 782.2,1584.8 783.2,1583.9 784.2,1581 785.2,1582 786.2,1581.2 787.2,1581.4 788.2,1580.9 789.2,1580.6 790.2,1581.9 791.2,1580.3 792.2,1579 793.2,1580.5 794.2,1579.5 795.2,1580.9 796.2,1581.1 797.2,1581.6 798.2,1581.7 799.2,1581.2 800.2,1580.4 801.2,1582.3 802.2,1583.4 803.2,1584.9 804.2,1584.1 805.2,1585.1 806.2,1587.5 807.2,1588.8 808.2,1590.9 809.2,1591.2 810.2,1591.9 811.2,1593.6 812.2,1594.2 813.2,1592.4 814.2,1592.9 815.2,1591.8 816.2,1593.4 817.2,1593.3 818.2,1592.8 819.2,1586.8 820.2,1582.6 821.2,1581.6 822.2,1580.6 823.2,1579.1 824.2,1578.2 825.2,1576.9 826.2,1577.7 827.2,1577.3 828.2,1576.7 829.2,1578.8 830.2,1577.3 831.2,1577 832.2,1578.5 833.2,1580.6 834.2,1579.7 835.2,1581.6 836.2,1584.6 837.2,1582 838.2,1584.7 839.2,1585 840.2,1583.2 841.2,1582.9 842.2,1584.3 843.2,1579.8 844.2,1579.1 845.2,1577.4 846.2,1575.8 847.2,1575.4 848.2,1577.9 849.2,1576 850.2,1573.1 851.2,1572.9 852.2,1572.7 853.2,1572.7 854.2,1571.5 855.2,1573.4 856.2,1575.2 857.2,1576.7 858.2,1577.3 859.2,1575.8 860.2,1579.1 861.2,1578.4 862.2,1581.3 863.2,1583.8 864.2,1581 865.2,1577.1 866.2,1576.4 867.2,1573.4 868.2,1571.2 869.2,1568.6 870.2,1569.1 871.2,1566.3 872.2,1564.9 873.2,1566 874.2,1565.2 875.2,1565.6 876.2,1564.1 877.2,1563.1 878.2,1564.6 879.2,1563.4 880.2,1564.2 881.2,1565.2 882.2,1565 883.2,1565.5 884.2,1566.5 885.2,1567.9 886.2,1568.3 887.2,1569.6 888.2,1570.8 889.2,1575.3 890.2,1579.6 891.2,1582 892.2,1584.7 893.2,1583.1 894.2,1580.4 895.2,1579.2 896.2,1578.8 897.2,1577 898.2,1574.2 899.2,1573.4 900.2,1574.9 901.2,1573.7 902.2,1572.3 903.2,1572.5 904.2,1574.3 905.2,1573 906.2,1570.7 907.2,1570.6 908.2,1568.3 909.2,1569.9 910.2,1573 911.2,1574.7 912.2,1579.3 913.2,1580 914.2,1579.2 915.2,1576.9 916.2,1577.5 917.2,1578.1 918.2,1575.6 919.2,1574.1 920.2,1573.4 921.2,1571.7 922.2,1573.4 923.2,1572.3 924.2,1570.7 925.2,1572.9 926.2,1569.6 927.2,1570.1 928.2,1570.7 929.2,1571.1 930.2,1570.5 931.2,1569.7 932.2,1567.7 933.2,1565.8 934.2,1566.6 935.2,1566.1 936.2,1566.1 937.2,1566.7 938.2,1565.4 939.2,1565.9 940.2,1565.9 941.2,1563.3 942.2,1565.7 943.2,1564.7 944.2,1562.4 945.2,1566.6 946.2,1567.6 947.2,1568.9 948.2,1569.6 949.2,1570.2 950.2,1569.2 951.2,1568.2 952.2,1569.1 953.2,1568.3 954.2,1568 955.2,1566.5 956.2,1566.6 957.2,1565.6 958.2,1565.5 959.2,1564.7 960.2,1564.5 961.2,1565.4 962.2,1565.6 963.2,1560.8 964.2,1562.4 965.2,1562.1 966.2,1561.9 967.2,1561.3 968.2,1563.4 969.2,1563.5 970.2,1563.5 971.2,1564.6 972.2,1565.2 973.2,1564.4 974.2,1567.6 975.2,1566.4 976.2,1566.2 977.2,1568.7 978.2,1569.7 979.2,1569.5 980.2,1572.5 981.2,1570.1 982.2,1570.6 983.2,1570.9 984.2,1571.4 985.2,1570.1 986.2,1567.9 987.2,1566.5 988.2,1567 989.2,1568.2 990.2,1568.3 991.2,1567.1 992.2,1566.2 993.2,1568.4 994.2,1568 995.2,1569 996.2,1569.1 997.2,1569.2 998.2,1569.2 999.2,1570.3 1000.2,1571.4 1001.2,1571.5 1002.2,1569.1 1003.2,1568.8 1004.2,1569.8 1005.2,1569.7 1006.2,1571.6 1007.2,1569.6 1008.2,1569.2 1009.2,1569.6 1010.2,1569.1 1011.2,1567.9 1012.2,1568.7 1013.2,1567.1 1014.2,1566.8 1015.2,1568.4 1016.2,1566 1017.2,1568.9 1018.2,1569.9 1019.2,1571 1020.2,1571.8 1021.2,1572 1022.2,1570 1023.2,1571.4 1024.2,1573.1 1025.2,1575.3 1026.2,1573.9 1027.2,1574.1 1028.2,1573.8 1029.2,1574.9 1030.2,1572.4 1031.2,1572.5 1032.2,1574.7 1033.2,1571.7 1034.2,1572.2 1035.2,1571 1036.2,1569.7 1037.2,1570 1038.2,1568.8 1039.2,1568.9 1040.2,1568.2 1041.2,1568.8 1042.2,1567.4 1043.2,1567.3 1044.2,1566.4 1045.2,1566.1 1046.2,1566.1 1047.2,1563.3 1048.2,1565.6 1049.2,1565.2 1050.2,1566.2 1051.2,1567 1052.2,1568.5 1053.2,1568.7 1054.2,1568.6 1055.2,1569.5 1056.2,1569.8 1057.2,1570.9 1058.2,1572.2 1059.2,1573 1060.2,1572.6 1061.2,1573.1 1062.2,1573.1 1063.2,1574.8 1064.2,1573.4 1065.2,1575.7 1066.2,1574.6 1067.2,1576.3 1068.2,1577.2 1069.2,1573.9 1070.2,1575.2 1071.2,1573.7 1072.2,1572.6 1073.2,1571.4 1074.2,1570.3 1075.2,1570 1076.2,1569.2 1077.2,1568.6 1078.2,1570.2 1079.2,1572 1080.2,1574.6 1081.2,1574.5 1082.2,1574.7 1083.2,1575.7 1084.2,1574.9 1085.2,1575.6 1086.2,1575.9 1087.2,1574.6 1088.2,1576.7 1089.2,1576.7 1090.2,1576.6 1091.2,1573.9 1092.2,1574.3 1093.2,1575.7 1094.2,1574.2 1095.2,1574.5 1096.3,1572.9 1097.3,1573.6 1098.3,1572.2 1099.3,1573.5 1100.3,1573.2 1101.3,1574.3 1102.3,1575.2 1103.3,1575.3 1104.3,1573.5 1105.3,1576.7 1106.3,1576.6 1107.3,1575.3 1108.3,1576.5 1109.3,1577.7 1110.3,1578.1 1111.3,1577.7 1112.3,1576.6 1113.3,1577.8 1114.3,1577.9 1115.3,1580.7 1116.3,1578.3 1117.3,1581.7 1118.3,1583.2 1119.3,1588.3 1120.3,1588.9 1121.3,1586.7 1122.3,1587 1123.3,1585.6 1124.3,1585.7 1125.3,1583.5 1126.3,1583 1127.3,1585.9 1128.3,1587.3 1129.3,1590.3 1130.3,1591.5 1131.3,1587 1132.3,1584.3 1133.3,1582.8 1134.3,1580.7 1135.3,1583.3 1136.3,1583.7 1137.3,1583.9 1138.3,1583 1139.3,1583.1 1140.3,1585.4 1141.3,1585.3 1142.3,1585.3 1143.3,1583.7 1144.3,1583.8 1145.3,1583.6 1146.3,1583.9 1147.3,1582.1 1148.3,1582.9 1149.3,1583.4 1150.3,1583.6 1151.3,1579.2 1152.3,1577.8 1153.3,1580.3 1154.3,1577.2 1155.3,1577.5 1156.3,1578.7 1157.3,1579.4 1158.3,1581.7 1159.3,1581 1160.3,1579.5 1161.3,1580.1 1162.3,1580 1163.3,1580.8 1164.3,1580 1165.3,1579.1 1166.3,1578.8 1167.3,1580 1168.3,1581.6 1169.3,1582.4 1170.3,1585.6 1171.3,1587.2 1172.3,1589.2 1173.3,1588.7 1174.3,1586 1175.3,1588 1176.3,1588.2 1177.3,1588.3 1178.3,1588.4 1179.3,1587.1 1180.3,1583.9 1181.3,1585.2 1182.3,1584.5 1183.3,1584.1 1184.3,1584.2 1185.3,1582.8 1186.3,1589.1 1187.3,1590.4 1188.3,1593.2 1189.3,1592.6 1190.3,1594 1191.3,1590.9 1192.3,1588.8 1193.3,1589.8 1194.3,1586.7 1195.3,1580.4 1196.3,1569.7 1197.3,1570 1198.3,1573.5 1199.3,1574.1 1200.3,1576.2 1201.3,1575.5 1202.3,1579.6 1203.3,1578.4 1204.3,1580.5 1205.3,1579.8 1206.3,1579.5 1207.3,1581.2 1208.3,1582.8 1209.3,1584.8 1210.3,1584.2 1211.3,1585.1 1212.3,1586.7 1213.3,1590.9 1214.3,1588.4 1215.3,1590.5 1216.3,1589.6 1217.3,1590.5 1218.3,1590.5 1219.3,1592.4 1220.3,1590.9 1221.3,1591.4 1222.3,1593.2 1223.3,1593 1224.3,1594.9 1225.3,1596.2 1226.3,1595.6 1227.3,1596.7 1228.3,1595.6 1229.3,1596.4 1230.3,1596.6 1231.3,1597.7 1232.3,1595.1 1233.3,1594.7 1234.3,1595.3 1235.3,1597.1 1236.3,1595 1237.3,1595.7 1238.3,1594.7 1239.3,1592.8 1240.3,1594.2 1241.3,1594.6 1242.3,1593.4 1243.3,1592 1244.3,1593.1 1245.3,1593.8 1246.3,1596.4 1247.3,1594.4 1248.3,1594.5 1249.3,1595.3 1250.3,1595 1251.3,1594.9 1252.3,1595.3 1253.3,1594.5 1254.3,1593.6 1255.3,1595.7 1256.3,1595 1257.3,1594 1258.3,1593.7 1259.3,1594.6 1260.3,1595.1 1261.3,1593.4 1262.3,1594 1263.3,1594.6 1264.3,1594.8 1265.3,1592.9 1266.3,1592 1267.3,1594.9 1268.3,1595.1 1269.3,1595 1270.3,1594.3 1271.3,1596.2 1272.3,1595.8 1273.3,1594.4 1274.3,1593.6 1275.3,1592.1 1276.3,1595.6 1277.3,1595.3 1278.3,1598.8 1279.3,1599.2 1280.3,1599.1 1281.3,1602 1282.3,1601.9 1283.3,1603.7 1284.3,1604.6 1285.3,1605.3 1286.3,1606.6 1287.3,1609.7 1288.3,1609.8 1289.3,1608.6 1290.3,1607.6 1291.3,1607.8 1292.3,1610.2 1293.3,1608.4 1294.3,1607.5 1295.3,1606.1 1296.3,1605.9 1297.3,1605.5 1298.3,1607.6 1299.3,1608.5 1300.3,1608.8 1301.3,1608.4 1302.3,1609.1 1303.3,1609.3 1304.3,1609.4 1305.3,1611.7 1306.3,1612.1 1307.3,1611.7 1308.3,1611.5 1309.3,1609.6 1310.3,1611.8 1311.3,1610.2 1312.3,1611.3 1313.3,1612.1 1314.3,1612.1 1315.3,1612.2 1316.3,1610.3 1317.3,1609.9 1318.3,1611.7 1319.3,1612 1320.3,1613.4 1321.3,1613.7 1322.3,1614.3 1323.3,1613.4 1324.3,1613.8 1325.3,1613.9 1326.3,1611.8 1327.3,1609.9 1328.3,1610.9 1329.3,1608.8 1330.3,1611.1 1331.3,1612.7 1332.3,1612.8 1333.3,1614.4 1334.3,1614.8 1335.3,1614.4 1336.3,1615.9 1337.3,1616.1 1338.3,1619.5 1339.3,1621.4 1340.3,1621.5 1341.3,1623.6 1342.3,1623.1 1343.3,1623.1 1344.3,1624.5 1345.3,1622 1346.3,1620.8 1347.3,1619.8 1348.3,1619.9 1349.3,1621.1 1350.3,1619.8 1351.3,1620.8 1352.3,1621.4 1353.3,1621.9 1354.3,1620.2 1355.3,1623.3 1356.3,1625.3 1357.3,1623.7 1358.3,1624.4 1359.3,1625.2 1360.3,1623.5 1361.3,1624.9 1362.3,1624.4 1363.3,1623.6 1364.3,1623.2 1365.3,1625.5 1366.3,1623.8 1367.3,1624.6 1368.3,1625.2 1369.3,1624.6 1370.3,1625.7 1371.3,1626.2 1372.3,1627.1 1373.3,1627.3 1374.3,1629.9 1375.3,1633.3 1376.3,1634.3 1377.3,1634.8 1378.3,1635.5 1379.3,1637.1 1380.3,1640 1381.3,1640.4 1382.3,1643.5 1383.3,1638.5 1384.3,1637.5 1385.3,1633.5 1386.3,1629.7 1387.3,1628.9 1388.3,1628.4 1389.3,1629.4 1390.3,1630.2 1391.3,1629 1392.3,1629.1 1393.3,1629.6 1394.3,1629.1 1395.3,1630.2 1396.3,1631.5 1397.3,1632.3 1398.3,1632.7 1399.3,1632.4 1400.3,1633 1401.3,1630.3 1402.3,1632 1403.3,1631.9 1404.3,1632.7 1405.3,1633.1 1406.3,1634.4 1407.3,1634.9 1408.3,1636.3 1409.3,1635.4 1410.3,1637.4 1411.3,1636.7 1412.3,1640.9 1413.3,1640.6 1414.3,1638.9 1415.3,1639.8 1416.3,1639.1 1417.3,1640.3 1418.3,1642.5 1419.3,1642.3 1420.3,1640.9 1421.3,1641.2 1422.3,1641.2 1423.3,1642.4 1424.3,1642.3 1425.3,1641.4 1426.3,1642.5 1427.3,1643.8 1428.3,1642.5 1429.3,1644.3 1430.3,1643.9 1431.3,1645.2 1432.3,1644.1 1433.3,1647.1 1434.3,1645.9 1435.3,1646.9 1436.3,1648.8 1437.3,1647.7 1438.3,1648.8 1439.3,1651.6 1440.4,1649.9 1441.4,1650.6 1442.4,1652.3 1443.4,1651.4 1444.4,1652.6 1445.4,1651.6 1446.4,1650.7 1447.4,1652.1 1448.4,1653.5 1449.4,1651.4 1450.4,1652.3 1451.4,1651.6 1452.4,1650.2 1453.4,1650.4 1454.4,1650 1455.4,1650.5 1456.4,1651.1 1457.4,1650.8 1458.4,1652.5 1459.4,1652 1460.4,1654.2 1461.4,1654.7 1462.4,1656.4 1463.4,1659.2 1464.4,1658.3 1465.4,1660.2 1466.4,1657.9 1467.4,1657.2 1468.4,1656.9 1469.4,1653.7 1470.4,1654.3 1471.4,1655.4 1472.4,1655.4 1473.4,1655.4 1474.4,1654.7 1475.4,1656.7 1476.4,1658.2 1477.4,1657.6 1478.4,1656.7 1479.4,1659.7 1480.4,1659.5 1481.4,1657.9 1482.4,1658.9 1483.4,1661.7 1484.4,1660 1485.4,1660.5 1486.4,1661.4 1487.4,1662.3 1488.4,1663.8 1489.4,1663.6 1490.4,1661.5 1491.4,1661.9 1492.4,1663.9 1493.4,1660 1494.4,1659.9 1495.4,1659.4 1496.4,1657.7 1497.4,1658.7 1498.4,1659.1 1499.4,1661.5 1500.4,1659 1501.4,1662.5 1502.4,1662.7 1503.4,1661.8 1504.4,1664.3 1505.4,1664.7 1506.4,1667.5 1507.4,1669.8 1508.4,1669.4 1509.4,1670 1510.4,1670.8 1511.4,1669.2 1512.4,1670.2 1513.4,1669.7 1514.4,1668.1 1515.4,1667.5 1516.4,1665.1 1517.4,1662.2 1518.4,1663.5 1519.4,1663.7 1520.4,1667.4 1521.4,1669.1 1522.4,1671.9 1523.4,1673.5 1524.4,1674.5 1525.4,1676.9 1526.4,1678.3 1527.4,1679.8 1528.4,1679.9 1529.4,1681.5 1530.4,1683.9 1531.4,1686.9 1532.4,1688.1 1533.4,1688.6 1534.4,1688.7 1535.4,1689.4 1536.4,1690.6 1537.4,1677.9 1538.4,1658.4 1539.4,1655.3 1540.4,1655.7 1541.4,1654.7 1542.4,1656.4 1543.4,1654.4 1544.4,1656.8 1545.4,1654.4 1546.4,1655.6 1547.4,1655.6 1548.4,1655.3 1549.4,1657.9 1550.4,1657.7 1551.4,1660 1552.4,1658.2 1553.4,1659.1 1554.4,1659.1 1555.4,1662.3 1556.4,1662.4 1557.4,1660.7 1558.4,1660.8 1559.4,1661.8 1560.4,1665.9 1561.4,1665.4 1562.4,1663 1563.4,1663.9 1564.4,1661.5 1565.4,1663.8 1566.4,1663.4 1567.4,1662.9 1568.4,1662.4 1569.4,1662.4 1570.4,1661.9 1571.4,1664.1 1572.4,1662.9 1573.4,1663.2 1574.4,1663.9 1575.4,1664.9 1576.4,1666.2 1577.4,1667.2 1578.4,1665.9 1579.4,1665.3 1580.4,1663.4 1581.4,1662.3 1582.4,1662.8 1583.4,1665.1 1584.4,1664.3 1585.4,1664.2 1586.4,1662.5 1587.4,1660.5 1588.4,1659.1 1589.4,1660.1 1590.4,1659.4 1591.4,1661.9 1592.4,1659.5 1593.4,1658 1594.4,1659.1 1595.4,1656.1 1596.4,1656.5 1597.4,1654.9 1598.4,1653.8 1599.4,1651.6 1600.4,1652.4 1601.4,1656 1602.4,1656 1603.4,1657.5 1604.4,1662.7 1605.4,1661.9 1606.4,1662.6 1607.4,1662.8 1608.4,1665.3 1609.4,1665.6 1610.4,1662.7 1611.4,1664.2 1612.4,1662.8 1613.4,1660.7 1614.4,1661.1 1615.4,1662.1 1616.4,1660.1 1617.4,1659.9 1618.4,1662 1619.4,1659.4 1620.4,1658.6 1621.4,1658 1622.4,1659.2 1623.4,1659.3 1624.4,1658.4 1625.4,1657.7 1626.4,1658.6 1627.4,1656.8 1628.4,1654.9 1629.4,1655.2 1630.4,1656 1631.4,1658.1 1632.4,1656.8 1633.4,1657.5 1634.4,1658.5 1635.4,1658 1636.4,1657.8 1637.4,1659 1638.4,1660.2 1639.4,1658.6 1640.4,1657.2 1641.4,1657 1642.4,1654.5 1643.4,1655.6 1644.4,1655.2 1645.4,1654.7 1646.4,1651.9 1647.4,1654 1648.4,1649.7 1649.4,1651 1650.4,1649.9 1651.4,1650.4 1652.4,1649 1653.4,1650.8 1654.4,1650.3 1655.4,1650.5 1656.4,1651.8 1657.4,1653 1658.4,1652.5 1659.4,1652.4 1660.4,1651.8 1661.4,1656.3 1662.4,1655.5 1663.4,1654.2 1664.4,1655.3 1665.4,1655.9 1666.4,1655 1667.4,1653.4 1668.4,1653.2 1669.4,1648.8 1670.4,1645.8 1671.4,1643.5 1672.4,1638 1673.4,1638.9 1674.4,1638.7 1675.4,1641.2 1676.4,1639.4 1677.4,1639.9 1678.4,1639.1 1679.4,1638.9 1680.4,1638.7 1681.4,1639.5 1682.4,1640.2 1683.4,1643.4 1684.4,1643.1 1685.4,1644.6 1686.4,1646.4 1687.4,1646.8 1688.4,1646.3 1689.4,1645 1690.4,1646.8 1691.4,1646.2 1692.4,1648.3 1693.4,1646.3 1694.4,1644.2 1695.4,1644.8 1696.4,1644.1 1697.4,1641.9 1698.4,1642.5 1699.4,1643.6 1700.4,1646.8 1701.4,1646.8 1702.4,1646.6 1703.4,1646.6 1704.4,1646 1705.4,1648.8 1706.4,1650.4 1707.4,1650 1708.4,1651 1709.4,1650.2 1710.4,1649.2 1711.4,1648.7 1712.4,1649.7 1713.4,1648 1714.4,1648.3 1715.4,1647.9 1716.4,1647 1717.4,1646.9 1718.4,1647.2 1719.4,1646.9 1720.4,1645.3 1721.4,1645.2 1722.4,1643.4 1723.4,1644.8 1724.4,1641.1 1725.4,1641.4 1726.4,1642 1727.4,1640.3 1728.4,1639.9 1729.4,1639.4 1730.4,1639.4 1731.4,1638.1 1732.4,1639.2 1733.4,1637.9 1734.4,1634.5 1735.4,1635 1736.4,1635 1737.4,1636.7 1738.4,1637.4 1739.4,1637.3 1740.4,1637.3 1741.4,1640.3 1742.4,1639.2 1743.4,1639.3 1744.4,1641 1745.4,1639.6 1746.4,1640.6 1747.4,1638.2 1748.4,1638.1 1749.4,1637.9 1750.4,1640.3 1751.4,1639.7 1752.4,1640.7 1753.4,1640.9 1754.4,1642.1 1755.4,1642.8 1756.4,1642.4 1757.4,1642.3 1758.4,1642.3 1759.4,1641.7 1760.4,1644.3 1761.4,1645.8 1762.4,1644.7 1763.4,1646.7 1764.4,1646.1 1765.4,1644.4 1766.4,1643.4 1767.4,1644.9 1768.4,1645 1769.4,1643.7 1770.4,1643.2 1771.4,1641.3 1772.4,1641.7 1773.4,1639.8 1774.4,1639.5 1775.4,1640.8 1776.4,1639.7 1777.4,1639.3 1778.4,1638.2 1779.4,1637.1 1780.4,1640.5 1781.4,1638.8 1782.4,1641.6 1783.5,1643.3 1784.5,1640.5 1785.5,1643.1 1786.5,1643 1787.5,1642.2 1788.5,1642.8 1789.5,1641.7 1790.5,1641.2 1791.5,1643.8 1792.5,1642.6 1793.5,1641.5 1794.5,1642.1 1795.5,1642.6 1796.5,1641.9 1797.5,1639.2 1798.5,1639 1799.5,1641.2 1800.5,1641.4 1801.5,1640.7 1802.5,1642.1 1803.5,1642.6 1804.5,1643.1 1805.5,1644.6 1806.5,1641.7 1807.5,1641.5 1808.5,1642.5 1809.5,1641.5 1810.5,1639.8 1811.5,1639.9 1812.5,1640 1813.5,1640.8 1814.5,1639.4 1815.5,1639.2 1816.5,1636.1 1817.5,1635.8 1818.5,1636.3 1819.5,1634.3 1820.5,1635.2 1821.5,1633.1 1822.5,1635 1823.5,1632.5 1824.5,1632.7 1825.5,1630.4 1826.5,1629.4 1827.5,1631.4 1828.5,1629.3 1829.5,1628.9 1830.5,1629 1831.5,1627.9 1832.5,1625.5 1833.5,1626.1 1834.5,1626 1835.5,1625 1836.5,1625.1 1837.5,1624.6 1838.5,1623.9 1839.5,1625.8 1840.5,1629.8 1841.5,1633.7 1842.5,1635.8 1843.5,1636.1 1844.5,1635.8 1845.5,1634.8 1846.5,1633.4 1847.5,1632.4 1848.5,1632.1 1849.5,1631 1850.5,1628.8 1851.5,1631 1852.5,1629.1 1853.5,1631.1 1854.5,1629.9 1855.5,1631 1856.5,1632.1 1857.5,1629.7 1858.5,1631.7 1859.5,1631.6 1860.5,1631.3 1861.5,1632.4 1862.5,1631.3 1863.5,1630.9 1864.5,1628.9 1865.5,1629.6 1866.5,1629 1867.5,1628.9 1868.5,1626.9 1869.5,1628.3 1870.5,1628.3 1871.5,1627.2 1872.5,1628 1873.5,1627.9 1874.5,1628.4 1875.5,1628.9 1876.5,1627.3 1877.5,1626.8 1878.5,1630.1 1879.5,1629.6 1880.5,1628.8 1881.5,1629.2 1882.5,1629.3 1883.5,1631.8 1884.5,1631.6 1885.5,1632.1 1886.5,1633.4 1887.5,1633.5 1888.5,1632.9 1889.5,1633.9 1890.5,1633.1 1891.5,1631.8 1892.5,1630.2 1893.5,1630.8 1894.5,1631.3 1895.5,1631.9 1896.5,1631.6 1897.5,1632.3 1898.5,1631.1 1899.5,1631.1 1900.5,1632.1 1901.5,1632.9 1902.5,1634.1 1903.5,1634.2 1904.5,1634.5 1905.5,1632.7 1906.5,1632.8 1907.5,1633.1 1908.5,1633.4 1909.5,1634.2 1910.5,1633.4 1911.5,1631.8 1912.5,1631.9 1913.5,1628.3 1914.5,1627.1 1915.5,1626.6 1916.5,1625.5 1917.5,1624.1 1918.5,1621.5 1919.5,1622.5 1920.5,1620.2 1921.5,1619.1 1922.5,1617.7 1923.5,1619.8 1924.5,1618.8 1925.5,1618.1 1926.5,1616.6 1927.5,1615.2 1928.5,1615.4 1929.5,1619.4 1930.5,1622.3 1931.5,1625 1932.5,1627.8 1933.5,1630 1934.5,1629.8 1935.5,1631.3 1936.5,1632.8 1937.5,1633.3 1938.5,1634 1939.5,1633.7 1940.5,1632.4 1941.5,1629.9 1942.5,1628.3 1943.5,1625.7 1944.5,1625.3 1945.5,1624.2 1946.5,1623.3 1947.5,1624.8 1948.5,1625.1 1949.5,1626.3 1950.5,1626 1951.5,1624.4 1952.5,1625.3 1953.5,1624.7 1954.5,1624.8 1955.5,1625.8 1956.5,1625.4 1957.5,1626 1958.5,1626.6 1959.5,1628.4 1960.5,1627.1 1961.5,1625.2 1962.5,1625.4 1963.5,1623.6 1964.5,1624 1965.5,1624.2 1966.5,1622 1967.5,1622.5 1968.5,1622.9 1969.5,1620.5 1970.5,1619.8 1971.5,1619.5 1972.5,1619.9 1973.5,1619.6 1974.5,1618 1975.5,1616.7 1976.5,1614.6 1977.5,1612.6 1978.5,1612.4 1979.5,1613.6 1980.5,1612.5 1981.5,1610 1982.5,1610.4 1983.5,1610.8 1984.5,1609.1 1985.5,1612 1986.5,1611.8 1987.5,1614.4 1988.5,1614.4 1989.5,1618.1 1990.5,1614.7 1991.5,1615.6 1992.5,1613.8 1993.5,1616.4 1994.5,1616.7 1995.5,1618.5 1996.5,1617.7 1997.5,1615.7 1998.5,1615.8 1999.5,1615.2 2000.5,1614.9 2001.5,1615.9 2002.5,1616.6 2003.5,1615.7 2004.5,1614.8 2005.5,1613.3 2006.5,1613.8 2007.5,1612.1 2008.5,1612.2 2009.5,1612.8 2010.5,1612.4 2011.5,1611.2 2012.5,1610.5 2013.5,1612.3 2014.5,1612.1 2015.5,1610.6 2016.5,1611.6 2017.5,1612.3 2018.5,1615.3 2019.5,1613.9 2020.5,1612.5 2021.5,1614.1 2022.5,1614.6 2023.5,1614 2024.5,1613.1 2025.5,1613.7 2026.5,1614.3 2027.5,1615.7 2028.5,1615.8 2029.5,1617 2030.5,1613.8 2031.5,1614.7 2032.5,1612.4 2033.5,1610.3 2034.5,1610.1 2035.5,1608.5 2036.5,1607.3 2037.5,1609.2 2038.5,1607.2 2039.5,1607.1 2040.5,1605.8 2041.5,1607.5 2042.5,1606.3 2043.5,1607.1 2044.5,1605.4 2045.5,1605.1 2046.5,1605.5 2047.5,1607.1 2048.5,1605.2 2049.5,1604.7 2050.5,1601.3 2051.5,1601.1 2052.5,1601.9 2053.5,1600.1 2054.5,1602.3 2055.5,1600.2 2056.5,1599.4 2057.5,1598.9 2058.5,1598.8 2059.5,1598.4 2060.5,1599 2061.5,1597.1 2062.5,1596.6 2063.5,1595.3 2064.5,1595.2 2065.5,1596.6 2066.5,1593.9 2067.5,1594.2 2068.5,1595.5 2069.5,1597.1 2070.5,1596 2071.5,1595.9 2072.5,1595.8 2073.5,1596.4 2074.5,1596.4 2075.5,1598 2076.5,1597.1 2077.5,1597.8 2078.5,1595.6 2079.5,1596.3 2080.5,1594.3 2081.5,1596.8 2082.5,1597 2083.5,1595.9 2084.5,1596.6 2085.5,1597.4 2086.5,1596.6 2087.5,1595.4 2088.5,1595.2 2089.5,1595.4 2090.5,1594.5 2091.5,1596.5 2092.5,1595.3 2093.5,1594.3 2094.5,1594.7 2095.5,1594 2096.5,1594.8 2097.5,1596.2 2098.5,1596.2 2099.5,1595.4 2100.5,1593.9 2101.5,1596.8 2102.5,1597.2 2103.5,1597.4 2104.5,1596.8 2105.5,1597 2106.5,1598.5 2107.5,1599.3 2108.5,1600 2109.5,1602.1 2110.5,1603.3 2111.5,1601.5 2112.5,1601.9 2113.5,1599.5 2114.5,1599.8 2115.5,1598.5 2116.5,1597.7 2117.5,1597.8 2118.5,1596.5 2119.5,1595.9 2120.5,1594.8 2121.5,1595.6 2122.5,1593.8 2123.5,1592.7 2124.5,1592.7 2125.5,1592 2126.6,1591.3 2127.6,1593.1 2128.6,1592.2 2129.6,1592.4 2130.6,1594.4 2131.6,1593 2132.6,1594 2133.6,1594.4 2134.6,1594.5 2135.6,1594.2 2136.6,1594.6 2137.6,1596.4 2138.6,1595.5 2139.6,1596.8 2140.6,1597 2141.6,1594.7 2142.6,1591.8 2143.6,1592.3 2144.6,1592.7 2145.6,1591.2 2146.6,1587.9 2147.6,1588.1 2148.6,1587.5 2149.6,1582.8 2150.6,1580.3 2151.6,1581.6 2152.6,1581.4 2153.6,1586.8 2154.6,1595.8 2155.6,1599.5 2156.6,1601 2157.6,1603.1 2158.6,1605.2 2159.6,1604.8 2160.6,1602.3 2161.6,1599.8 2162.6,1596.4 2163.6,1593.8 2164.6,1594.9 2165.6,1592.8 2166.6,1591.8 2167.6,1592.2 2168.6,1590.4 2169.6,1590.9 2170.6,1591.8 2171.6,1590.9 2172.6,1588.2 2173.6,1588.4 2174.6,1588.3 2175.6,1588.3 2176.6,1587 2177.6,1584.2 2178.6,1584.7 2179.6,1584 2180.6,1583.5 2181.6,1582 2182.6,1582.6 2183.6,1583.1 2184.6,1586.4 2185.6,1586.8 2186.6,1586.5 2187.6,1585.7 2188.6,1588.6 2189.6,1589.7 2190.6,1587.9 2191.6,1590.2 2192.6,1589.8 2193.6,1587.1 2194.6,1589 2195.6,1588.4 2196.6,1588.4 2197.6,1587.6 2198.6,1587.1 2199.6,1586.9 2200.6,1586.6 2201.6,1586.6 2202.6,1585.1 2203.6,1585.2 2204.6,1585.6 2205.6,1582.3 2206.6,1584.4 2207.6,1585.4 2208.6,1585 2209.6,1587.7 2210.6,1586.5 2211.6,1587.8 2212.6,1589 2213.6,1588.5 2214.6,1589.5 2215.6,1591 2216.6,1589.4 2217.6,1591.3 2218.6,1591.2 2219.6,1592.7 2220.6,1591.4 2221.6,1593.9 2222.6,1594.3 2223.6,1592.2 2224.6,1594.1 2225.6,1591.9 2226.6,1592.9 2227.6,1591.7 2228.6,1593.6 2229.6,1594.1 2230.6,1592.3 2231.6,1591.2 2232.6,1590.5 2233.6,1588.4 2234.6,1589.2 2235.6,1589.9 2236.6,1588.3 2237.6,1587.9 2238.6,1587.7 2239.6,1588.9 2240.6,1587.8 2241.6,1589.1 2242.6,1587.1 2243.6,1588 2244.6,1588.6 2245.6,1589.5 2246.6,1587.6 2247.6,1589.6 2248.6,1591 2249.6,1590.6 2250.6,1593.4 2251.6,1594.7 2252.6,1593.3 2253.6,1591.9 2254.6,1591.5 2255.6,1592.4 2256.6,1591.6 2257.6,1589.9 2258.6,1591.6 2259.6,1586.8 2260.6,1587.1 2261.6,1588.4 2262.6,1585.8 2263.6,1585.5 2264.6,1585.5 2265.6,1584.1 2266.6,1583.4 2267.6,1585.1 2268.6,1584.8 2269.6,1584.8 2270.6,1584.9 2271.6,1584.6 2272.6,1584.9 2273.6,1586 2274.6,1587.3 2275.6,1587 2276.6,1588 2277.6,1588.3 2278.6,1589.9 2279.6,1589.3 2280.6,1588.7 2281.6,1591.9 2282.6,1592.9 2283.6,1590.9 2284.6,1590.7 2285.6,1593.8 2286.6,1588.7 2287.6,1592.3 2288.6,1590.6 2289.6,1589 2290.6,1587.9 2291.6,1588 2292.6,1590.5 2293.6,1587.1 2294.6,1586.7 2295.6,1587.7 2296.6,1587.2 2297.6,1586.6"/>
<path class="c" stroke="#003c00" d="M238,1471.8 239,1467.4 240,1469.9 241,1468.1 242,1467.4 243,1467.4 244,1465.8 245,1467 246,1466.4 247,1470.5 248,1468.2 249,1468.2 250,1469.3 251,1469.4 252,1468.9 253,1469.8 254,1471.4 255,1471.6 256,1473.5 257,1472.9 258,1472.3 259,1473.9 260,1474.4 261,1473.9 262,1474.8 263,1476.2 264,1478.1 265,1476.9 266,1477.6 267,1479 268,1477 269,1477 270,1477.6 271,1476.6 272,1475 273,1474.5 274,1471.4 275,1474.6 276,1472.2 277,1472.4 278,1475.1 279,1476.4 280,1475.8 281,1475.3 282,1476.3 283,1476.8 284,1479.7 285,1480.2 286,1480.1 287,1482.3 288,1482.3 289,1482.1 290,1484 291,1484.3 292,1483.7 293,1482.4 294,1482.7 295,1480.9 296,1483.8 297,1483.2 298,1480.7 299,1481.4 300,1480.3 301,1482.4 302,1481 303,1483 304,1484 305,1484 306,1481.5 307,1483 308,1484.5 309,1484.8 310,1487.1 311,1485.2 312,1487.5 313,1487.4 314,1490.9 315,1491.3 316,1491.7 317,1490.4 318,1494.3 319,1494.1 320,1493.8 321,1492.8 322,1491.2 323,1489.4 324,1488.9 325,1488.9 326,1489.5 327,1485.7 328,1485.6 329,1485.6 330,1487 331,1488.2 332,1487 333,1486 334,1486.7 335,1488.1 336,1488.6 337,1488.2 338,1487.7 339,1488.8 340,1489.1 341,1490.3 342,1488.7 343,1489.3 344,1489.3 345,1490.2 346,1490.2 347,1492.9 348,1492.9 349,1493.7 350,1491.4 351,1493.8 352,1493.7 353,1494.9 354,1493.9 355,1497.9 356,1497.6 357,1495.9 358,1497.2 359,1497.3 360,1497.9 361,1498.4 362,1499.5 363,1497.1 364,1497.7 365,1496.9 366,1498.2 367,1497.7 368,1498.2 369,1495.6 370,1496 371,1495.5 372,1497.3 373,1495.5 374,1494.1 375,1495.1 376,1496.6 377,1495.5 378,1495.5 379,1496.9 380,1498.6 381,1496.1 382,1496.4 383,1496.3 384,1495.9 385,1498.1 386,1499.7 387,1499 388,1498.7 389,1497.9 390,1497.3 391,1496.9 392,1499.7 393,1501.1 394,1499.9 395,1501.3 396,1503 397,1504 398,1505.3 399,1504.8 400,1505.1 401,1505.7 402,1506 403,1506.6 404,1502.9 405,1505.4 406,1503.4 407,1504.5 408,1506.3 409,1505.8 410.1,1504.9 411.1,1504.4 412.1,1506.1 413.1,1505.1 414.1,1506.2 415.1,1508.5 416.1,1508.5 417.1,1511.5 418.1,1510.7 419.1,1511.9 420.1,1510.8 421.1,1510.6 422.1,1510.5 423.1,1510.2 424.1,1508.9 425.1,1510.2 426.1,1509.5 427.1,1510.1 428.1,1507.5 429.1,1509 430.1,1507.9 431.1,1507.3 432.1,1506.7 433.1,1506.1 434.1,1507 435.1,1507.8 436.1,1507.6 437.1,1508.2 438.1,1508.3 439.1,1506.2 440.1,1506.2 441.1,1506.6 442.1,1505.8 443.1,1508.2 444.1,1506.7 445.1,1509 446.1,1507.9 447.1,1508.8 448.1,1508.8 449.1,1508.5 450.1,1509.4 451.1,1509 452.1,1510.1 453.1,1511.4 454.1,1512 455.1,1512.5 456.1,1512.7 457.1,1513.7 458.1,1511.6 459.1,1514.3 460.1,1515.1 461.1,1517.7 462.1,1517.9 463.1,1516 464.1,1519.1 465.1,1519.5 466.1,1519.9 467.1,1521.6 468.1,1520.9 469.1,1519.4 470.1,1519.4 471.1,1518.7 472.1,1518.5 473.1,1517.2 474.1,1519.7 475.1,1520.4 476.1,1518.7 477.1,1519.2 478.1,1520.1 479.1,1520.2 480.1,1522.3 481.1,1521.5 482.1,1521.2 483.1,1521.2 484.1,1521.9 485.1,1525.5 486.1,1524.1 487.1,1525.4 488.1,1527.3 489.1,1526.6 490.1,1528.1 491.1,1525.9 492.1,1527.6 493.1,1527.4 494.1,1528.4 495.1,1526.6 496.1,1528.4 497.1,1526.8 498.1,1527.3 499.1,1526.8 500.1,1527.7 501.1,1530.1 502.1,1530.8 503.1,1530.5 504.1,1531.6 505.1,1532.1 506.1,1531 507.1,1531.4 508.1,1530.9 509.1,1529 510.1,1528.9 511.1,1530.4 512.1,1529.9 513.1,1530.8 514.1,1533.4 515.1,1534.9 516.1,1534.2 517.1,1534.8 518.1,1534.3 519.1,1534.7 520.1,1531.3 521.1,1532.5 522.1,1532.7 523.1,1529.2 524.1,1529.4 525.1,1525.6 526.1,1521.2 527.1,1519.3 528.1,1515.1 529.1,1512.9 530.1,1513 531.1,1509.4 532.1,1509.3 533.1,1505.8 534.1,1506.1 535.1,1503.5 536.1,1499.2 537.1,1500.2 538.1,1500.4 539.1,1501.2 540.1,1527.2 541.1,1554.2 542.1,1550.2 543.1,1545.8 544.1,1543.6 545.1,1545 546.1,1543.2 547.1,1543.6 548.1,1543 549.1,1542.2 550.1,1542.8 551.1,1544.9 552.1,1548.4 553.1,1550.9 554.1,1551 555.1,1551.8 556.1,1551.8 557.1,1552.6 558.1,1551.4 559.1,1550.8 560.1,1550.7 561.1,1551.2 562.1,1551.5 563.1,1549.5 564.1,1549 565.1,1551.3 566.1,1551.1 567.1,1554.6 568.1,1554.3 569.1,1554.7 570.1,1557.5 571.1,1558.1 572.1,1557.3 573.1,1559.3 574.1,1559.4 575.1,1559.1 576.1,1563.8 577.1,1563.6 578.1,1566.1 579.1,1565.2 580.1,1565.5 581.1,1569.3 582.1,1567.1 583.1,1556.4 584.1,1558.3 585.1,1557.8 586.1,1559 587.1,1560.6 588.1,1561.9 589.1,1561.3 590.1,1563.9 591.1,1563.4 592.1,1563.9 593.1,1561.9 594.1,1561.7 595.1,1562.3 596.1,1561.8 597.1,1563 598.1,1562.5 599.1,1563 600.1,1560.9 601.1,1561.3 602.1,1559.2 603.1,1560.4 604.1,1562.3 605.1,1561.1 606.1,1561.7 607.1,1561.1 608.1,1562.6 609.1,1562.8 610.1,1561.8 611.1,1563 612.1,1562.7 613.1,1564.2 614.1,1564.1 615.1,1566.6 616.1,1566.5 617.1,1567.2 618.1,1566.2 619.1,1564.9 620.1,1565.6 621.1,1564.7 622.1,1565.5 623.1,1565.2 624.1,1566.1 625.1,1565.9 626.1,1565.3 627.1,1563.9 628.1,1565.8 629.1,1567.3 630.1,1568.4 631.1,1568.8 632.1,1567.7 633.1,1569 634.1,1569.5 635.1,1571.6 636.1,1570.9 637.1,1570.9 638.1,1571.2 639.1,1573.4 640.1,1575.7 641.1,1575.6 642.1,1574.5 643.1,1575.2 644.1,1575.6 645.1,1575.4 646.1,1574 647.1,1573.6 648.1,1572.5 649.1,1572.2 650.1,1571.3 651.1,1573.8 652.1,1572.7 653.1,1574.1 654.1,1570.1 655.1,1571.8 656.1,1572.5 657.1,1571.6 658.1,1571.9 659.1,1572.2 660.1,1572.4 661.1,1572.1 662.1,1572.1 663.1,1572.9 664.1,1573.9 665.1,1573.4 666.1,1574.2 667.1,1575.5 668.1,1576.4 669.1,1575.5 670.1,1576.1 671.1,1577.1 672.1,1576.9 673.1,1578.9 674.1,1580.7 675.1,1581.4 676.1,1579.7 677.1,1581.6 678.1,1579.9 679.1,1582.1 680.1,1580.5 681.1,1581.4 682.1,1584.3 683.1,1583 684.1,1581.7 685.1,1581.6 686.1,1581.4 687.1,1579.6 688.1,1580.3 689.1,1583.4 690.1,1583.1 691.1,1583.3 692.1,1583.5 693.1,1585.6 694.1,1586.7 695.1,1588 696.1,1587.6 697.1,1587.7 698.1,1588.3 699.1,1587.9 700.1,1589.9 701.1,1589.5 702.1,1588.7 703.1,1589.2 704.1,1588.5 705.1,1590.1 706.1,1590.9 707.1,1588.1 708.1,1587.7 709.1,1586.1 710.1,1589.2 711.1,1589.8 712.1,1588.8 713.1,1589.7 714.1,1587.3 715.1,1588.8 716.1,1589.4 717.1,1588.5 718.1,1591 719.1,1591 720.1,1588.3 721.1,1587.4 722.1,1588.8 723.1,1587.8 724.1,1585.7 725.1,1586.3 726.1,1586.4 727.1,1585.6 728.1,1586 729.1,1585.6 730.1,1586.6 731.1,1585.2 732.1,1586 733.1,1589.2 734.1,1592.5 735.1,1592.3 736.1,1591.1 737.1,1593.5 738.1,1592.3 739.1,1592.5 740.1,1590.6 741.1,1591.5 742.1,1592.6 743.1,1593.9 744.1,1591.8 745.1,1591.1 746.1,1592.2 747.1,1592.2 748.1,1592.6 749.1,1592.3 750.1,1593.2 751.1,1595.7 752.1,1593.2 753.2,1593 754.2,1593.5 755.2,1595 756.2,1593.9 757.2,1594.5 758.2,1595 759.2,1595.2 760.2,1594.1 761.2,1593.2 762.2,1593.4 763.2,1593.7 764.2,1592.5 765.2,1592.4 766.2,1594.1 767.2,1595.6 768.2,1594.4 769.2,1594 770.2,1594.2 771.2,1596.1 772.2,1596.7 773.2,1596 774.2,1598.9 775.2,1600.4 776.2,1598.8 777.2,1599.3 778.2,1599.9 779.2,1601.1 780.2,1599.9 781.2,1604.1 782.2,1603.5 783.2,1606.1 784.2,1606.3 785.2,1607.7 786.2,1608.9 787.2,1609.1 788.2,1607.8 789.2,1608.4 790.2,1608.4 791.2,1608.2 792.2,1611 793.2,1610 794.2,1609 795.2,1609.7 796.2,1606.6 797.2,1606.6 798.2,1607.8 799.2,1606 800.2,1602.6 801.2,1601.6 802.2,1602.2 803.2,1602.7 804.2,1601.3 805.2,1601.7 806.2,1602.4 807.2,1601.3 808.2,1602.1 809.2,1602.1 810.2,1601.8 811.2,1602.1 812.2,1600.6 813.2,1601 814.2,1600.7 815.2,1602.1 816.2,1602.4 817.2,1598.8 818.2,1597.3 819.2,1599.2 820.2,1600.9 821.2,1602.4 822.2,1602.5 823.2,1601.4 824.2,1602 825.2,1604 826.2,1602.3 827.2,1604.8 828.2,1604.4 829.2,1605.1 830.2,1604.7 831.2,1605.5 832.2,1606.2 833.2,1603.7 834.2,1603.2 835.2,1602.4 836.2,1602.2 837.2,1601.4 838.2,1599.9 839.2,1600 840.2,1600.1 841.2,1600.6 842.2,1601.6 843.2,1600.7 844.2,1603.3 845.2,1603.4 846.2,1603.6 847.2,1604.1 848.2,1607 849.2,1609 850.2,1608.4 851.2,1610.3 852.2,1609.1 853.2,1606.7 854.2,1606.3 855.2,1608.2 856.2,1607.2 857.2,1605 858.2,1605.6 859.2,1605.5 860.2,1606 861.2,1605.6 862.2,1609 863.2,1607.5 864.2,1608.6 865.2,1608 866.2,1608.4 867.2,1608.3 868.2,1608.6 869.2,1609.6 870.2,1611.6 871.2,1615.9 872.2,1622.1 873.2,1624.1 874.2,1626.3 875.2,1629.4 876.2,1626 877.2,1627.4 878.2,1626.6 879.2,1627.1 880.2,1624.6 881.2,1625.1 882.2,1626.5 883.2,1622.9 884.2,1620.7 885.2,1618.6 886.2,1616.6 887.2,1612.1 888.2,1610.2 889.2,1610.3 890.2,1609.1 891.2,1608.1 892.2,1607.4 893.2,1607.7 894.2,1613.9 895.2,1620.8 896.2,1621.6 897.2,1623.1 898.2,1623 899.2,1623.8 900.2,1623.3 901.2,1623.5 902.2,1621.7 903.2,1622.3 904.2,1622 905.2,1621.7 906.2,1620.8 907.2,1619 908.2,1620 909.2,1619.6 910.2,1621.2 911.2,1620.6 912.2,1622.2 913.2,1624 914.2,1622.9 915.2,1625.4 916.2,1623.9 917.2,1622.8 918.2,1623.9 919.2,1623.4 920.2,1620.5 921.2,1621.3 922.2,1620.5 923.2,1621.4 924.2,1621.5 925.2,1619.8 926.2,1619.5 927.2,1619.6 928.2,1621.3 929.2,1620.8 930.2,1619.6 931.2,1620.2 932.2,1620.3 933.2,1623.6 934.2,1623.1 935.2,1625.2 936.2,1627.3 937.2,1624.4 938.2,1626 939.2,1626.2 940.2,1627 941.2,1628.2 942.2,1626.9 943.2,1623.6 944.2,1624.5 945.2,1625.6 946.2,1626.2 947.2,1625.1 948.2,1624.3 949.2,1626.3 950.2,1626.2 951.2,1626.4 952.2,1626 953.2,1629.1 954.2,1624.9 955.2,1627.3 956.2,1629.1 957.2,1627.1 958.2,1628.4 959.2,1628.4 960.2,1630.9 961.2,1628.9 962.2,1630.6 963.2,1630.4 964.2,1629 965.2,1630.9 966.2,1630 967.2,1631.2 968.2,1632.3 969.2,1632.4 970.2,1633.1 971.2,1634 972.2,1633.2 973.2,1633.5 974.2,1635 975.2,1635.8 976.2,1635.1 977.2,1632.7 978.2,1633.2 979.2,1633.2 980.2,1631.7 981.2,1632.3 982.2,1630.5 983.2,1630.7 984.2,1631.2 985.2,1629.5 986.2,1631.8 987.2,1631.6 988.2,1632.5 989.2,1632 990.2,1633.5 991.2,1633.8 992.2,1635.1 993.2,1636.7 994.2,1635.6 995.2,1636.1 996.2,1636.1 997.2,1636.4 998.2,1636.6 999.2,1636.8 1000.2,1639.1 1001.2,1640.4 1002.2,1639.7 1003.2,1639 1004.2,1639.8 1005.2,1637.6 1006.2,1637.9 1007.2,1637.1 1008.2,1637.5 1009.2,1638.4 1010.2,1639.9 1011.2,1638.3 1012.2,1638.5 1013.2,1639.1 1014.2,1639 1015.2,1637.7 1016.2,1639.6 1017.2,1640.3 1018.2,1640.3 1019.2,1641.4 1020.2,1641 1021.2,1641.1 1022.2,1643.3 1023.2,1642.9 1024.2,1640.4 1025.2,1642 1026.2,1642.8 1027.2,1644.2 1028.2,1644.4 1029.2,1643.8 1030.2,1643.4 1031.2,1642.9 1032.2,1644.3 1033.2,1643.9 1034.2,1642.9 1035.2,1644.8 1036.2,1644.7 1037.2,1646.7 1038.2,1646.7 1039.2,1646.3 1040.2,1645.9 1041.2,1646.4 1042.2,1647.4 1043.2,1645.9 1044.2,1647.9 1045.2,1648.8 1046.2,1648.8 1047.2,1649.8 1048.2,1648.2 1049.2,1649.9 1050.2,1648.8 1051.2,1648.4 1052.2,1647.2 1053.2,1647.5 1054.2,1646.2 1055.2,1647.5 1056.2,1646.3 1057.2,1648.6 1058.2,1650.5 1059.2,1649.4 1060.2,1650 1061.2,1648.6 1062.2,1649.8 1063.2,1648.4 1064.2,1647.4 1065.2,1649.6 1066.2,1647.7 1067.2,1646.8 1068.2,1647.8 1069.2,1648.3 1070.2,1650.2 1071.2,1649 1072.2,1650.4 1073.2,1649.1 1074.2,1646.9 1075.2,1647.3 1076.2,1648.8 1077.2,1647.7 1078.2,1648.6 1079.2,1648.5 1080.2,1648.5 1081.2,1649.8 1082.2,1651.1 1083.2,1652.5 1084.2,1654.2 1085.2,1653.7 1086.2,1654.5 1087.2,1653.4 1088.2,1655.3 1089.2,1655.2 1090.2,1657 1091.2,1656.2 1092.2,1657.9 1093.2,1659.8 1094.2,1660.3 1095.2,1657.9 1096.3,1658.8 1097.3,1660.1 1098.3,1660.4 1099.3,1659.1 1100.3,1660 1101.3,1659.3 1102.3,1659.9 1103.3,1659.3 1104.3,1658.7 1105.3,1658.2 1106.3,1659.4 1107.3,1659.1 1108.3,1658.1 1109.3,1660 1110.3,1659.3 1111.3,1658.9 1112.3,1661.9 1113.3,1662.4 1114.3,1663.8 1115.3,1662.2 1116.3,1663.4 1117.3,1662.6 1118.3,1663 1119.3,1660.5 1120.3,1660.4 1121.3,1661.1 1122.3,1662.1 1123.3,1659.3 1124.3,1658.2 1125.3,1659.4 1126.3,1660.2 1127.3,1661.3 1128.3,1657.3 1129.3,1656.9 1130.3,1656.7 1131.3,1657.2 1132.3,1656.9 1133.3,1667.3 1134.3,1678.9 1135.3,1678 1136.3,1676.1 1137.3,1675.4 1138.3,1672 1139.3,1671.4 1140.3,1667.7 1141.3,1668.8 1142.3,1665.8 1143.3,1663.8 1144.3,1664.2 1145.3,1662.6 1146.3,1664.9 1147.3,1663.6 1148.3,1665.5 1149.3,1665.5 1150.3,1665.3 1151.3,1665 1152.3,1664.5 1153.3,1662.1 1154.3,1662.1 1155.3,1663.2 1156.3,1662.2 1157.3,1660.8 1158.3,1659.9 1159.3,1661.3 1160.3,1659.5 1161.3,1658.3 1162.3,1661.1 1163.3,1661.8 1164.3,1664.3 1165.3,1662.3 1166.3,1660.9 1167.3,1661.5 1168.3,1664.4 1169.3,1663.9 1170.3,1664.3 1171.3,1666.1 1172.3,1667.9 1173.3,1669.2 1174.3,1671 1175.3,1674.4 1176.3,1675.7 1177.3,1672.9 1178.3,1678.3 1179.3,1679.3 1180.3,1682.6 1181.3,1682.7 1182.3,1685.6 1183.3,1687.4 1184.3,1684.9 1185.3,1672 1186.3,1662.4 1187.3,1662.2 1188.3,1665.7 1189.3,1669.5 1190.3,1670.8 1191.3,1672 1192.3,1675.3 1193.3,1677.5 1194.3,1677.7 1195.3,1678.2 1196.3,1679.5 1197.3,1676.6 1198.3,1675.8 1199.3,1673.9 1200.3,1675.1 1201.3,1675.1 1202.3,1672.6 1203.3,1673.7 1204.3,1673.3 1205.3,1675 1206.3,1674.4 1207.3,1674.5 1208.3,1676.7 1209.3,1675.4 1210.3,1675.7 1211.3,1676.6 1212.3,1676.2 1213.3,1676 1214.3,1677 1215.3,1676.6 1216.3,1676.1 1217.3,1678.8 1218.3,1677.4 1219.3,1678.8 1220.3,1680.1 1221.3,1682.2 1222.3,1683.1 1223.3,1683 1224.3,1683.9 1225.3,1682 1226.3,1683 1227.3,1683.2 1228.3,1683.2 1229.3,1682.8 1230.3,1679.6 1231.3,1682.2 1232.3,1678.5 1233.3,1679.6 1234.3,1678.5 1235.3,1677.7 1236.3,1678.1 1237.3,1676.8 1238.3,1678.9 1239.3,1681.1 1240.3,1680.5 1241.3,1682 1242.3,1682.3 1243.3,1684.8 1244.3,1683.4 1245.3,1681.8 1246.3,1681.9 1247.3,1681.3 1248.3,1679.5 1249.3,1679.6 1250.3,1680 1251.3,1680.6 1252.3,1682.4 1253.3,1682.6 1254.3,1682.6 1255.3,1683 1256.3,1681.1 1257.3,1680.3 1258.3,1682.6 1259.3,1681.5 1260.3,1682.4 1261.3,1684.1 1262.3,1684.6 1263.3,1687.4 1264.3,1688.2 1265.3,1688.5 1266.3,1688.9 1267.3,1687.4 1268.3,1686.6 1269.3,1689.3 1270.3,1689 1271.3,1690.1 1272.3,1689.3 1273.3,1689.4 1274.3,1690.6 1275.3,1690.3 1276.3,1688.1 1277.3,1686.1 1278.3,1684.9 1279.3,1682.7 1280.3,1682.2 1281.3,1683.3 1282.3,1683 1283.3,1684 1284.3,1684 1285.3,1682.3 1286.3,1675.1 1287.3,1671.7 1288.3,1675.4 1289.3,1678.2 1290.3,1680.2 1291.3,1681.1 1292.3,1683 1293.3,1683.7 1294.3,1683.7 1295.3,1686 1296.3,1685.5 1297.3,1688.3 1298.3,1688.6 1299.3,1688.4 1300.3,1687.4 1301.3,1686.5 1302.3,1686.8 1303.3,1685.5 1304.3,1686.3 1305.3,1684.1 1306.3,1683.3 1307.3,1686.2 1308.3,1687.7 1309.3,1689.4 1310.3,1690.7 1311.3,1688.9 1312.3,1690.2 1313.3,1691.3 1314.3,1692.2 1315.3,1690.2 1316.3,1692 1317.3,1692.3 1318.3,1690.9 1319.3,1691.5 1320.3,1693.2 1321.3,1693.3 1322.3,1695.2 1323.3,1695.7 1324.3,1695.4 1325.3,1696.3 1326.3,1694.6 1327.3,1690.8 1328.3,1684.5 1329.3,1680.6 1330.3,1682.3 1331.3,1682 1332.3,1683.7 1333.3,1685.2 1334.3,1685 1335.3,1684.6 1336.3,1685.4 1337.3,1686.7 1338.3,1686 1339.3,1686.5 1340.3,1688.5 1341.3,1687.9 1342.3,1686.8 1343.3,1688.8 1344.3,1691.5 1345.3,1692.1 1346.3,1694.5 1347.3,1695.5 1348.3,1697.2 1349.3,1696.7 1350.3,1698.9 1351.3,1701.1 1352.3,1699.8 1353.3,1702.1 1354.3,1702 1355.3,1701.4 1356.3,1700.2 1357.3,1699.6 1358.3,1700.3 1359.3,1700.6 1360.3,1699.7 1361.3,1699.2 1362.3,1698.5 1363.3,1698.5 1364.3,1697.9 1365.3,1697.6 1366.3,1698.9 1367.3,1699.3 1368.3,1700.2 1369.3,1700.6 1370.3,1701.8 1371.3,1701.1 1372.3,1702.9 1373.3,1701.5 1374.3,1701.8 1375.3,1702.3 1376.3,1701.9 1377.3,1702.1 1378.3,1699.5 1379.3,1698.3 1380.3,1700.4 1381.3,1700.1 1382.3,1699.4 1383.3,1697.3 1384.3,1696.3 1385.3,1695.9 1386.3,1695.4 1387.3,1696.7 1388.3,1698.8 1389.3,1698.7 1390.3,1700.9 1391.3,1698.5 1392.3,1699.9 1393.3,1701.1 1394.3,1700.3 1395.3,1701.5 1396.3,1702.5 1397.3,1703.6 1398.3,1706.5 1399.3,1706.3 1400.3,1707.2 1401.3,1707.7 1402.3,1710.7 1403.3,1710.4 1404.3,1707.3 1405.3,1706.2 1406.3,1706 1407.3,1705.7 1408.3,1703.5 1409.3,1703 1410.3,1703.4 1411.3,1700.6 1412.3,1699.5 1413.3,1700.4 1414.3,1699.3 1415.3,1698.4 1416.3,1699.3 1417.3,1698.4 1418.3,1698 1419.3,1697.4 1420.3,1699.2 1421.3,1698.4 1422.3,1699.8 1423.3,1701.2 1424.3,1701.5 1425.3,1703.4 1426.3,1703.1 1427.3,1702.6 1428.3,1703 1429.3,1703.1 1430.3,1703.9 1431.3,1704.5 1432.3,1704.3 1433.3,1705.3 1434.3,1705.5 1435.3,1704.6 1436.3,1703.9 1437.3,1705.5 1438.3,1705.4 1439.3,1703.7 1440.4,1704.3 1441.4,1702.9 1442.4,1700.4 1443.4,1700.5 1444.4,1702.6 1445.4,1702.8 1446.4,1703.9 1447.4,1705 1448.4,1707.4 1449.4,1707.9 1450.4,1708.4 1451.4,1706.6 1452.4,1707.1 1453.4,1705.3 1454.4,1707.2 1455.4,1707.2 1456.4,1705.8 1457.4,1705.3 1458.4,1706.5 1459.4,1705.5 1460.4,1707.5 1461.4,1714.7 1462.4,1719.7 1463.4,1720.2 1464.4,1717.2 1465.4,1718.1 1466.4,1715.7 1467.4,1716 1468.4,1716.3 1469.4,1716.4 1470.4,1713.9 1471.4,1712 1472.4,1713.1 1473.4,1711.2 1474.4,1708.7 1475.4,1707.3 1476.4,1706.7 1477.4,1706.1 1478.4,1705.7 1479.4,1703.4 1480.4,1706 1481.4,1703.8 1482.4,1703.7 1483.4,1704.6 1484.4,1703.8 1485.4,1705.9 1486.4,1705.2 1487.4,1703.3 1488.4,1701.9 1489.4,1701.2 1490.4,1701.9 1491.4,1703.6 1492.4,1702.8 1493.4,1705.4 1494.4,1705.1 1495.4,1707 1496.4,1709.5 1497.4,1705.9 1498.4,1704.6 1499.4,1704.3 1500.4,1701.8 1501.4,1699.4 1502.4,1698 1503.4,1694.9 1504.4,1692.8 1505.4,1689.5 1506.4,1687.3 1507.4,1689 1508.4,1686 1509.4,1685.2 1510.4,1685.9 1511.4,1684.7 1512.4,1682.8 1513.4,1683 1514.4,1684.2 1515.4,1684.8 1516.4,1687.2 1517.4,1687.7 1518.4,1703.1 1519.4,1702.7 1520.4,1702.7 1521.4,1703.2 1522.4,1702.3 1523.4,1699.5 1524.4,1701.2 1525.4,1698.2 1526.4,1696.3 1527.4,1696.9 1528.4,1694.9 1529.4,1693.7 1530.4,1693.8 1531.4,1692 1532.4,1690.9 1533.4,1690.8 1534.4,1690.5 1535.4,1689.2 1536.4,1687.4 1537.4,1690.4 1538.4,1697 1539.4,1702.8 1540.4,1701.7 1541.4,1700.8 1542.4,1700.4 1543.4,1698.3 1544.4,1698.3 1545.4,1698.5 1546.4,1697.3 1547.4,1697.8 1548.4,1698.5 1549.4,1696.8 1550.4,1698.1 1551.4,1698.1 1552.4,1698.7 1553.4,1697 1554.4,1695.9 1555.4,1695.5 1556.4,1694.4 1557.4,1692.9 1558.4,1693.4 1559.4,1693.1 1560.4,1691 1561.4,1691.2 1562.4,1691.9 1563.4,1688.7 1564.4,1689.3 1565.4,1689.6 1566.4,1692.1 1567.4,1695.8 1568.4,1694.6 1569.4,1693.7 1570.4,1693 1571.4,1692.9 1572.4,1693.1 1573.4,1690.5 1574.4,1690.5 1575.4,1689.3 1576.4,1690.2 1577.4,1689.9 1578.4,1688.9 1579.4,1688.2 1580.4,1689.1 1581.4,1689.7 1582.4,1688.6 1583.4,1690.7 1584.4,1691.9 1585.4,1691.7 1586.4,1689.5 1587.4,1689.7 1588.4,1690.3 1589.4,1688.6 1590.4,1688.4 1591.4,1688.6 1592.4,1689.1 1593.4,1689.4 1594.4,1691.4 1595.4,1690.3 1596.4,1692.4 1597.4,1691.6 1598.4,1692.8 1599.4,1691.1 1600.4,1692.1 1601.4,1693.1 1602.4,1692.9 1603.4,1688.7 1604.4,1688.7 1605.4,1686.5 1606.4,1684.9 1607.4,1684.9 1608.4,1683.2 1609.4,1683 1610.4,1682.3 1611.4,1682.6 1612.4,1682 1613.4,1682 1614.4,1682.6 1615.4,1683.9 1616.4,1685.2 1617.4,1687 1618.4,1686.4 1619.4,1687.7 1620.4,1686.9 1621.4,1686.1 1622.4,1688.1 1623.4,1687.9 1624.4,1689.6 1625.4,1689.9 1626.4,1688.8 1627.4,1689.7 1628.4,1692.7 1629.4,1690.6 1630.4,1689.7 1631.4,1689.8 1632.4,1689 1633.4,1689.2 1634.4,1689.4 1635.4,1685.5 1636.4,1687.7 1637.4,1685.6 1638.4,1685.8 1639.4,1687.6 1640.4,1686.5 1641.4,1684.8 1642.4,1686.1 1643.4,1684.6 1644.4,1684.4 1645.4,1684.3 1646.4,1686.3 1647.4,1688.7 1648.4,1690 1649.4,1690.4 1650.4,1691.1 1651.4,1691.7 1652.4,1691.9 1653.4,1693.2 1654.4,1696.3 1655.4,1694.3 1656.4,1693.3 1657.4,1692.9 1658.4,1694.2 1659.4,1694.9 1660.4,1694.5 1661.4,1694.9 1662.4,1694.7 1663.4,1694.6 1664.4,1696.5 1665.4,1692.9 1666.4,1686.1 1667.4,1685 1668.4,1685.1 1669.4,1686.1 1670.4,1684.8 1671.4,1682.3 1672.4,1684.4 1673.4,1684.5 1674.4,1685.7 1675.4,1684 1676.4,1684 1677.4,1685.5 1678.4,1683.3 1679.4,1684.6 1680.4,1684.5 1681.4,1684.4 1682.4,1683.5 1683.4,1684.6 1684.4,1685.1 1685.4,1684.1 1686.4,1683.2 1687.4,1681.6 1688.4,1683.4 1689.4,1683 1690.4,1683 1691.4,1680.3 1692.4,1682.5 1693.4,1682 1694.4,1683.9 1695.4,1684.5 1696.4,1684 1697.4,1685.7 1698.4,1687.4 1699.4,1686.6 1700.4,1684.7 1701.4,1681.8 1702.4,1680.7 1703.4,1679.4 1704.4,1679.6 1705.4,1679 1706.4,1677.2 1707.4,1676 1708.4,1674.3 1709.4,1675.3 1710.4,1674.4 1711.4,1672.4 1712.4,1672.2 1713.4,1672.8 1714.4,1671.4 1715.4,1673.8 1716.4,1672.9 1717.4,1671.3 1718.4,1671.6 1719.4,1673.7 1720.4,1671.3 1721.4,1671.8 1722.4,1670.1 1723.4,1670.3 1724.4,1669.2 1725.4,1668 1726.4,1668.3 1727.4,1666.5 1728.4,1665.3 1729.4,1663.1 1730.4,1665.7 1731.4,1664.9 1732.4,1664.7 1733.4,1663.3 1734.4,1664.5 1735.4,1664.8 1736.4,1665.3 1737.4,1665.9 1738.4,1663 1739.4,1661.1 1740.4,1662.8 1741.4,1661 1742.4,1659.1 1743.4,1659.3 1744.4,1657.6 1745.4,1653.3 1746.4,1669.1 1747.4,1674.4 1748.4,1674 1749.4,1672.3 1750.4,1672.5 1751.4,1668.4 1752.4,1666.9 1753.4,1665.5 1754.4,1664.4 1755.4,1665.4 1756.4,1664.6 1757.4,1660.9 1758.4,1660.3 1759.4,1657.5 1760.4,1656.2 1761.4,1656.4 1762.4,1654.7 1763.4,1657.2 1764.4,1657.9 1765.4,1659.1 1766.4,1660.5 1767.4,1661.1 1768.4,1658.1 1769.4,1655.2 1770.4,1653.2 1771.4,1651.4 1772.4,1649.2 1773.4,1650.6 1774.4,1651.9 1775.4,1650.7 1776.4,1650.6 1777.4,1653.5 1778.4,1654.3 1779.4,1654.6 1780.4,1655 1781.4,1652.7 1782.4,1651.1 1783.5,1651.2 1784.5,1648 1785.5,1649.1 1786.5,1647.4 1787.5,1647.8 1788.5,1648.8 1789.5,1649.8 1790.5,1649.4 1791.5,1651.6 1792.5,1650.7 1793.5,1651.3 1794.5,1651.9 1795.5,1653.3 1796.5,1652.6 1797.5,1653.6 1798.5,1652.2 1799.5,1649.9 1800.5,1650 1801.5,1650.9 1802.5,1650.2 1803.5,1652 1804.5,1654.3 1805.5,1655.4 1806.5,1658.1 1807.5,1659 1808.5,1660.7 1809.5,1662.1 1810.5,1662.5 1811.5,1664.6 1812.5,1657.4 1813.5,1640.7 1814.5,1633.1 1815.5,1636.7 1816.5,1638.2 1817.5,1636.5 1818.5,1638.6 1819.5,1638.5 1820.5,1640.9 1821.5,1641.4 1822.5,1641.5 1823.5,1644.2 1824.5,1644.8 1825.5,1644.1 1826.5,1645.1 1827.5,1646.3 1828.5,1646.6 1829.5,1645.3 1830.5,1645.3 1831.5,1642.7 1832.5,1642.4 1833.5,1641.8 1834.5,1642.1 1835.5,1641.1 1836.5,1638.8 1837.5,1637.1 1838.5,1636.6 1839.5,1637.8 1840.5,1637.9 1841.5,1637.1 1842.5,1632 1843.5,1632.6 1844.5,1633.3 1845.5,1632.8 1846.5,1632.2 1847.5,1631.1 1848.5,1631.2 1849.5,1632.2 1850.5,1630.7 1851.5,1630.5 1852.5,1630.3 1853.5,1631.8 1854.5,1629 1855.5,1630.7 1856.5,1632.2 1857.5,1630.8 1858.5,1631.9 1859.5,1631.9 1860.5,1632.9 1861.5,1633 1862.5,1634.9 1863.5,1633.9 1864.5,1633.8 1865.5,1632 1866.5,1631.4 1867.5,1632.3 1868.5,1631.9 1869.5,1632.6 1870.5,1631.6 1871.5,1632.6 1872.5,1633 1873.5,1630.8 1874.5,1633.4 1875.5,1632.2 1876.5,1632.8 1877.5,1632.9 1878.5,1633 1879.5,1630.6 1880.5,1630.6 1881.5,1629.9 1882.5,1630 1883.5,1630.5 1884.5,1630.5 1885.5,1629.3 1886.5,1628.1 1887.5,1626.8 1888.5,1627.7 1889.5,1627.2 1890.5,1626.5 1891.5,1626 1892.5,1624.1 1893.5,1624.1 1894.5,1622.7 1895.5,1625.2 1896.5,1623.7 1897.5,1622.2 1898.5,1623 1899.5,1622.1 1900.5,1622.6 1901.5,1625.1 1902.5,1624.6 1903.5,1625.5 1904.5,1625.8 1905.5,1625.8 1906.5,1625.4 1907.5,1627.6 1908.5,1626.2 1909.5,1627.5 1910.5,1627.3 1911.5,1626.9 1912.5,1624 1913.5,1624.4 1914.5,1628.6 1915.5,1629.2 1916.5,1627.5 1917.5,1628.4 1918.5,1629.1 1919.5,1627.9 1920.5,1630.5 1921.5,1627.7 1922.5,1627.3 1923.5,1624.6 1924.5,1627.2 1925.5,1625 1926.5,1624.6 1927.5,1620.2 1928.5,1621.1 1929.5,1621 1930.5,1620.3 1931.5,1621.7 1932.5,1621.4 1933.5,1620.6 1934.5,1620.3 1935.5,1621.5 1936.5,1621.7 1937.5,1622.6 1938.5,1625 1939.5,1626.5 1940.5,1625 1941.5,1624.8 1942.5,1624.5 1943.5,1621 1944.5,1620.8 1945.5,1620.3 1946.5,1617.6 1947.5,1618.1 1948.5,1616 1949.5,1616.7 1950.5,1616.3 1951.5,1616.7 1952.5,1616.2 1953.5,1615.6 1954.5,1614.7 1955.5,1610.7 1956.5,1612.2 1957.5,1613.2 1958.5,1618.7 1959.5,1621.6 1960.5,1621.7 1961.5,1619.9 1962.5,1619.2 1963.5,1617.8 1964.5,1617.9 1965.5,1615.8 1966.5,1616.6 1967.5,1616.7 1968.5,1615.7 1969.5,1616.5 1970.5,1615.8 1971.5,1615.2 1972.5,1616.6 1973.5,1616.2 1974.5,1615.6 1975.5,1616.1 1976.5,1618.6 1977.5,1616.5 1978.5,1615.5 1979.5,1614.2 1980.5,1615.3 1981.5,1612.9 1982.5,1610.9 1983.5,1609.7 1984.5,1610.3 1985.5,1609.7 1986.5,1606.9 1987.5,1606.7 1988.5,1606.8 1989.5,1606.1 1990.5,1604.8 1991.5,1606.8 1992.5,1608.3 1993.5,1607.8 1994.5,1609.3 1995.5,1611 1996.5,1610.9 1997.5,1611.4 1998.5,1611 1999.5,1609.1 2000.5,1609.6 2001.5,1609.9 2002.5,1608.9 2003.5,1608.8 2004.5,1607.2 2005.5,1609.2 2006.5,1607.4 2007.5,1610.3 2008.5,1608.3 2009.5,1606.7 2010.5,1605.4 2011.5,1605.2 2012.5,1605.3 2013.5,1605.9 2014.5,1606.3 2015.5,1606.9 2016.5,1606.9 2017.5,1605.2 2018.5,1606.6 2019.5,1605.9 2020.5,1606.5 2021.5,1606.5 2022.5,1608.1 2023.5,1606.2 2024.5,1606.3 2025.5,1608.8 2026.5,1609.6 2027.5,1610 2028.5,1608.3 2029.5,1608.8 2030.5,1608.1 2031.5,1607.5 2032.5,1606.5 2033.5,1607.4 2034.5,1605.3 2035.5,1604.6 2036.5,1606.9 2037.5,1605.2 2038.5,1603.3 2039.5,1603.6 2040.5,1604.8 2041.5,1603.1 2042.5,1604.3 2043.5,1602.9 2044.5,1602 2045.5,1601.3 2046.5,1599.9 2047.5,1599.4 2048.5,1600.6 2049.5,1602.1 2050.5,1603.7 2051.5,1604.9 2052.5,1605.4 2053.5,1606.2 2054.5,1605.4 2055.5,1607.4 2056.5,1608.5 2057.5,1608.4 2058.5,1608.9 2059.5,1610.3 2060.5,1610 2061.5,1608.8 2062.5,1607.3 2063.5,1606.1 2064.5,1605.2 2065.5,1606.3 2066.5,1605.9 2067.5,1603.1 2068.5,1603 2069.5,1603.2 2070.5,1603.6 2071.5,1602.2 2072.5,1601.1 2073.5,1600.4 2074.5,1602.2 2075.5,1601.8 2076.5,1604.9 2077.5,1605.1 2078.5,1604.8 2079.5,1605.3 2080.5,1606.2 2081.5,1606.1 2082.5,1605.4 2083.5,1605.1 2084.5,1603.6 2085.5,1604.6 2086.5,1604.5 2087.5,1602.9 2088.5,1605 2089.5,1603 2090.5,1604.8 2091.5,1604.9 2092.5,1604.4 2093.5,1604.8 2094.5,1601.9 2095.5,1602.5 2096.5,1603 2097.5,1603 2098.5,1603 2099.5,1603.4 2100.5,1605.7 2101.5,1604 2102.5,1603.9 2103.5,1605.9 2104.5,1607 2105.5,1601.2 2106.5,1590.9 2107.5,1588.2 2108.5,1589.3 2109.5,1589.5 2110.5,1590.7 2111.5,1593.2 2112.5,1593.8 2113.5,1593.8 2114.5,1595.2 2115.5,1597.4 2116.5,1601.4 2117.5,1599.8 2118.5,1602.3 2119.5,1601.2 2120.5,1602.3 2121.5,1602.3 2122.5,1604.6 2123.5,1603.5 2124.5,1605.2 2125.5,1601.6 2126.6,1602.6 2127.6,1604.9 2128.6,1604.1 2129.6,1602.9 2130.6,1602.2 2131.6,1605.9 2132.6,1604.9 2133.6,1604.6 2134.6,1604.4 2135.6,1606.4 2136.6,1606.4 2137.6,1608.4 2138.6,1609.4 2139.6,1610.8 2140.6,1609.1 2141.6,1608.5 2142.6,1609.1 2143.6,1608.6 2144.6,1608.5 2145.6,1607.6 2146.6,1607.8 2147.6,1605.9 2148.6,1606 2149.6,1606.3 2150.6,1604.1 2151.6,1602.4 2152.6,1601.5 2153.6,1602 2154.6,1599.4 2155.6,1597.5 2156.6,1597.2 2157.6,1595.7 2158.6,1596.6 2159.6,1594.8 2160.6,1598.2 2161.6,1596.2 2162.6,1596.8 2163.6,1597.7 2164.6,1598.7 2165.6,1601.6 2166.6,1603.3 2167.6,1605 2168.6,1607.7 2169.6,1606.9 2170.6,1608.8 2171.6,1610.9 2172.6,1610.2 2173.6,1610.3 2174.6,1610.1 2175.6,1610.3 2176.6,1610.2 2177.6,1609.2 2178.6,1611.5 2179.6,1611.3 2180.6,1613 2181.6,1612.7 2182.6,1614 2183.6,1614.1 2184.6,1613.2 2185.6,1612.2 2186.6,1611.6 2187.6,1611.9 2188.6,1611.8 2189.6,1611.4 2190.6,1611.7 2191.6,1613 2192.6,1610.5 2193.6,1613.5 2194.6,1613.5 2195.6,1616.3 2196.6,1615.8 2197.6,1617.4 2198.6,1617.5 2199.6,1619 2200.6,1620.3 2201.6,1622.7 2202.6,1620.4 2203.6,1619.8 2204.6,1622.3 2205.6,1618.4 2206.6,1616.7 2207.6,1616.6 2208.6,1612.3 2209.6,1614.5 2210.6,1612.9 2211.6,1611.2 2212.6,1613 2213.6,1610.7 2214.6,1609.4 2215.6,1611.6 2216.6,1612.3 2217.6,1610.2 2218.6,1609.5 2219.6,1609.7 2220.6,1610.6 2221.6,1611.7 2222.6,1610.9 2223.6,1610.2 2224.6,1610.7 2225.6,1610.7 2226.6,1611.5 2227.6,1610.1 2228.6,1612.1 2229.6,1611.6 2230.6,1614.6 2231.6,1615.9 2232.6,1614.9 2233.6,1618.2 2234.6,1617.1 2235.6,1616.7 2236.6,1617.2 2237.6,1616.8 2238.6,1617.8 2239.6,1617 2240.6,1618.3 2241.6,1617.9 2242.6,1617.4 2243.6,1619.9 2244.6,1618.9 2245.6,1618.4 2246.6,1620.7 2247.6,1621 2248.6,1622.5 2249.6,1620.7 2250.6,1622 2251.6,1620.2 2252.6,1620 2253.6,1620.5 2254.6,1621.9 2255.6,1622 2256.6,1619.9 2257.6,1618.3 2258.6,1620.4 2259.6,1621.5 2260.6,1623.1 2261.6,1624.6 2262.6,1624.9 2263.6,1627.1 2264.6,1627.5 2265.6,1629.3 2266.6,1630.8 2267.6,1631.1 2268.6,1631.2 2269.6,1631.2 2270.6,1629.8 2271.6,1630.6 2272.6,1631.9 2273.6,1632.3 2274.6,1630.7 2275.6,1630.9 2276.6,1631.1 2277.6,1630.8 2278.6,1628.3 2279.6,1628.7 2280.6,1628.7 2281.6,1629.4 2282.6,1629.9 2283.6,1630.4 2284.6,1631.3 2285.6,1630.9 2286.6,1630.5 2287.6,1631.4 2288.6,1631.7 2289.6,1632.1 2290.6,1631.9 2291.6,1632.8 2292.6,1632.6 2293.6,1629.4 2294.6,1629.5 2295.6,1630.1 2296.6,1629.6 2297.6,1628"/>
<path class="c" stroke="#f27d0a" d="M238,1583.8 239,1585.8 240,1589 241,1588.4 242,1586.4 243,1587.8 244,1587.4 245,1588.4 246,1587.1 247,1588.4 248,1587.8 249,1588.7 250,1587.7 251,1588.5 252,1586.8 253,1589.9 254,1586.6 255,1590.5 256,1590.4 257,1590.4 258,1590.8 259,1590.9 260,1592.5 261,1592.1 262,1593.3 263,1591.6 264,1594.2 265,1594.2 266,1596.2 267,1594.7 268,1597.4 269,1598.5 270,1597.8 271,1600.4 272,1599.4 273,1600 274,1600.7 275,1599.4 276,1599.6 277,1601.1 278,1603 279,1603.6 280,1602.8 281,1602.8 282,1602.2 283,1601.9 284,1602.4 285,1603.1 286,1605.2 287,1603.6 288,1604.4 289,1604.3 290,1602.2 291,1603.2 292,1604.9 293,1606.7 294,1605 295,1607.3 296,1606.2 297,1607.6 298,1609.1 299,1609.3 300,1609.8 301,1609 302,1608.4 303,1608.7 304,1608 305,1610.4 306,1608.5 307,1607.5 308,1610.8 309,1609.2 310,1608.1 311,1610.8 312,1608.9 313,1609.4 314,1607.4 315,1607.8 316,1606.2 317,1606 318,1606.5 319,1606.8 320,1607.4 321,1609.4 322,1606.8 323,1609.2 324,1608.2 325,1609.5 326,1609.4 327,1609.6 328,1610.1 329,1610.1 330,1612.1 331,1612.5 332,1615.1 333,1614.3 334,1614.2 335,1616 336,1616.5 337,1616.1 338,1616.4 339,1617.3 340,1619.4 341,1619.8 342,1619.2 343,1619.3 344,1618.9 345,1620.4 346,1619 347,1621.7 348,1621 349,1621.4 350,1622.5 351,1614.4 352,1606 353,1608.3 354,1608.2 355,1608.1 356,1610.9 357,1609.8 358,1613.3 359,1612.4 360,1613.5 361,1616.2 362,1616 363,1614.2 364,1615.3 365,1617.2 366,1619.3 367,1619.8 368,1621.8 369,1623.7 370,1624.3 371,1625.6 372,1626 373,1625 374,1625.7 375,1624.7 376,1628 377,1631.6 378,1631 379,1633.4 380,1633.7 381,1635 382,1637.4 383,1636.6 384,1634.9 385,1635 386,1634 387,1633.2 388,1633.6 389,1632.3 390,1632.1 391,1629.4 392,1629.6 393,1628.4 394,1626 395,1625.3 396,1624.9 397,1623.4 398,1622.3 399,1622.7 400,1625.1 401,1625.1 402,1626.4 403,1626 404,1624.7 405,1628.9 406,1632.8 407,1632.2 408,1633.1 409,1633.4 410.1,1635.5 411.1,1635.5 412.1,1635.7 413.1,1636 414.1,1637.5 415.1,1636.7 416.1,1635.2 417.1,1637.8 418.1,1636.6 419.1,1635.3 420.1,1636.4 421.1,1635.8 422.1,1632.9 423.1,1636.5 424.1,1635.8 425.1,1634.7 426.1,1634.6 427.1,1635.8 428.1,1635 429.1,1636.4 430.1,1636.2 431.1,1637.7 432.1,1638.4 433.1,1639 434.1,1641.1 435.1,1641.7 436.1,1641 437.1,1640.6 438.1,1640 439.1,1641.1 440.1,1642.1 441.1,1640.2 442.1,1643 443.1,1640.4 444.1,1642.3 445.1,1643 446.1,1641.6 447.1,1641.9 448.1,1643.3 449.1,1643.2 450.1,1641.5 451.1,1643.1 452.1,1641.8 453.1,1644.3 454.1,1643 455.1,1644.6 456.1,1645.9 457.1,1646.2 458.1,1648.2 459.1,1648.5 460.1,1647.1 461.1,1645.8 462.1,1644 463.1,1642.9 464.1,1642 465.1,1640.7 466.1,1639.7 467.1,1639.2 468.1,1640.6 469.1,1639.5 470.1,1640.6 471.1,1643.2 472.1,1643.4 473.1,1642.2 474.1,1644.4 475.1,1644.1 476.1,1645.1 477.1,1643.9 478.1,1646.7 479.1,1646.2 480.1,1647.8 481.1,1647.9 482.1,1647.4 483.1,1648.1 484.1,1649.5 485.1,1648 486.1,1648.8 487.1,1650.9 488.1,1652.5 489.1,1652.4 490.1,1652.9 491.1,1650.9 492.1,1652.3 493.1,1650.5 494.1,1651.2 495.1,1650.6 496.1,1651.4 497.1,1650.2 498.1,1649.3 499.1,1650.6 500.1,1650.5 501.1,1650.1 502.1,1651.5 503.1,1652.9 504.1,1657.3 505.1,1655.3 506.1,1656 507.1,1654.6 508.1,1653.8 509.1,1654.2 510.1,1654.3 511.1,1654.4 512.1,1652.1 513.1,1653.3 514.1,1653.9 515.1,1650.7 516.1,1651.3 517.1,1649 518.1,1649.3 519.1,1647.8 520.1,1647.6 521.1,1645.1 522.1,1645.8 523.1,1647.7 524.1,1647.8 525.1,1650.3 526.1,1649.3 527.1,1649 528.1,1651 529.1,1653.4 530.1,1656.4 531.1,1657 532.1,1660 533.1,1661.5 534.1,1663.3 535.1,1663.1 536.1,1660 537.1,1663 538.1,1660.6 539.1,1657.9 540.1,1643.8 541.1,1641.6 542.1,1643.3 543.1,1643 544.1,1644.9 545.1,1646 546.1,1646.5 547.1,1647.1 548.1,1646.7 549.1,1645.1 550.1,1646.9 551.1,1644.3 552.1,1645.8 553.1,1644.6 554.1,1644.7 555.1,1644.4 556.1,1645.5 557.1,1643.4 558.1,1643.7 559.1,1644.3 560.1,1641.9 561.1,1642.8 562.1,1643.8 563.1,1642.8 564.1,1643.5 565.1,1641.5 566.1,1641.7 567.1,1640.8 568.1,1639.7 569.1,1641 570.1,1639.3 571.1,1639.5 572.1,1639.1 573.1,1638.7 574.1,1637.7 575.1,1638.1 576.1,1639.1 577.1,1636.3 578.1,1636.7 579.1,1638.8 580.1,1638 581.1,1638 582.1,1639.6 583.1,1639.1 584.1,1639.6 585.1,1640.9 586.1,1643.8 587.1,1642.7 588.1,1641.2 589.1,1643.6 590.1,1643.2 591.1,1645.5 592.1,1645 593.1,1644.2 594.1,1643.5 595.1,1641.2 596.1,1643.3 597.1,1643.2 598.1,1643.2 599.1,1643.9 600.1,1642.4 601.1,1641.6 602.1,1641.6 603.1,1642.7 604.1,1646.8 605.1,1643.9 606.1,1643.2 607.1,1644.7 608.1,1642.1 609.1,1645.5 610.1,1646.2 611.1,1645.9 612.1,1646.9 613.1,1644.4 614.1,1646.5 615.1,1647.4 616.1,1644.6 617.1,1645.3 618.1,1646.2 619.1,1646.4 620.1,1646.1 621.1,1646.2 622.1,1645.7 623.1,1644.2 624.1,1644.1 625.1,1641.3 626.1,1639.7 627.1,1639.2 628.1,1641.8 629.1,1640.3 630.1,1641.7 631.1,1638.2 632.1,1638.4 633.1,1638 634.1,1637 635.1,1637.5 636.1,1636.5 637.1,1634.8 638.1,1632.9 639.1,1633.8 640.1,1635.6 641.1,1635.1 642.1,1636.7 643.1,1636.8 644.1,1637.5 645.1,1636.9 646.1,1638.7 647.1,1638.7 648.1,1639.3 649.1,1641.2 650.1,1639.4 651.1,1640.4 652.1,1638.4 653.1,1640.4 654.1,1638.4 655.1,1637.8 656.1,1637.2 657.1,1638.3 658.1,1637.2 659.1,1637.1 660.1,1636.1 661.1,1637.1 662.1,1636.1 663.1,1636.2 664.1,1636.8 665.1,1637.6 666.1,1636.5 667.1,1638.3 668.1,1639.2 669.1,1635.8 670.1,1638.2 671.1,1638.7 672.1,1636 673.1,1637 674.1,1635.2 675.1,1636.2 676.1,1635.2 677.1,1635.8 678.1,1634.8 679.1,1634.3 680.1,1633.6 681.1,1632.7 682.1,1632.2 683.1,1632.3 684.1,1631.1 685.1,1631.7 686.1,1632.4 687.1,1629.8 688.1,1631.3 689.1,1630.3 690.1,1630.2 691.1,1629.7 692.1,1631 693.1,1632.2 694.1,1633.1 695.1,1632.6 696.1,1634.9 697.1,1632.7 698.1,1633.8 699.1,1634.5 700.1,1633.1 701.1,1635.6 702.1,1635.9 703.1,1632.7 704.1,1634.1 705.1,1633.5 706.1,1633.1 707.1,1633.4 708.1,1633.6 709.1,1634.3 710.1,1634.1 711.1,1633.3 712.1,1634.2 713.1,1632.7 714.1,1631.6 715.1,1630.5 716.1,1633.2 717.1,1633.4 718.1,1630.6 719.1,1632.1 720.1,1633.9 721.1,1636.9 722.1,1639 723.1,1638.1 724.1,1638.2 725.1,1638.7 726.1,1637.7 727.1,1639.9 728.1,1640 729.1,1640.3 730.1,1638.9 731.1,1635.5 732.1,1634.2 733.1,1635.2 734.1,1634.8 735.1,1633.6 736.1,1634 737.1,1632.1 738.1,1630.8 739.1,1631.1 740.1,1630.8 741.1,1630.4 742.1,1630.7 743.1,1630.4 744.1,1631.9 745.1,1631.6 746.1,1630 747.1,1630.4 748.1,1629.4 749.1,1629.5 750.1,1627.9 751.1,1628.8 752.1,1627.7 753.2,1627.6 754.2,1629.4 755.2,1630.1 756.2,1627.9 757.2,1626.5 758.2,1627.6 759.2,1627.8 760.2,1627.7 761.2,1628.2 762.2,1628.2 763.2,1628.5 764.2,1630.5 765.2,1628.3 766.2,1627.8 767.2,1628.6 768.2,1627.7 769.2,1627.5 770.2,1627.3 771.2,1628.6 772.2,1628.9 773.2,1629.5 774.2,1630 775.2,1630.5 776.2,1632.6 777.2,1631.4 778.2,1631.5 779.2,1629.4 780.2,1628.7 781.2,1628 782.2,1629.4 783.2,1626.6 784.2,1630.5 785.2,1628.2 786.2,1628.2 787.2,1627.7 788.2,1625.8 789.2,1625.6 790.2,1625.2 791.2,1624.2 792.2,1623.6 793.2,1624 794.2,1622.8 795.2,1620.5 796.2,1623.7 797.2,1623.7 798.2,1621.8 799.2,1624 800.2,1627.5 801.2,1627.6 802.2,1627.1 803.2,1626.8 804.2,1627.2 805.2,1620.3 806.2,1613.7 807.2,1613.4 808.2,1613 809.2,1612.8 810.2,1611 811.2,1611.6 812.2,1611.2 813.2,1610.9 814.2,1608.8 815.2,1608.9 816.2,1607.1 817.2,1609.1 818.2,1609.4 819.2,1609.5 820.2,1612.1 821.2,1631.7 822.2,1631.2 823.2,1632.1 824.2,1630.5 825.2,1630.6 826.2,1630.2 827.2,1630.4 828.2,1628.3 829.2,1628.5 830.2,1628.1 831.2,1628.3 832.2,1627.4 833.2,1627.2 834.2,1626.3 835.2,1627.1 836.2,1626.1 837.2,1629.5 838.2,1628.1 839.2,1630.7 840.2,1629.8 841.2,1627.2 842.2,1628.6 843.2,1628.3 844.2,1626.9 845.2,1628.9 846.2,1628.2 847.2,1628.2 848.2,1627.4 849.2,1628.1 850.2,1628.2 851.2,1628 852.2,1626.8 853.2,1626.3 854.2,1625.8 855.2,1626.9 856.2,1624.4 857.2,1626.7 858.2,1623.9 859.2,1624.6 860.2,1625.5 861.2,1623.3 862.2,1626.5 863.2,1623.8 864.2,1624.7 865.2,1624.7 866.2,1625.4 867.2,1622.6 868.2,1620.9 869.2,1622.9 870.2,1620.4 871.2,1621.5 872.2,1620.1 873.2,1621.8 874.2,1620.9 875.2,1621.5 876.2,1621.4 877.2,1620.7 878.2,1620.5 879.2,1621.4 880.2,1619.7 881.2,1621.7 882.2,1622.4 883.2,1624 884.2,1624.3 885.2,1624 886.2,1625.7 887.2,1626.8 888.2,1628 889.2,1629.3 890.2,1629 891.2,1628.5 892.2,1628 893.2,1626.6 894.2,1623.9 895.2,1623.1 896.2,1624.1 897.2,1622.1 898.2,1622.8 899.2,1624.8 900.2,1622.8 901.2,1625.3 902.2,1626.3 903.2,1626.5 904.2,1628.4 905.2,1626.7 906.2,1627.3 907.2,1627.2 908.2,1629.5 909.2,1630.6 910.2,1630.1 911.2,1622.7 912.2,1617.4 913.2,1617.1 914.2,1616.1 915.2,1617.7 916.2,1617.3 917.2,1615.4 918.2,1616.1 919.2,1618.3 920.2,1617.2 921.2,1617.1 922.2,1617.4 923.2,1618.4 924.2,1618.5 925.2,1619.2 926.2,1619.1 927.2,1619.9 928.2,1620.5 929.2,1621.5 930.2,1624.3 931.2,1623.6 932.2,1627.1 933.2,1624.9 934.2,1626.1 935.2,1627.3 936.2,1625.5 937.2,1625.9 938.2,1626.5 939.2,1624.2 940.2,1627 941.2,1627.4 942.2,1628.8 943.2,1629.6 944.2,1628.8 945.2,1629.3 946.2,1629.7 947.2,1629.9 948.2,1629.9 949.2,1630.6 950.2,1627.7 951.2,1628.7 952.2,1630.2 953.2,1628.8 954.2,1626.5 955.2,1627.8 956.2,1629.7 957.2,1629.7 958.2,1630.1 959.2,1628.2 960.2,1629.2 961.2,1630.6 962.2,1630.6 963.2,1632 964.2,1632.3 965.2,1631.9 966.2,1630.8 967.2,1630.6 968.2,1630 969.2,1629.8 970.2,1629.2 971.2,1630.8 972.2,1629.4 973.2,1629.1 974.2,1628 975.2,1626.6 976.2,1628.7 977.2,1627.7 978.2,1627.8 979.2,1630.4 980.2,1628.8 981.2,1629.5 982.2,1630.3 983.2,1630.3 984.2,1626.8 985.2,1628.5 986.2,1630.1 987.2,1629.1 988.2,1627.2 989.2,1630.1 990.2,1629.6 991.2,1629.8 992.2,1629.8 993.2,1629.5 994.2,1629.5 995.2,1628.4 996.2,1627.9 997.2,1628.7 998.2,1628.2 999.2,1627.3 1000.2,1629.4 1001.2,1628.2 1002.2,1627.6 1003.2,1624.7 1004.2,1628.4 1005.2,1629.1 1006.2,1627.4 1007.2,1628 1008.2,1626.1 1009.2,1628.2 1010.2,1627.4 1011.2,1626.2 1012.2,1628 1013.2,1626.7 1014.2,1625.7 1015.2,1623.6 1016.2,1624.2 1017.2,1624.8 1018.2,1624.3 1019.2,1621.4 1020.2,1623.5 1021.2,1624 1022.2,1623.3 1023.2,1622.3 1024.2,1621.3 1025.2,1621.2 1026.2,1621.6 1027.2,1622 1028.2,1620.7 1029.2,1618.4 1030.2,1617.4 1031.2,1618.9 1032.2,1617.7 1033.2,1618.6 1034.2,1617 1035.2,1620.4 1036.2,1622.4 1037.2,1621.3 1038.2,1623.2 1039.2,1623 1040.2,1623.3 1041.2,1623.2 1042.2,1624.1 1043.2,1625.2 1044.2,1623.1 1045.2,1625.8 1046.2,1625.6 1047.2,1625.8 1048.2,1626.7 1049.2,1626.3 1050.2,1626.3 1051.2,1626.8 1052.2,1624.8 1053.2,1627.3 1054.2,1626.5 1055.2,1625.3 1056.2,1624 1057.2,1624.9 1058.2,1623.2 1059.2,1623.2 1060.2,1623.4 1061.2,1624.4 1062.2,1621.6 1063.2,1621.3 1064.2,1619.1 1065.2,1618.3 1066.2,1618.6 1067.2,1615.1 1068.2,1613.6 1069.2,1612.7 1070.2,1614.5 1071.2,1621.3 1072.2,1627.4 1073.2,1633.3 1074.2,1636.3 1075.2,1634.9 1076.2,1632.3 1077.2,1630.9 1078.2,1628.7 1079.2,1623.2 1080.2,1624.3 1081.2,1623.1 1082.2,1622.9 1083.2,1622.6 1084.2,1619.7 1085.2,1619.9 1086.2,1620.3 1087.2,1620.5 1088.2,1618.6 1089.2,1618.4 1090.2,1619.6 1091.2,1618 1092.2,1619.1 1093.2,1620.3 1094.2,1619.3 1095.2,1619.1 1096.3,1617.6 1097.3,1617.2 1098.3,1618.4 1099.3,1618.7 1100.3,1619.5 1101.3,1620.5 1102.3,1620.3 1103.3,1620.1 1104.3,1620.9 1105.3,1620.1 1106.3,1619.1 1107.3,1618.3 1108.3,1617.9 1109.3,1618.8 1110.3,1615.2 1111.3,1617 1112.3,1616.2 1113.3,1618.4 1114.3,1620.3 1115.3,1619.8 1116.3,1621.1 1117.3,1619.5 1118.3,1620.5 1119.3,1619.2 1120.3,1617.8 1121.3,1614.3 1122.3,1612.8 1123.3,1614.1 1124.3,1615.2 1125.3,1614.9 1126.3,1615.8 1127.3,1616.4 1128.3,1616.4 1129.3,1616 1130.3,1616.6 1131.3,1616.2 1132.3,1612.9 1133.3,1613.5 1134.3,1611 1135.3,1608.4 1136.3,1607.5 1137.3,1609.3 1138.3,1609.7 1139.3,1610.7 1140.3,1612.8 1141.3,1613.4 1142.3,1610.2 1143.3,1612.9 1144.3,1612.5 1145.3,1611.5 1146.3,1611 1147.3,1611.3 1148.3,1609.2 1149.3,1609 1150.3,1611.1 1151.3,1610.1 1152.3,1609.6 1153.3,1612.2 1154.3,1611.6 1155.3,1610.9 1156.3,1611.1 1157.3,1612.7 1158.3,1615 1159.3,1617.2 1160.3,1617.3 1161.3,1615.5 1162.3,1614 1163.3,1616.2 1164.3,1615.6 1165.3,1614.2 1166.3,1613.9 1167.3,1615.1 1168.3,1615.1 1169.3,1615.6 1170.3,1613.6 1171.3,1615.5 1172.3,1611.9 1173.3,1614.1 1174.3,1615.3 1175.3,1613.1 1176.3,1608.8 1177.3,1608.4 1178.3,1608.5 1179.3,1607.3 1180.3,1603.8 1181.3,1605.5 1182.3,1602.9 1183.3,1604.1 1184.3,1602.2 1185.3,1602.5 1186.3,1602.2 1187.3,1602.3 1188.3,1600.8 1189.3,1603.1 1190.3,1605.4 1191.3,1605.7 1192.3,1606.6 1193.3,1607.2 1194.3,1608.1 1195.3,1610.8 1196.3,1613 1197.3,1615.3 1198.3,1617.5 1199.3,1616.8 1200.3,1615.4 1201.3,1616 1202.3,1615.5 1203.3,1613.9 1204.3,1616.9 1205.3,1615.6 1206.3,1612 1207.3,1612.2 1208.3,1614 1209.3,1612.5 1210.3,1611.4 1211.3,1610.5 1212.3,1610 1213.3,1610.7 1214.3,1611.9 1215.3,1612.4 1216.3,1611.5 1217.3,1606.1 1218.3,1591.8 1219.3,1591 1220.3,1591.6 1221.3,1592.2 1222.3,1592.2 1223.3,1595 1224.3,1594.5 1225.3,1596.3 1226.3,1595.7 1227.3,1595.1 1228.3,1599.1 1229.3,1597.3 1230.3,1599.7 1231.3,1600.3 1232.3,1601.6 1233.3,1602.6 1234.3,1604.1 1235.3,1603.1 1236.3,1606.8 1237.3,1604 1238.3,1605.5 1239.3,1603.5 1240.3,1602.4 1241.3,1602.3 1242.3,1601.6 1243.3,1606.7 1244.3,1611.9 1245.3,1613.9 1246.3,1612.5 1247.3,1613.3 1248.3,1611.7 1249.3,1611.6 1250.3,1608.9 1251.3,1607.2 1252.3,1606.3 1253.3,1605 1254.3,1605.1 1255.3,1605.2 1256.3,1605.9 1257.3,1605 1258.3,1603.5 1259.3,1604 1260.3,1603.1 1261.3,1602.3 1262.3,1599.2 1263.3,1599.4 1264.3,1599.1 1265.3,1602.2 1266.3,1598.7 1267.3,1600.1 1268.3,1600 1269.3,1598.4 1270.3,1599.5 1271.3,1599.1 1272.3,1597.9 1273.3,1597.6 1274.3,1599.8 1275.3,1598.7 1276.3,1600.4 1277.3,1599.8 1278.3,1601.3 1279.3,1601.2 1280.3,1603.1 1281.3,1602.7 1282.3,1603.9 1283.3,1603 1284.3,1602.6 1285.3,1604 1286.3,1606.4 1287.3,1607.6 1288.3,1606.8 1289.3,1606.5 1290.3,1597.6 1291.3,1598.1 1292.3,1597.6 1293.3,1596.7 1294.3,1598.4 1295.3,1597.3 1296.3,1597.3 1297.3,1596 1298.3,1596.5 1299.3,1596.2 1300.3,1597.6 1301.3,1594.6 1302.3,1595.5 1303.3,1596.5 1304.3,1595.2 1305.3,1594.8 1306.3,1596.8 1307.3,1595.1 1308.3,1594.5 1309.3,1593.7 1310.3,1593.8 1311.3,1591.8 1312.3,1589.2 1313.3,1591.6 1314.3,1590.9 1315.3,1591.7 1316.3,1589.4 1317.3,1590.5 1318.3,1588.8 1319.3,1589.5 1320.3,1590.2 1321.3,1590.3 1322.3,1591.2 1323.3,1592.2 1324.3,1593 1325.3,1597.1 1326.3,1597.5 1327.3,1598.4 1328.3,1600.2 1329.3,1601.1 1330.3,1600 1331.3,1599.1 1332.3,1598.9 1333.3,1596.9 1334.3,1598.7 1335.3,1599.3 1336.3,1596.3 1337.3,1594.7 1338.3,1596.2 1339.3,1594 1340.3,1589.2 1341.3,1592 1342.3,1592.1 1343.3,1592.1 1344.3,1593.4 1345.3,1591.6 1346.3,1589.9 1347.3,1588.8 1348.3,1589.2 1349.3,1586.2 1350.3,1586.8 1351.3,1584.1 1352.3,1584.7 1353.3,1584.6 1354.3,1584.4 1355.3,1586.3 1356.3,1586 1357.3,1587.3 1358.3,1584.3 1359.3,1583.7 1360.3,1583 1361.3,1585.4 1362.3,1584.2 1363.3,1585.2 1364.3,1585.5 1365.3,1583.7 1366.3,1583.6 1367.3,1583.6 1368.3,1582.9 1369.3,1583.3 1370.3,1582.4 1371.3,1579.8 1372.3,1582.3 1373.3,1580.1 1374.3,1582.3 1375.3,1580.1 1376.3,1581.2 1377.3,1577.4 1378.3,1574.5 1379.3,1574.1 1380.3,1572.4 1381.3,1572.7 1382.3,1570.3 1383.3,1571 1384.3,1571.6 1385.3,1573.5 1386.3,1578.7 1387.3,1579.6 1388.3,1579.1 1389.3,1580 1390.3,1581.5 1391.3,1582.9 1392.3,1584.3 1393.3,1583.7 1394.3,1584.8 1395.3,1582.8 1396.3,1581.8 1397.3,1583 1398.3,1582.7 1399.3,1580.6 1400.3,1579.9 1401.3,1578.8 1402.3,1579.9 1403.3,1579.1 1404.3,1578.2 1405.3,1576.3 1406.3,1576.6 1407.3,1576.5 1408.3,1576 1409.3,1576.9 1410.3,1576.9 1411.3,1579.2 1412.3,1578.9 1413.3,1579.3 1414.3,1578.5 1415.3,1581.3 1416.3,1579.9 1417.3,1579 1418.3,1580.4 1419.3,1580.7 1420.3,1581.3 1421.3,1579 1422.3,1578.9 1423.3,1579.4 1424.3,1578.5 1425.3,1575.8 1426.3,1577.9 1427.3,1577.5 1428.3,1575 1429.3,1574.8 1430.3,1575 1431.3,1573.8 1432.3,1575.1 1433.3,1573.9 1434.3,1574.6 1435.3,1571.6 1436.3,1570.7 1437.3,1570.4 1438.3,1569.6 1439.3,1570.7 1440.4,1571.3 1441.4,1569.7 1442.4,1568.1 1443.4,1565.2 1444.4,1567.9 1445.4,1565.2 1446.4,1567.1 1447.4,1568.8 1448.4,1567.1 1449.4,1567.8 1450.4,1567.7 1451.4,1565.4 1452.4,1565.7 1453.4,1566.5 1454.4,1567.6 1455.4,1568.8 1456.4,1569.1 1457.4,1570.2 1458.4,1568.1 1459.4,1567.1 1460.4,1568.9 1461.4,1568.3 1462.4,1565.2 1463.4,1565.6 1464.4,1562.8 1465.4,1561.5 1466.4,1560.8 1467.4,1560.1 1468.4,1562.7 1469.4,1563.2 1470.4,1564.3 1471.4,1565.6 1472.4,1565.7 1473.4,1565.3 1474.4,1566.5 1475.4,1568 1476.4,1568.6 1477.4,1568.8 1478.4,1569.4 1479.4,1570.5 1480.4,1569.8 1481.4,1571.6 1482.4,1572.8 1483.4,1570.9 1484.4,1570.3 1485.4,1570.4 1486.4,1569 1487.4,1569.5 1488.4,1567.2 1489.4,1567.4 1490.4,1568.9 1491.4,1567.3 1492.4,1565.3 1493.4,1565.9 1494.4,1565.9 1495.4,1567 1496.4,1565.6 1497.4,1566.5 1498.4,1567.3 1499.4,1568.2 1500.4,1566.8 1501.4,1567.4 1502.4,1567.7 1503.4,1567.8 1504.4,1570.5 1505.4,1569.3 1506.4,1569.6 1507.4,1571.2 1508.4,1572.1 1509.4,1573.5 1510.4,1573 1511.4,1571.5 1512.4,1569.9 1513.4,1572.9 1514.4,1573.9 1515.4,1575.6 1516.4,1573 1517.4,1571 1518.4,1570.8 1519.4,1569.4 1520.4,1567.8 1521.4,1565.2 1522.4,1565.2 1523.4,1563.3 1524.4,1562.6 1525.4,1563.1 1526.4,1562.3 1527.4,1562 1528.4,1561.3 1529.4,1558.1 1530.4,1560.2 1531.4,1560.8 1532.4,1558.9 1533.4,1559.7 1534.4,1560.3 1535.4,1560.6 1536.4,1559 1537.4,1564.6 1538.4,1573.5 1539.4,1574.4 1540.4,1573.5 1541.4,1573.6 1542.4,1574.3 1543.4,1573.3 1544.4,1573.1 1545.4,1575.3 1546.4,1574 1547.4,1572.2 1548.4,1571.1 1549.4,1574.4 1550.4,1573 1551.4,1571.5 1552.4,1573.1 1553.4,1575 1554.4,1573.7 1555.4,1575.7 1556.4,1576.5 1557.4,1574.6 1558.4,1574.4 1559.4,1575.9 1560.4,1577.4 1561.4,1577.8 1562.4,1579.3 1563.4,1579.5 1564.4,1579.2 1565.4,1581 1566.4,1581.9 1567.4,1582 1568.4,1581.8 1569.4,1582.1 1570.4,1582.4 1571.4,1581.2 1572.4,1579.9 1573.4,1580.5 1574.4,1580.1 1575.4,1579.2 1576.4,1578.1 1577.4,1579.3 1578.4,1579.2 1579.4,1578.6 1580.4,1579.7 1581.4,1578.4 1582.4,1578.5 1583.4,1579.4 1584.4,1578.8 1585.4,1576.5 1586.4,1578.3 1587.4,1576.8 1588.4,1576.8 1589.4,1576.5 1590.4,1575 1591.4,1574.7 1592.4,1575 1593.4,1575.5 1594.4,1576.6 1595.4,1578.7 1596.4,1580.9 1597.4,1583.5 1598.4,1583.9 1599.4,1585.3 1600.4,1583.7 1601.4,1584.5 1602.4,1584.9 1603.4,1583.6 1604.4,1584.6 1605.4,1585 1606.4,1583.5 1607.4,1585.7 1608.4,1585.7 1609.4,1585.3 1610.4,1585.3 1611.4,1585.1 1612.4,1586.2 1613.4,1586.8 1614.4,1586.8 1615.4,1587.7 1616.4,1589.9 1617.4,1588.5 1618.4,1589.9 1619.4,1593.1 1620.4,1591.8 1621.4,1590.8 1622.4,1591.1 1623.4,1590.4 1624.4,1590.2 1625.4,1588 1626.4,1588.7 1627.4,1587.9 1628.4,1588.9 1629.4,1587.8 1630.4,1587 1631.4,1588 1632.4,1588.8 1633.4,1588.4 1634.4,1588.6 1635.4,1590.5 1636.4,1590.8 1637.4,1591.3 1638.4,1589.5 1639.4,1590.8 1640.4,1590 1641.4,1592.9 1642.4,1591.2 1643.4,1592.7 1644.4,1593.4 1645.4,1590.9 1646.4,1592.9 1647.4,1592.3 1648.4,1593.5 1649.4,1592.9 1650.4,1593.5 1651.4,1595.6 1652.4,1593.8 1653.4,1593.3 1654.4,1593.3 1655.4,1595 1656.4,1592.8 1657.4,1592.2 1658.4,1590.1 1659.4,1588.8 1660.4,1589.1 1661.4,1588.8 1662.4,1588.9 1663.4,1589.6 1664.4,1592.2 1665.4,1593.4 1666.4,1594.3 1667.4,1596.7 1668.4,1599.5 1669.4,1600.5 1670.4,1604.5 1671.4,1605.9 1672.4,1607.5 1673.4,1610.8 1674.4,1612.4 1675.4,1612.7 1676.4,1613.9 1677.4,1616.4 1678.4,1617.3 1679.4,1614.6 1680.4,1614 1681.4,1614.1 1682.4,1612 1683.4,1610.7 1684.4,1611.7 1685.4,1608.5 1686.4,1609.6 1687.4,1607.5 1688.4,1608.3 1689.4,1606.7 1690.4,1605.8 1691.4,1602.9 1692.4,1603.6 1693.4,1602.2 1694.4,1603.3 1695.4,1602.7 1696.4,1601.7 1697.4,1602.4 1698.4,1603.3 1699.4,1604.7 1700.4,1605.3 1701.4,1605.9 1702.4,1606.1 1703.4,1606.3 1704.4,1608.7 1705.4,1607.5 1706.4,1610.3 1707.4,1610.5 1708.4,1609.2 1709.4,1609.3 1710.4,1611.6 1711.4,1611.8 1712.4,1613 1713.4,1613.7 1714.4,1613.2 1715.4,1612.6 1716.4,1613.1 1717.4,1614.5 1718.4,1612.8 1719.4,1614.7 1720.4,1615.5 1721.4,1613.4 1722.4,1613.8 1723.4,1615.6 1724.4,1613.3 1725.4,1614.7 1726.4,1616.5 1727.4,1615.5 1728.4,1616.8 1729.4,1616.6 1730.4,1617 1731.4,1620 1732.4,1619 1733.4,1621.9 1734.4,1622.2 1735.4,1621.6 1736.4,1622.5 1737.4,1623.2 1738.4,1626 1739.4,1625.3 1740.4,1622.4 1741.4,1622.1 1742.4,1622 1743.4,1620.8 1744.4,1620.1 1745.4,1622.2 1746.4,1622.6 1747.4,1620.6 1748.4,1623.7 1749.4,1621.5 1750.4,1623.8 1751.4,1623.7 1752.4,1623.7 1753.4,1625.2 1754.4,1626.2 1755.4,1628.9 1756.4,1630.7 1757.4,1629 1758.4,1630.3 1759.4,1631.4 1760.4,1630.7 1761.4,1633.6 1762.4,1634 1763.4,1636.4 1764.4,1637.1 1765.4,1613.3 1766.4,1607.7 1767.4,1611.6 1768.4,1615.7 1769.4,1619.3 1770.4,1621.5 1771.4,1621.3 1772.4,1623.3 1773.4,1624 1774.4,1626.2 1775.4,1626.9 1776.4,1627.7 1777.4,1628.6 1778.4,1629.7 1779.4,1632 1780.4,1635 1781.4,1634.7 1782.4,1634 1783.5,1636.5 1784.5,1638.7 1785.5,1640.4 1786.5,1640 1787.5,1642 1788.5,1641.7 1789.5,1643.3 1790.5,1642.5 1791.5,1638.9 1792.5,1635.4 1793.5,1633 1794.5,1629.9 1795.5,1630.4 1796.5,1632.2 1797.5,1632.3 1798.5,1633.6 1799.5,1632.2 1800.5,1632.4 1801.5,1633.1 1802.5,1636 1803.5,1635.8 1804.5,1634.1 1805.5,1633.7 1806.5,1633.3 1807.5,1631.2 1808.5,1631.1 1809.5,1632.1 1810.5,1630.5 1811.5,1630.4 1812.5,1630 1813.5,1633.1 1814.5,1633.9 1815.5,1640.1 1816.5,1638.8 1817.5,1639.9 1818.5,1642.7 1819.5,1642.6 1820.5,1641.1 1821.5,1644.2 1822.5,1642 1823.5,1639.7 1824.5,1641.7 1825.5,1643 1826.5,1642.9 1827.5,1640.8 1828.5,1644.7 1829.5,1642.2 1830.5,1643.6 1831.5,1645 1832.5,1644.3 1833.5,1644.4 1834.5,1645.1 1835.5,1647.8 1836.5,1649.7 1837.5,1649.1 1838.5,1649.3 1839.5,1646.4 1840.5,1643.8 1841.5,1639.6 1842.5,1640.7 1843.5,1641.6 1844.5,1640.9 1845.5,1642.6 1846.5,1641.7 1847.5,1642.4 1848.5,1642.7 1849.5,1643.1 1850.5,1642 1851.5,1640.7 1852.5,1640.5 1853.5,1641.3 1854.5,1644 1855.5,1643.7 1856.5,1643.5 1857.5,1644.5 1858.5,1643.8 1859.5,1644.8 1860.5,1644.7 1861.5,1644.9 1862.5,1646.6 1863.5,1645.1 1864.5,1646.3 1865.5,1647.5 1866.5,1647.9 1867.5,1646.2 1868.5,1645.3 1869.5,1644.7 1870.5,1646.3 1871.5,1648 1872.5,1649.2 1873.5,1649.5 1874.5,1649.6 1875.5,1649 1876.5,1648.6 1877.5,1649.7 1878.5,1650.4 1879.5,1651.2 1880.5,1648.9 1881.5,1651.2 1882.5,1649.7 1883.5,1650.7 1884.5,1651 1885.5,1649.6 1886.5,1648.6 1887.5,1648.9 1888.5,1648.6 1889.5,1647.7 1890.5,1648.5 1891.5,1648.7 1892.5,1649.3 1893.5,1649.5 1894.5,1651.1 1895.5,1651.2 1896.5,1652.9 1897.5,1651.4 1898.5,1653 1899.5,1654.8 1900.5,1656.4 1901.5,1656.5 1902.5,1658.1 1903.5,1660.5 1904.5,1657.9 1905.5,1655.9 1906.5,1655 1907.5,1655.7 1908.5,1653.5 1909.5,1651 1910.5,1651.4 1911.5,1653.1 1912.5,1654.5 1913.5,1652.9 1914.5,1653 1915.5,1654.1 1916.5,1654 1917.5,1655.8 1918.5,1655.9 1919.5,1656.4 1920.5,1657.2 1921.5,1656.9 1922.5,1657.9 1923.5,1658.1 1924.5,1657.9 1925.5,1657.2 1926.5,1656.4 1927.5,1657.7 1928.5,1658.5 1929.5,1657.8 1930.5,1658.2 1931.5,1659.5 1932.5,1657.6 1933.5,1655.9 1934.5,1654.2 1935.5,1654.9 1936.5,1655 1937.5,1653.5 1938.5,1655.2 1939.5,1652.8 1940.5,1653.3 1941.5,1653.2 1942.5,1654.1 1943.5,1652.1 1944.5,1654.6 1945.5,1654.2 1946.5,1654.2 1947.5,1654.9 1948.5,1654.8 1949.5,1656.2 1950.5,1654.1 1951.5,1653.8 1952.5,1655.2 1953.5,1653 1954.5,1652 1955.5,1652 1956.5,1650.7 1957.5,1651.1 1958.5,1651.4 1959.5,1649.6 1960.5,1648.4 1961.5,1650.4 1962.5,1651.4 1963.5,1651.4 1964.5,1651.7 1965.5,1651.9 1966.5,1653 1967.5,1654.7 1968.5,1652 1969.5,1652.5 1970.5,1654.5 1971.5,1655.1 1972.5,1657.2 1973.5,1653.4 1974.5,1655.6 1975.5,1656.3 1976.5,1658 1977.5,1659.6 1978.5,1659.2 1979.5,1659.4 1980.5,1662.2 1981.5,1662.2 1982.5,1662.4 1983.5,1663.3 1984.5,1662.5 1985.5,1662.9 1986.5,1662.3 1987.5,1659.9 1988.5,1659.3 1989.5,1657.6 1990.5,1657.7 1991.5,1656.5 1992.5,1655.4 1993.5,1655.1 1994.5,1650.7 1995.5,1650.8 1996.5,1649.1 1997.5,1651.7 1998.5,1652.1 1999.5,1652.5 2000.5,1653.1 2001.5,1652.6 2002.5,1652.4 2003.5,1653.4 2004.5,1652.2 2005.5,1654.5 2006.5,1653.7 2007.5,1653.9 2008.5,1653.7 2009.5,1653.1 2010.5,1653.3 2011.5,1654.4 2012.5,1654.1 2013.5,1655.4 2014.5,1654.7 2015.5,1653.2 2016.5,1650.2 2017.5,1651.5 2018.5,1653.6 2019.5,1653 2020.5,1652.4 2021.5,1652 2022.5,1650.2 2023.5,1651 2024.5,1649 2025.5,1648.7 2026.5,1648.8 2027.5,1646.9 2028.5,1647.2 2029.5,1647.3 2030.5,1647 2031.5,1648.8 2032.5,1647.4 2033.5,1648.7 2034.5,1649.8 2035.5,1650 2036.5,1650.4 2037.5,1650.6 2038.5,1651.7 2039.5,1651.8 2040.5,1652 2041.5,1651.6 2042.5,1652 2043.5,1650.5 2044.5,1649.4 2045.5,1651.9 2046.5,1649.6 2047.5,1650.9 2048.5,1650.1 2049.5,1648.3 2050.5,1648.7 2051.5,1647.5 2052.5,1647.9 2053.5,1648 2054.5,1648.2 2055.5,1646.3 2056.5,1646.7 2057.5,1645.7 2058.5,1645.9 2059.5,1646.5 2060.5,1646 2061.5,1647.6 2062.5,1647.8 2063.5,1645 2064.5,1645.4 2065.5,1648.7 2066.5,1648.4 2067.5,1651.3 2068.5,1649.1 2069.5,1649.5 2070.5,1648.7 2071.5,1648.2 2072.5,1648.7 2073.5,1649.2 2074.5,1647.4 2075.5,1646.8 2076.5,1646.9 2077.5,1648 2078.5,1647.8 2079.5,1647.3 2080.5,1646 2081.5,1645.6 2082.5,1646.5 2083.5,1644.9 2084.5,1645.5 2085.5,1645.3 2086.5,1645.3 2087.5,1643.8 2088.5,1643.6 2089.5,1645 2090.5,1643.4 2091.5,1644 2092.5,1642.8 2093.5,1642.6 2094.5,1642.6 2095.5,1644.1 2096.5,1643.9 2097.5,1641.9 2098.5,1642.4 2099.5,1641.4 2100.5,1644.6 2101.5,1644.3 2102.5,1643.7 2103.5,1643.5 2104.5,1644.2 2105.5,1645 2106.5,1646 2107.5,1645.8 2108.5,1647.5 2109.5,1644.2 2110.5,1644.2 2111.5,1644.7 2112.5,1643.4 2113.5,1642.1 2114.5,1639.4 2115.5,1638.5 2116.5,1637.8 2117.5,1636.2 2118.5,1638.2 2119.5,1636.6 2120.5,1639.3 2121.5,1640.5 2122.5,1640.4 2123.5,1639.9 2124.5,1640.9 2125.5,1640.8 2126.6,1639 2127.6,1640.9 2128.6,1641.9 2129.6,1641.8 2130.6,1641.1 2131.6,1639.6 2132.6,1638.8 2133.6,1635.3 2134.6,1636.1 2135.6,1633.3 2136.6,1633.2 2137.6,1632.5 2138.6,1631.5 2139.6,1631.6 2140.6,1633.7 2141.6,1632.7 2142.6,1634 2143.6,1632.6 2144.6,1636.5 2145.6,1633.1 2146.6,1633.5 2147.6,1635.3 2148.6,1637.4 2149.6,1638.1 2150.6,1640.1 2151.6,1641.8 2152.6,1638.7 2153.6,1631.9 2154.6,1628.9 2155.6,1626.9 2156.6,1628.8 2157.6,1629.1 2158.6,1630.1 2159.6,1628.7 2160.6,1629.4 2161.6,1630.7 2162.6,1632 2163.6,1630.5 2164.6,1628.5 2165.6,1627.2 2166.6,1627.1 2167.6,1626.4 2168.6,1626.4 2169.6,1626.8 2170.6,1626.8 2171.6,1626.5 2172.6,1625.6 2173.6,1625.9 2174.6,1627.6 2175.6,1625.9 2176.6,1626.5 2177.6,1626.3 2178.6,1627.4 2179.6,1628.9 2180.6,1626.7 2181.6,1627 2182.6,1626.6 2183.6,1626 2184.6,1625.3 2185.6,1624.6 2186.6,1625.2 2187.6,1625.2 2188.6,1623.6 2189.6,1623.4 2190.6,1620.5 2191.6,1621.5 2192.6,1623.1 2193.6,1619.9 2194.6,1620.2 2195.6,1618.9 2196.6,1619.2 2197.6,1617.7 2198.6,1617.8 2199.6,1615.2 2200.6,1616.9 2201.6,1616.8 2202.6,1616.9 2203.6,1618.9 2204.6,1616.4 2205.6,1617.5 2206.6,1618.5 2207.6,1620.1 2208.6,1618.4 2209.6,1617.1 2210.6,1619.8 2211.6,1620.1 2212.6,1621 2213.6,1620.1 2214.6,1619.4 2215.6,1619.1 2216.6,1618.9 2217.6,1620.3 2218.6,1620.9 2219.6,1619.6 2220.6,1619.1 2221.6,1619.5 2222.6,1619 2223.6,1619.7 2224.6,1616.5 2225.6,1616.2 2226.6,1614.6 2227.6,1615.3 2228.6,1616.6 2229.6,1615.3 2230.6,1614.1 2231.6,1615.8 2232.6,1616.7 2233.6,1617.8 2234.6,1618.1 2235.6,1619.5 2236.6,1623.3 2237.6,1622.9 2238.6,1624.5 2239.6,1624.7 2240.6,1627.7 2241.6,1625.8 2242.6,1626.5 2243.6,1626.1 2244.6,1625.7 2245.6,1625 2246.6,1627.6 2247.6,1626.7 2248.6,1625 2249.6,1617.1 2250.6,1612.9 2251.6,1610.5 2252.6,1608.7 2253.6,1610.5 2254.6,1610.3 2255.6,1610.1 2256.6,1610.9 2257.6,1609.7 2258.6,1611 2259.6,1609.8 2260.6,1611.7 2261.6,1613 2262.6,1612.3 2263.6,1609.3 2264.6,1609.1 2265.6,1611.3 2266.6,1610.6 2267.6,1608.7 2268.6,1605.8 2269.6,1607.1 2270.6,1608.2 2271.6,1606.3 2272.6,1606.2 2273.6,1607 2274.6,1609 2275.6,1607.9 2276.6,1604.6 2277.6,1604 2278.6,1605.4 2279.6,1606.3 2280.6,1603.9 2281.6,1603.5 2282.6,1601.5 2283.6,1602.6 2284.6,1602.7 2285.6,1602.2 2286.6,1599.7 2287.6,1601.1 2288.6,1599.6 2289.6,1598.7 2290.6,1599.9 2291.6,1597.5 2292.6,1599.1 2293.6,1600.4 2294.6,1602.3 2295.6,1603.3 2296.6,1604.1 2297.6,1605.3"/>
</g>
<text class="t" x="237.8" y="1882.0" text-anchor="middle">0</text>
<text class="t" x="584.8" y="1882.0" text-anchor="middle">4</text>
<text class="t" x="931.8" y="1882.0" text-anchor="middle">8</text>
<text class="t" x="1278.9" y="1882.0" text-anchor="middle">12</text>
<text class="t" x="1625.9" y="1882.0" text-anchor="middle">16</text>
<text class="t" x="1973" y="1882.0" text-anchor="middle">20</text>
<text class="t" x="2320" y="1882.0" text-anchor="middle">24</text>
<text class="t" x="1269.5" y="1946.5" text-anchor="middle">Time (hour)</text>
<g>
<rect x="1232" y="94.5" width="1088" height="151.1" fill="#fff" stroke="#232323" stroke-width="3.3"/>
<line x1="1251.8" y1="136.4" x2="1446.8" y2="136.4" stroke="#ff0000" stroke-width="9.8"/>
<text class="k" x="1460.5" y="156.2">J01 (IGSO)</text>
<line x1="1795.9" y1="136.4" x2="1990.9" y2="136.4" stroke="#1408f8" stroke-width="9.8"/>
<text class="k" x="2003.5" y="156.2">J02 (IGSO)</text>
<line x1="1251.8" y1="203.8" x2="1446.8" y2="203.8" stroke="#003c00" stroke-width="9.8"/>
<text class="k" x="1460.5" y="222.9">J03 (IGSO)</text>
<line x1="1795.9" y1="203.8" x2="1990.9" y2="203.8" stroke="#f27d0a" stroke-width="9.8"/>
<text class="k" x="2003.5" y="222.9">J07 (GEO)</text>
</g>
</svg></body></html>
